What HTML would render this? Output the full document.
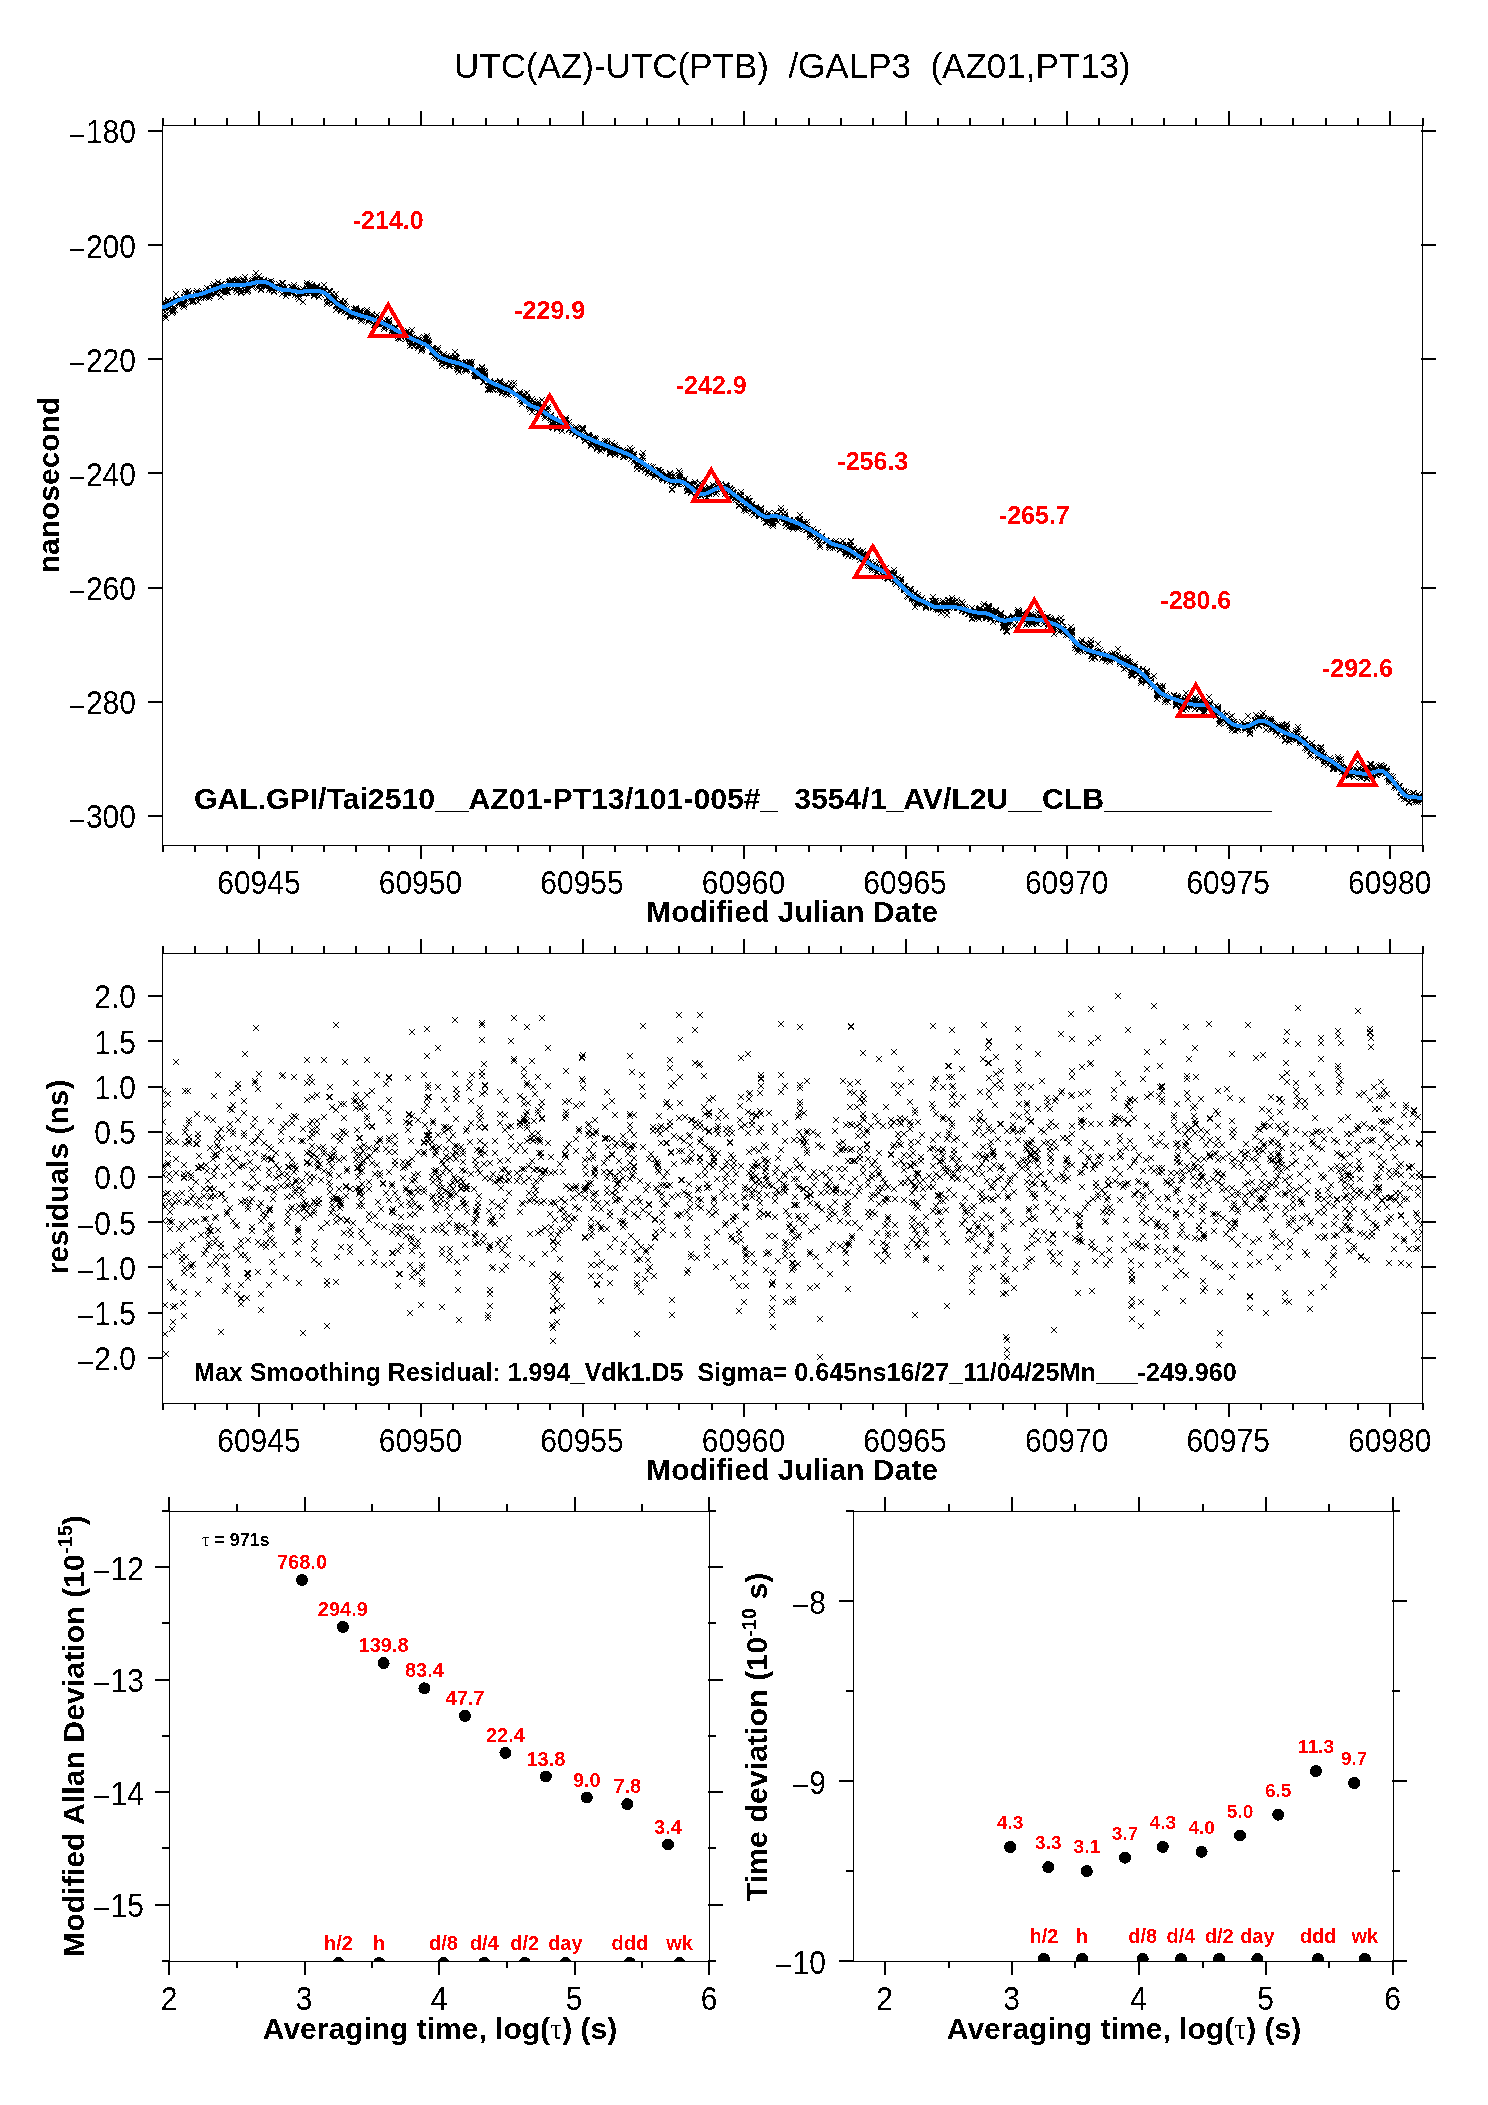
<!DOCTYPE html>
<html><head><meta charset="utf-8"><title>UTC(AZ)-UTC(PTB)</title>
<style>html,body{margin:0;padding:0;background:#fff;width:1488px;height:2105px;overflow:hidden}
svg{display:block;font-family:"Liberation Sans", sans-serif}</style></head>
<body><svg width="1488" height="2105" viewBox="0 0 1488 2105" shape-rendering="crispEdges">
<rect width="1488" height="2105" fill="#fff"/>
<defs>
<filter id="crisp" x="0" y="0" width="100%" height="100%" filterUnits="userSpaceOnUse"><feComponentTransfer><feFuncA type="discrete" tableValues="0 1"/></feComponentTransfer></filter>
<clipPath id="clipTop"><rect x="162" y="125" width="1261" height="720"/></clipPath>
<clipPath id="clipRes"><rect x="162" y="953" width="1261" height="450"/></clipPath>
<clipPath id="clipA"><rect x="169" y="1511" width="540" height="450"/></clipPath>
<clipPath id="clipB"><rect x="853" y="1511" width="540" height="450"/></clipPath>
</defs>
<g filter="url(#crisp)">
<rect x="162" y="125" width="1261" height="1" fill="#000"/>
<rect x="162" y="845" width="1261" height="1" fill="#000"/>
<rect x="162" y="125" width="1" height="721" fill="#000"/>
<rect x="1422" y="125" width="1" height="721" fill="#000"/>
<rect x="258" y="111" width="2" height="15" fill="#000"/>
<rect x="258" y="845" width="2" height="14" fill="#000"/>
<rect x="420" y="111" width="2" height="15" fill="#000"/>
<rect x="420" y="845" width="2" height="14" fill="#000"/>
<rect x="582" y="111" width="2" height="15" fill="#000"/>
<rect x="582" y="845" width="2" height="14" fill="#000"/>
<rect x="743" y="111" width="2" height="15" fill="#000"/>
<rect x="743" y="845" width="2" height="14" fill="#000"/>
<rect x="905" y="111" width="2" height="15" fill="#000"/>
<rect x="905" y="845" width="2" height="14" fill="#000"/>
<rect x="1066" y="111" width="2" height="15" fill="#000"/>
<rect x="1066" y="845" width="2" height="14" fill="#000"/>
<rect x="1228" y="111" width="2" height="15" fill="#000"/>
<rect x="1228" y="845" width="2" height="14" fill="#000"/>
<rect x="1389" y="111" width="2" height="15" fill="#000"/>
<rect x="1389" y="845" width="2" height="14" fill="#000"/>
<rect x="162" y="118" width="2" height="8" fill="#000"/>
<rect x="162" y="845" width="2" height="7" fill="#000"/>
<rect x="194" y="118" width="2" height="8" fill="#000"/>
<rect x="194" y="845" width="2" height="7" fill="#000"/>
<rect x="226" y="118" width="2" height="8" fill="#000"/>
<rect x="226" y="845" width="2" height="7" fill="#000"/>
<rect x="291" y="118" width="2" height="8" fill="#000"/>
<rect x="291" y="845" width="2" height="7" fill="#000"/>
<rect x="323" y="118" width="2" height="8" fill="#000"/>
<rect x="323" y="845" width="2" height="7" fill="#000"/>
<rect x="355" y="118" width="2" height="8" fill="#000"/>
<rect x="355" y="845" width="2" height="7" fill="#000"/>
<rect x="388" y="118" width="2" height="8" fill="#000"/>
<rect x="388" y="845" width="2" height="7" fill="#000"/>
<rect x="452" y="118" width="2" height="8" fill="#000"/>
<rect x="452" y="845" width="2" height="7" fill="#000"/>
<rect x="485" y="118" width="2" height="8" fill="#000"/>
<rect x="485" y="845" width="2" height="7" fill="#000"/>
<rect x="517" y="118" width="2" height="8" fill="#000"/>
<rect x="517" y="845" width="2" height="7" fill="#000"/>
<rect x="549" y="118" width="2" height="8" fill="#000"/>
<rect x="549" y="845" width="2" height="7" fill="#000"/>
<rect x="614" y="118" width="2" height="8" fill="#000"/>
<rect x="614" y="845" width="2" height="7" fill="#000"/>
<rect x="646" y="118" width="2" height="8" fill="#000"/>
<rect x="646" y="845" width="2" height="7" fill="#000"/>
<rect x="678" y="118" width="2" height="8" fill="#000"/>
<rect x="678" y="845" width="2" height="7" fill="#000"/>
<rect x="711" y="118" width="2" height="8" fill="#000"/>
<rect x="711" y="845" width="2" height="7" fill="#000"/>
<rect x="775" y="118" width="2" height="8" fill="#000"/>
<rect x="775" y="845" width="2" height="7" fill="#000"/>
<rect x="808" y="118" width="2" height="8" fill="#000"/>
<rect x="808" y="845" width="2" height="7" fill="#000"/>
<rect x="840" y="118" width="2" height="8" fill="#000"/>
<rect x="840" y="845" width="2" height="7" fill="#000"/>
<rect x="872" y="118" width="2" height="8" fill="#000"/>
<rect x="872" y="845" width="2" height="7" fill="#000"/>
<rect x="937" y="118" width="2" height="8" fill="#000"/>
<rect x="937" y="845" width="2" height="7" fill="#000"/>
<rect x="969" y="118" width="2" height="8" fill="#000"/>
<rect x="969" y="845" width="2" height="7" fill="#000"/>
<rect x="1002" y="118" width="2" height="8" fill="#000"/>
<rect x="1002" y="845" width="2" height="7" fill="#000"/>
<rect x="1034" y="118" width="2" height="8" fill="#000"/>
<rect x="1034" y="845" width="2" height="7" fill="#000"/>
<rect x="1098" y="118" width="2" height="8" fill="#000"/>
<rect x="1098" y="845" width="2" height="7" fill="#000"/>
<rect x="1131" y="118" width="2" height="8" fill="#000"/>
<rect x="1131" y="845" width="2" height="7" fill="#000"/>
<rect x="1163" y="118" width="2" height="8" fill="#000"/>
<rect x="1163" y="845" width="2" height="7" fill="#000"/>
<rect x="1195" y="118" width="2" height="8" fill="#000"/>
<rect x="1195" y="845" width="2" height="7" fill="#000"/>
<rect x="1260" y="118" width="2" height="8" fill="#000"/>
<rect x="1260" y="845" width="2" height="7" fill="#000"/>
<rect x="1292" y="118" width="2" height="8" fill="#000"/>
<rect x="1292" y="845" width="2" height="7" fill="#000"/>
<rect x="1325" y="118" width="2" height="8" fill="#000"/>
<rect x="1325" y="845" width="2" height="7" fill="#000"/>
<rect x="1357" y="118" width="2" height="8" fill="#000"/>
<rect x="1357" y="845" width="2" height="7" fill="#000"/>
<rect x="1422" y="118" width="2" height="8" fill="#000"/>
<rect x="1422" y="845" width="2" height="7" fill="#000"/>
<rect x="148" y="130" width="15" height="2" fill="#000"/>
<rect x="1421" y="130" width="15" height="2" fill="#000"/>
<rect x="148" y="244" width="15" height="2" fill="#000"/>
<rect x="1421" y="244" width="15" height="2" fill="#000"/>
<rect x="148" y="358" width="15" height="2" fill="#000"/>
<rect x="1421" y="358" width="15" height="2" fill="#000"/>
<rect x="148" y="472" width="15" height="2" fill="#000"/>
<rect x="1421" y="472" width="15" height="2" fill="#000"/>
<rect x="148" y="587" width="15" height="2" fill="#000"/>
<rect x="1421" y="587" width="15" height="2" fill="#000"/>
<rect x="148" y="701" width="15" height="2" fill="#000"/>
<rect x="1421" y="701" width="15" height="2" fill="#000"/>
<rect x="148" y="815" width="15" height="2" fill="#000"/>
<rect x="1421" y="815" width="15" height="2" fill="#000"/>
<text x="136" y="143.5" font-size="30" text-anchor="end" fill="#000" transform="matrix(1 0 0 1.08 0 -11.48)"><tspan dy="3">−</tspan><tspan dy="-3">180</tspan></text>
<text x="136" y="257.66666666666663" font-size="30" text-anchor="end" fill="#000" transform="matrix(1 0 0 1.08 0 -20.61)"><tspan dy="3">−</tspan><tspan dy="-3">200</tspan></text>
<text x="136" y="371.8333333333333" font-size="30" text-anchor="end" fill="#000" transform="matrix(1 0 0 1.08 0 -29.75)"><tspan dy="3">−</tspan><tspan dy="-3">220</tspan></text>
<text x="136" y="486.0" font-size="30" text-anchor="end" fill="#000" transform="matrix(1 0 0 1.08 0 -38.88)"><tspan dy="3">−</tspan><tspan dy="-3">240</tspan></text>
<text x="136" y="600.1666666666666" font-size="30" text-anchor="end" fill="#000" transform="matrix(1 0 0 1.08 0 -48.01)"><tspan dy="3">−</tspan><tspan dy="-3">260</tspan></text>
<text x="136" y="714.3333333333333" font-size="30" text-anchor="end" fill="#000" transform="matrix(1 0 0 1.08 0 -57.15)"><tspan dy="3">−</tspan><tspan dy="-3">280</tspan></text>
<text x="136" y="828.5" font-size="30" text-anchor="end" fill="#000" transform="matrix(1 0 0 1.08 0 -66.28)"><tspan dy="3">−</tspan><tspan dy="-3">300</tspan></text>
<text x="258.9230769230769" y="894" font-size="30" text-anchor="middle" fill="#000" transform="matrix(1 0 0 1.08 0 -71.52)">60945</text>
<text x="420.46153846153845" y="894" font-size="30" text-anchor="middle" fill="#000" transform="matrix(1 0 0 1.08 0 -71.52)">60950</text>
<text x="582.0" y="894" font-size="30" text-anchor="middle" fill="#000" transform="matrix(1 0 0 1.08 0 -71.52)">60955</text>
<text x="743.5384615384615" y="894" font-size="30" text-anchor="middle" fill="#000" transform="matrix(1 0 0 1.08 0 -71.52)">60960</text>
<text x="905.0769230769231" y="894" font-size="30" text-anchor="middle" fill="#000" transform="matrix(1 0 0 1.08 0 -71.52)">60965</text>
<text x="1066.6153846153845" y="894" font-size="30" text-anchor="middle" fill="#000" transform="matrix(1 0 0 1.08 0 -71.52)">60970</text>
<text x="1228.1538461538462" y="894" font-size="30" text-anchor="middle" fill="#000" transform="matrix(1 0 0 1.08 0 -71.52)">60975</text>
<text x="1389.6923076923076" y="894" font-size="30" text-anchor="middle" fill="#000" transform="matrix(1 0 0 1.08 0 -71.52)">60980</text>
<text x="792.0" y="922" font-size="30" font-weight="bold" text-anchor="middle" fill="#000">Modified Julian Date</text>
<text x="59" y="485.0" font-size="30" font-weight="bold" text-anchor="middle" fill="#000" transform="rotate(-90 59 485.0)">nanosecond</text>
<text x="454" y="77.5" font-size="35" text-anchor="start" fill="#000" xml:space="preserve">UTC(AZ)-UTC(PTB)&#160;&#160;/GALP3&#160;&#160;(AZ01,PT13)</text>
<g clip-path="url(#clipTop)"><path d="M159 300l6 6m0-6l-6 6M160 304l6 6m0-6l-6 6M160 307l6 6m0-6l-6 6M159 306l6 6m0-6l-6 6M160 306l6 6m0-6l-6 6M160 304l6 6m0-6l-6 6M159 304l6 6m0-6l-6 6M160 299l6 6m0-6l-6 6M160 301l6 6m0-6l-6 6M160 304l6 6m0-6l-6 6M163 304l6 6m0-6l-6 6M163 315l6 6m0-6l-6 6M162 314l6 6m0-6l-6 6M162 309l6 6m0-6l-6 6M162 312l6 6m0-6l-6 6M162 305l6 6m0-6l-6 6M165 301l6 6m0-6l-6 6M165 297l6 6m0-6l-6 6M165 302l6 6m0-6l-6 6M165 298l6 6m0-6l-6 6M165 303l6 6m0-6l-6 6M165 300l6 6m0-6l-6 6M166 305l6 6m0-6l-6 6M165 303l6 6m0-6l-6 6M165 301l6 6m0-6l-6 6M167 305l6 6m0-6l-6 6M167 304l6 6m0-6l-6 6M167 308l6 6m0-6l-6 6M167 299l6 6m0-6l-6 6M166 299l6 6m0-6l-6 6M167 301l6 6m0-6l-6 6M167 304l6 6m0-6l-6 6M166 303l6 6m0-6l-6 6M166 301l6 6m0-6l-6 6M170 305l6 6m0-6l-6 6M169 310l6 6m0-6l-6 6M169 303l6 6m0-6l-6 6M170 309l6 6m0-6l-6 6M170 307l6 6m0-6l-6 6M169 302l6 6m0-6l-6 6M170 308l6 6m0-6l-6 6M172 307l6 6m0-6l-6 6M172 300l6 6m0-6l-6 6M171 306l6 6m0-6l-6 6M173 297l6 6m0-6l-6 6M173 291l6 6m0-6l-6 6M173 299l6 6m0-6l-6 6M173 296l6 6m0-6l-6 6M173 298l6 6m0-6l-6 6M176 301l6 6m0-6l-6 6M176 300l6 6m0-6l-6 6M176 299l6 6m0-6l-6 6M179 301l6 6m0-6l-6 6M179 301l6 6m0-6l-6 6M179 298l6 6m0-6l-6 6M179 300l6 6m0-6l-6 6M180 303l6 6m0-6l-6 6M179 297l6 6m0-6l-6 6M181 301l6 6m0-6l-6 6M181 295l6 6m0-6l-6 6M181 295l6 6m0-6l-6 6M181 295l6 6m0-6l-6 6M181 304l6 6m0-6l-6 6M181 294l6 6m0-6l-6 6M181 302l6 6m0-6l-6 6M183 299l6 6m0-6l-6 6M183 296l6 6m0-6l-6 6M182 292l6 6m0-6l-6 6M183 291l6 6m0-6l-6 6M182 300l6 6m0-6l-6 6M182 292l6 6m0-6l-6 6M182 298l6 6m0-6l-6 6M182 289l6 6m0-6l-6 6M185 291l6 6m0-6l-6 6M186 290l6 6m0-6l-6 6M186 291l6 6m0-6l-6 6M186 291l6 6m0-6l-6 6M186 290l6 6m0-6l-6 6M185 288l6 6m0-6l-6 6M185 295l6 6m0-6l-6 6M185 293l6 6m0-6l-6 6M186 291l6 6m0-6l-6 6M188 294l6 6m0-6l-6 6M188 293l6 6m0-6l-6 6M188 294l6 6m0-6l-6 6M188 299l6 6m0-6l-6 6M188 293l6 6m0-6l-6 6M188 299l6 6m0-6l-6 6M188 296l6 6m0-6l-6 6M190 294l6 6m0-6l-6 6M190 298l6 6m0-6l-6 6M190 297l6 6m0-6l-6 6M190 299l6 6m0-6l-6 6M193 294l6 6m0-6l-6 6M194 290l6 6m0-6l-6 6M193 290l6 6m0-6l-6 6M194 288l6 6m0-6l-6 6M193 292l6 6m0-6l-6 6M193 295l6 6m0-6l-6 6M195 289l6 6m0-6l-6 6M196 293l6 6m0-6l-6 6M196 291l6 6m0-6l-6 6M196 290l6 6m0-6l-6 6M195 299l6 6m0-6l-6 6M195 289l6 6m0-6l-6 6M195 291l6 6m0-6l-6 6M198 293l6 6m0-6l-6 6M198 290l6 6m0-6l-6 6M198 295l6 6m0-6l-6 6M198 290l6 6m0-6l-6 6M201 293l6 6m0-6l-6 6M201 291l6 6m0-6l-6 6M201 291l6 6m0-6l-6 6M201 295l6 6m0-6l-6 6M204 285l6 6m0-6l-6 6M203 288l6 6m0-6l-6 6M203 292l6 6m0-6l-6 6M203 294l6 6m0-6l-6 6M204 289l6 6m0-6l-6 6M205 289l6 6m0-6l-6 6M206 290l6 6m0-6l-6 6M206 293l6 6m0-6l-6 6M205 292l6 6m0-6l-6 6M206 295l6 6m0-6l-6 6M205 292l6 6m0-6l-6 6M206 292l6 6m0-6l-6 6M207 289l6 6m0-6l-6 6M207 289l6 6m0-6l-6 6M208 291l6 6m0-6l-6 6M207 293l6 6m0-6l-6 6M207 291l6 6m0-6l-6 6M208 289l6 6m0-6l-6 6M207 286l6 6m0-6l-6 6M207 291l6 6m0-6l-6 6M207 288l6 6m0-6l-6 6M210 283l6 6m0-6l-6 6M211 281l6 6m0-6l-6 6M210 285l6 6m0-6l-6 6M211 286l6 6m0-6l-6 6M211 286l6 6m0-6l-6 6M211 287l6 6m0-6l-6 6M211 285l6 6m0-6l-6 6M213 291l6 6m0-6l-6 6M213 291l6 6m0-6l-6 6M213 290l6 6m0-6l-6 6M213 288l6 6m0-6l-6 6M212 290l6 6m0-6l-6 6M213 284l6 6m0-6l-6 6M212 287l6 6m0-6l-6 6M212 289l6 6m0-6l-6 6M215 282l6 6m0-6l-6 6M215 279l6 6m0-6l-6 6M215 283l6 6m0-6l-6 6M214 285l6 6m0-6l-6 6M214 283l6 6m0-6l-6 6M214 284l6 6m0-6l-6 6M215 288l6 6m0-6l-6 6M214 283l6 6m0-6l-6 6M218 282l6 6m0-6l-6 6M218 285l6 6m0-6l-6 6M218 288l6 6m0-6l-6 6M219 285l6 6m0-6l-6 6M218 285l6 6m0-6l-6 6M218 294l6 6m0-6l-6 6M218 281l6 6m0-6l-6 6M219 281l6 6m0-6l-6 6M218 288l6 6m0-6l-6 6M219 289l6 6m0-6l-6 6M222 290l6 6m0-6l-6 6M221 283l6 6m0-6l-6 6M222 284l6 6m0-6l-6 6M222 288l6 6m0-6l-6 6M224 288l6 6m0-6l-6 6M224 289l6 6m0-6l-6 6M225 289l6 6m0-6l-6 6M225 282l6 6m0-6l-6 6M224 287l6 6m0-6l-6 6M224 285l6 6m0-6l-6 6M224 285l6 6m0-6l-6 6M227 279l6 6m0-6l-6 6M226 279l6 6m0-6l-6 6M227 278l6 6m0-6l-6 6M227 281l6 6m0-6l-6 6M227 284l6 6m0-6l-6 6M226 281l6 6m0-6l-6 6M230 285l6 6m0-6l-6 6M230 279l6 6m0-6l-6 6M230 278l6 6m0-6l-6 6M229 277l6 6m0-6l-6 6M230 279l6 6m0-6l-6 6M230 282l6 6m0-6l-6 6M229 283l6 6m0-6l-6 6M229 278l6 6m0-6l-6 6M230 281l6 6m0-6l-6 6M234 285l6 6m0-6l-6 6M233 285l6 6m0-6l-6 6M233 281l6 6m0-6l-6 6M234 289l6 6m0-6l-6 6M233 287l6 6m0-6l-6 6M235 280l6 6m0-6l-6 6M235 276l6 6m0-6l-6 6M235 276l6 6m0-6l-6 6M236 281l6 6m0-6l-6 6M235 278l6 6m0-6l-6 6M238 289l6 6m0-6l-6 6M239 281l6 6m0-6l-6 6M238 289l6 6m0-6l-6 6M238 286l6 6m0-6l-6 6M238 287l6 6m0-6l-6 6M238 283l6 6m0-6l-6 6M238 290l6 6m0-6l-6 6M238 286l6 6m0-6l-6 6M238 289l6 6m0-6l-6 6M242 282l6 6m0-6l-6 6M241 278l6 6m0-6l-6 6M241 277l6 6m0-6l-6 6M242 287l6 6m0-6l-6 6M242 283l6 6m0-6l-6 6M241 279l6 6m0-6l-6 6M242 283l6 6m0-6l-6 6M242 274l6 6m0-6l-6 6M241 281l6 6m0-6l-6 6M241 279l6 6m0-6l-6 6M244 280l6 6m0-6l-6 6M245 287l6 6m0-6l-6 6M244 289l6 6m0-6l-6 6M245 288l6 6m0-6l-6 6M245 287l6 6m0-6l-6 6M244 287l6 6m0-6l-6 6M245 283l6 6m0-6l-6 6M245 287l6 6m0-6l-6 6M245 285l6 6m0-6l-6 6M245 283l6 6m0-6l-6 6M247 282l6 6m0-6l-6 6M248 281l6 6m0-6l-6 6M247 280l6 6m0-6l-6 6M249 284l6 6m0-6l-6 6M250 277l6 6m0-6l-6 6M249 284l6 6m0-6l-6 6M249 282l6 6m0-6l-6 6M249 278l6 6m0-6l-6 6M249 280l6 6m0-6l-6 6M249 281l6 6m0-6l-6 6M250 280l6 6m0-6l-6 6M252 278l6 6m0-6l-6 6M252 274l6 6m0-6l-6 6M252 274l6 6m0-6l-6 6M253 270l6 6m0-6l-6 6M252 276l6 6m0-6l-6 6M252 278l6 6m0-6l-6 6M255 285l6 6m0-6l-6 6M256 273l6 6m0-6l-6 6M255 278l6 6m0-6l-6 6M255 283l6 6m0-6l-6 6M256 281l6 6m0-6l-6 6M255 277l6 6m0-6l-6 6M255 280l6 6m0-6l-6 6M255 274l6 6m0-6l-6 6M258 287l6 6m0-6l-6 6M258 283l6 6m0-6l-6 6M258 282l6 6m0-6l-6 6M258 286l6 6m0-6l-6 6M258 281l6 6m0-6l-6 6M258 276l6 6m0-6l-6 6M261 282l6 6m0-6l-6 6M261 278l6 6m0-6l-6 6M261 277l6 6m0-6l-6 6M261 278l6 6m0-6l-6 6M261 282l6 6m0-6l-6 6M260 281l6 6m0-6l-6 6M263 284l6 6m0-6l-6 6M263 280l6 6m0-6l-6 6M263 284l6 6m0-6l-6 6M263 280l6 6m0-6l-6 6M263 283l6 6m0-6l-6 6M263 282l6 6m0-6l-6 6M266 279l6 6m0-6l-6 6M266 287l6 6m0-6l-6 6M266 280l6 6m0-6l-6 6M266 283l6 6m0-6l-6 6M266 281l6 6m0-6l-6 6M265 279l6 6m0-6l-6 6M266 280l6 6m0-6l-6 6M268 285l6 6m0-6l-6 6M267 283l6 6m0-6l-6 6M267 283l6 6m0-6l-6 6M267 285l6 6m0-6l-6 6M268 278l6 6m0-6l-6 6M268 280l6 6m0-6l-6 6M268 280l6 6m0-6l-6 6M268 280l6 6m0-6l-6 6M269 286l6 6m0-6l-6 6M270 284l6 6m0-6l-6 6M269 281l6 6m0-6l-6 6M269 285l6 6m0-6l-6 6M268 285l6 6m0-6l-6 6M269 287l6 6m0-6l-6 6M271 284l6 6m0-6l-6 6M271 288l6 6m0-6l-6 6M271 289l6 6m0-6l-6 6M273 285l6 6m0-6l-6 6M272 285l6 6m0-6l-6 6M273 283l6 6m0-6l-6 6M273 284l6 6m0-6l-6 6M276 285l6 6m0-6l-6 6M276 286l6 6m0-6l-6 6M276 281l6 6m0-6l-6 6M278 284l6 6m0-6l-6 6M278 284l6 6m0-6l-6 6M278 287l6 6m0-6l-6 6M279 286l6 6m0-6l-6 6M279 291l6 6m0-6l-6 6M280 284l6 6m0-6l-6 6M279 280l6 6m0-6l-6 6M280 280l6 6m0-6l-6 6M284 290l6 6m0-6l-6 6M283 293l6 6m0-6l-6 6M284 287l6 6m0-6l-6 6M283 284l6 6m0-6l-6 6M284 288l6 6m0-6l-6 6M284 288l6 6m0-6l-6 6M285 290l6 6m0-6l-6 6M285 286l6 6m0-6l-6 6M285 287l6 6m0-6l-6 6M285 288l6 6m0-6l-6 6M285 289l6 6m0-6l-6 6M286 287l6 6m0-6l-6 6M285 287l6 6m0-6l-6 6M289 287l6 6m0-6l-6 6M289 284l6 6m0-6l-6 6M289 290l6 6m0-6l-6 6M289 284l6 6m0-6l-6 6M288 290l6 6m0-6l-6 6M289 289l6 6m0-6l-6 6M289 285l6 6m0-6l-6 6M289 287l6 6m0-6l-6 6M289 288l6 6m0-6l-6 6M291 282l6 6m0-6l-6 6M291 284l6 6m0-6l-6 6M291 288l6 6m0-6l-6 6M292 292l6 6m0-6l-6 6M292 289l6 6m0-6l-6 6M292 288l6 6m0-6l-6 6M293 289l6 6m0-6l-6 6M293 288l6 6m0-6l-6 6M293 289l6 6m0-6l-6 6M292 289l6 6m0-6l-6 6M293 285l6 6m0-6l-6 6M295 292l6 6m0-6l-6 6M296 296l6 6m0-6l-6 6M295 292l6 6m0-6l-6 6M296 293l6 6m0-6l-6 6M295 294l6 6m0-6l-6 6M295 291l6 6m0-6l-6 6M296 290l6 6m0-6l-6 6M295 292l6 6m0-6l-6 6M296 291l6 6m0-6l-6 6M299 289l6 6m0-6l-6 6M298 290l6 6m0-6l-6 6M298 287l6 6m0-6l-6 6M301 291l6 6m0-6l-6 6M301 290l6 6m0-6l-6 6M301 290l6 6m0-6l-6 6M300 299l6 6m0-6l-6 6M300 290l6 6m0-6l-6 6M300 286l6 6m0-6l-6 6M301 291l6 6m0-6l-6 6M300 290l6 6m0-6l-6 6M300 286l6 6m0-6l-6 6M304 287l6 6m0-6l-6 6M304 283l6 6m0-6l-6 6M304 287l6 6m0-6l-6 6M303 290l6 6m0-6l-6 6M304 280l6 6m0-6l-6 6M304 286l6 6m0-6l-6 6M304 282l6 6m0-6l-6 6M304 290l6 6m0-6l-6 6M304 288l6 6m0-6l-6 6M307 286l6 6m0-6l-6 6M307 288l6 6m0-6l-6 6M307 290l6 6m0-6l-6 6M307 284l6 6m0-6l-6 6M307 281l6 6m0-6l-6 6M307 288l6 6m0-6l-6 6M307 289l6 6m0-6l-6 6M307 285l6 6m0-6l-6 6M307 287l6 6m0-6l-6 6M309 282l6 6m0-6l-6 6M309 285l6 6m0-6l-6 6M309 285l6 6m0-6l-6 6M309 286l6 6m0-6l-6 6M309 283l6 6m0-6l-6 6M310 286l6 6m0-6l-6 6M309 284l6 6m0-6l-6 6M309 286l6 6m0-6l-6 6M311 289l6 6m0-6l-6 6M311 292l6 6m0-6l-6 6M312 292l6 6m0-6l-6 6M312 289l6 6m0-6l-6 6M311 288l6 6m0-6l-6 6M311 293l6 6m0-6l-6 6M311 290l6 6m0-6l-6 6M311 290l6 6m0-6l-6 6M314 284l6 6m0-6l-6 6M314 283l6 6m0-6l-6 6M314 287l6 6m0-6l-6 6M315 287l6 6m0-6l-6 6M314 287l6 6m0-6l-6 6M314 290l6 6m0-6l-6 6M315 287l6 6m0-6l-6 6M314 285l6 6m0-6l-6 6M314 285l6 6m0-6l-6 6M315 287l6 6m0-6l-6 6M316 290l6 6m0-6l-6 6M316 286l6 6m0-6l-6 6M316 290l6 6m0-6l-6 6M316 294l6 6m0-6l-6 6M317 288l6 6m0-6l-6 6M318 292l6 6m0-6l-6 6M318 289l6 6m0-6l-6 6M320 288l6 6m0-6l-6 6M321 288l6 6m0-6l-6 6M321 282l6 6m0-6l-6 6M321 288l6 6m0-6l-6 6M321 289l6 6m0-6l-6 6M321 286l6 6m0-6l-6 6M324 299l6 6m0-6l-6 6M324 295l6 6m0-6l-6 6M324 299l6 6m0-6l-6 6M324 301l6 6m0-6l-6 6M327 295l6 6m0-6l-6 6M327 294l6 6m0-6l-6 6M327 293l6 6m0-6l-6 6M326 288l6 6m0-6l-6 6M326 293l6 6m0-6l-6 6M327 289l6 6m0-6l-6 6M326 294l6 6m0-6l-6 6M327 288l6 6m0-6l-6 6M326 293l6 6m0-6l-6 6M327 295l6 6m0-6l-6 6M329 291l6 6m0-6l-6 6M328 298l6 6m0-6l-6 6M329 295l6 6m0-6l-6 6M329 298l6 6m0-6l-6 6M328 294l6 6m0-6l-6 6M329 295l6 6m0-6l-6 6M329 295l6 6m0-6l-6 6M329 298l6 6m0-6l-6 6M331 300l6 6m0-6l-6 6M331 299l6 6m0-6l-6 6M330 300l6 6m0-6l-6 6M331 296l6 6m0-6l-6 6M331 297l6 6m0-6l-6 6M331 297l6 6m0-6l-6 6M331 295l6 6m0-6l-6 6M333 291l6 6m0-6l-6 6M334 302l6 6m0-6l-6 6M333 296l6 6m0-6l-6 6M334 306l6 6m0-6l-6 6M333 307l6 6m0-6l-6 6M333 303l6 6m0-6l-6 6M334 303l6 6m0-6l-6 6M334 302l6 6m0-6l-6 6M336 303l6 6m0-6l-6 6M337 304l6 6m0-6l-6 6M336 302l6 6m0-6l-6 6M336 304l6 6m0-6l-6 6M336 301l6 6m0-6l-6 6M337 304l6 6m0-6l-6 6M337 304l6 6m0-6l-6 6M338 305l6 6m0-6l-6 6M338 308l6 6m0-6l-6 6M338 305l6 6m0-6l-6 6M338 305l6 6m0-6l-6 6M338 298l6 6m0-6l-6 6M337 300l6 6m0-6l-6 6M337 301l6 6m0-6l-6 6M339 301l6 6m0-6l-6 6M338 306l6 6m0-6l-6 6M342 298l6 6m0-6l-6 6M341 302l6 6m0-6l-6 6M341 304l6 6m0-6l-6 6M341 301l6 6m0-6l-6 6M341 309l6 6m0-6l-6 6M341 304l6 6m0-6l-6 6M341 302l6 6m0-6l-6 6M344 306l6 6m0-6l-6 6M344 306l6 6m0-6l-6 6M344 310l6 6m0-6l-6 6M344 310l6 6m0-6l-6 6M343 304l6 6m0-6l-6 6M343 307l6 6m0-6l-6 6M343 307l6 6m0-6l-6 6M343 308l6 6m0-6l-6 6M347 309l6 6m0-6l-6 6M347 314l6 6m0-6l-6 6M347 313l6 6m0-6l-6 6M348 313l6 6m0-6l-6 6M347 312l6 6m0-6l-6 6M350 313l6 6m0-6l-6 6M351 309l6 6m0-6l-6 6M351 306l6 6m0-6l-6 6M353 307l6 6m0-6l-6 6M353 306l6 6m0-6l-6 6M353 306l6 6m0-6l-6 6M353 312l6 6m0-6l-6 6M353 310l6 6m0-6l-6 6M354 310l6 6m0-6l-6 6M354 308l6 6m0-6l-6 6M353 305l6 6m0-6l-6 6M354 311l6 6m0-6l-6 6M353 310l6 6m0-6l-6 6M356 313l6 6m0-6l-6 6M356 314l6 6m0-6l-6 6M355 311l6 6m0-6l-6 6M356 313l6 6m0-6l-6 6M356 310l6 6m0-6l-6 6M355 312l6 6m0-6l-6 6M356 311l6 6m0-6l-6 6M357 313l6 6m0-6l-6 6M358 308l6 6m0-6l-6 6M357 312l6 6m0-6l-6 6M357 313l6 6m0-6l-6 6M357 308l6 6m0-6l-6 6M357 311l6 6m0-6l-6 6M357 311l6 6m0-6l-6 6M357 310l6 6m0-6l-6 6M357 308l6 6m0-6l-6 6M358 314l6 6m0-6l-6 6M359 314l6 6m0-6l-6 6M359 313l6 6m0-6l-6 6M359 315l6 6m0-6l-6 6M358 318l6 6m0-6l-6 6M359 317l6 6m0-6l-6 6M359 313l6 6m0-6l-6 6M358 316l6 6m0-6l-6 6M359 312l6 6m0-6l-6 6M359 314l6 6m0-6l-6 6M359 312l6 6m0-6l-6 6M360 312l6 6m0-6l-6 6M362 309l6 6m0-6l-6 6M361 313l6 6m0-6l-6 6M361 312l6 6m0-6l-6 6M364 307l6 6m0-6l-6 6M364 309l6 6m0-6l-6 6M364 311l6 6m0-6l-6 6M364 311l6 6m0-6l-6 6M364 311l6 6m0-6l-6 6M364 313l6 6m0-6l-6 6M366 313l6 6m0-6l-6 6M366 317l6 6m0-6l-6 6M365 319l6 6m0-6l-6 6M366 315l6 6m0-6l-6 6M366 316l6 6m0-6l-6 6M367 314l6 6m0-6l-6 6M366 318l6 6m0-6l-6 6M369 313l6 6m0-6l-6 6M369 313l6 6m0-6l-6 6M369 311l6 6m0-6l-6 6M369 315l6 6m0-6l-6 6M372 322l6 6m0-6l-6 6M372 315l6 6m0-6l-6 6M372 320l6 6m0-6l-6 6M372 317l6 6m0-6l-6 6M371 322l6 6m0-6l-6 6M374 321l6 6m0-6l-6 6M374 316l6 6m0-6l-6 6M374 316l6 6m0-6l-6 6M374 312l6 6m0-6l-6 6M374 317l6 6m0-6l-6 6M375 320l6 6m0-6l-6 6M377 319l6 6m0-6l-6 6M378 321l6 6m0-6l-6 6M377 317l6 6m0-6l-6 6M377 319l6 6m0-6l-6 6M377 317l6 6m0-6l-6 6M378 315l6 6m0-6l-6 6M380 321l6 6m0-6l-6 6M380 321l6 6m0-6l-6 6M381 326l6 6m0-6l-6 6M381 324l6 6m0-6l-6 6M383 323l6 6m0-6l-6 6M383 316l6 6m0-6l-6 6M383 320l6 6m0-6l-6 6M385 319l6 6m0-6l-6 6M386 317l6 6m0-6l-6 6M386 322l6 6m0-6l-6 6M386 325l6 6m0-6l-6 6M386 323l6 6m0-6l-6 6M386 318l6 6m0-6l-6 6M386 320l6 6m0-6l-6 6M386 321l6 6m0-6l-6 6M386 317l6 6m0-6l-6 6M386 321l6 6m0-6l-6 6M389 330l6 6m0-6l-6 6M389 325l6 6m0-6l-6 6M389 327l6 6m0-6l-6 6M389 330l6 6m0-6l-6 6M390 330l6 6m0-6l-6 6M389 325l6 6m0-6l-6 6M389 327l6 6m0-6l-6 6M389 328l6 6m0-6l-6 6M390 327l6 6m0-6l-6 6M392 330l6 6m0-6l-6 6M391 329l6 6m0-6l-6 6M392 326l6 6m0-6l-6 6M392 324l6 6m0-6l-6 6M392 325l6 6m0-6l-6 6M392 326l6 6m0-6l-6 6M392 325l6 6m0-6l-6 6M392 328l6 6m0-6l-6 6M395 333l6 6m0-6l-6 6M395 332l6 6m0-6l-6 6M395 330l6 6m0-6l-6 6M395 335l6 6m0-6l-6 6M396 335l6 6m0-6l-6 6M397 332l6 6m0-6l-6 6M398 334l6 6m0-6l-6 6M398 332l6 6m0-6l-6 6M398 332l6 6m0-6l-6 6M397 333l6 6m0-6l-6 6M397 336l6 6m0-6l-6 6M400 330l6 6m0-6l-6 6M400 331l6 6m0-6l-6 6M400 331l6 6m0-6l-6 6M403 333l6 6m0-6l-6 6M402 332l6 6m0-6l-6 6M403 336l6 6m0-6l-6 6M403 329l6 6m0-6l-6 6M403 333l6 6m0-6l-6 6M403 336l6 6m0-6l-6 6M406 336l6 6m0-6l-6 6M405 333l6 6m0-6l-6 6M405 331l6 6m0-6l-6 6M406 330l6 6m0-6l-6 6M406 330l6 6m0-6l-6 6M406 333l6 6m0-6l-6 6M405 328l6 6m0-6l-6 6M406 335l6 6m0-6l-6 6M407 331l6 6m0-6l-6 6M406 331l6 6m0-6l-6 6M407 336l6 6m0-6l-6 6M407 343l6 6m0-6l-6 6M407 337l6 6m0-6l-6 6M407 340l6 6m0-6l-6 6M408 339l6 6m0-6l-6 6M408 339l6 6m0-6l-6 6M408 338l6 6m0-6l-6 6M407 337l6 6m0-6l-6 6M409 340l6 6m0-6l-6 6M409 327l6 6m0-6l-6 6M409 339l6 6m0-6l-6 6M409 336l6 6m0-6l-6 6M409 335l6 6m0-6l-6 6M409 337l6 6m0-6l-6 6M409 337l6 6m0-6l-6 6M409 342l6 6m0-6l-6 6M408 333l6 6m0-6l-6 6M409 332l6 6m0-6l-6 6M412 342l6 6m0-6l-6 6M412 337l6 6m0-6l-6 6M411 337l6 6m0-6l-6 6M412 340l6 6m0-6l-6 6M411 343l6 6m0-6l-6 6M412 339l6 6m0-6l-6 6M415 339l6 6m0-6l-6 6M415 343l6 6m0-6l-6 6M415 340l6 6m0-6l-6 6M415 337l6 6m0-6l-6 6M415 338l6 6m0-6l-6 6M415 342l6 6m0-6l-6 6M415 345l6 6m0-6l-6 6M415 335l6 6m0-6l-6 6M415 337l6 6m0-6l-6 6M415 339l6 6m0-6l-6 6M419 346l6 6m0-6l-6 6M419 347l6 6m0-6l-6 6M419 345l6 6m0-6l-6 6M419 346l6 6m0-6l-6 6M418 348l6 6m0-6l-6 6M418 342l6 6m0-6l-6 6M419 347l6 6m0-6l-6 6M421 342l6 6m0-6l-6 6M422 338l6 6m0-6l-6 6M421 339l6 6m0-6l-6 6M420 344l6 6m0-6l-6 6M421 337l6 6m0-6l-6 6M421 340l6 6m0-6l-6 6M421 339l6 6m0-6l-6 6M421 334l6 6m0-6l-6 6M421 342l6 6m0-6l-6 6M421 339l6 6m0-6l-6 6M424 338l6 6m0-6l-6 6M425 337l6 6m0-6l-6 6M425 337l6 6m0-6l-6 6M424 340l6 6m0-6l-6 6M424 338l6 6m0-6l-6 6M424 340l6 6m0-6l-6 6M424 333l6 6m0-6l-6 6M424 335l6 6m0-6l-6 6M425 338l6 6m0-6l-6 6M425 338l6 6m0-6l-6 6M426 342l6 6m0-6l-6 6M426 342l6 6m0-6l-6 6M426 339l6 6m0-6l-6 6M426 341l6 6m0-6l-6 6M425 341l6 6m0-6l-6 6M430 349l6 6m0-6l-6 6M429 345l6 6m0-6l-6 6M430 345l6 6m0-6l-6 6M430 345l6 6m0-6l-6 6M429 348l6 6m0-6l-6 6M430 346l6 6m0-6l-6 6M429 349l6 6m0-6l-6 6M429 345l6 6m0-6l-6 6M430 348l6 6m0-6l-6 6M431 349l6 6m0-6l-6 6M431 353l6 6m0-6l-6 6M432 352l6 6m0-6l-6 6M433 353l6 6m0-6l-6 6M433 351l6 6m0-6l-6 6M432 350l6 6m0-6l-6 6M433 355l6 6m0-6l-6 6M433 353l6 6m0-6l-6 6M433 351l6 6m0-6l-6 6M433 349l6 6m0-6l-6 6M433 350l6 6m0-6l-6 6M435 351l6 6m0-6l-6 6M435 345l6 6m0-6l-6 6M435 347l6 6m0-6l-6 6M435 353l6 6m0-6l-6 6M436 352l6 6m0-6l-6 6M437 354l6 6m0-6l-6 6M437 356l6 6m0-6l-6 6M436 355l6 6m0-6l-6 6M436 354l6 6m0-6l-6 6M436 354l6 6m0-6l-6 6M439 363l6 6m0-6l-6 6M439 354l6 6m0-6l-6 6M439 360l6 6m0-6l-6 6M438 356l6 6m0-6l-6 6M439 359l6 6m0-6l-6 6M439 360l6 6m0-6l-6 6M438 356l6 6m0-6l-6 6M439 358l6 6m0-6l-6 6M439 356l6 6m0-6l-6 6M441 353l6 6m0-6l-6 6M441 351l6 6m0-6l-6 6M441 353l6 6m0-6l-6 6M440 355l6 6m0-6l-6 6M440 355l6 6m0-6l-6 6M443 354l6 6m0-6l-6 6M443 360l6 6m0-6l-6 6M443 355l6 6m0-6l-6 6M444 356l6 6m0-6l-6 6M443 358l6 6m0-6l-6 6M443 356l6 6m0-6l-6 6M444 353l6 6m0-6l-6 6M443 355l6 6m0-6l-6 6M444 359l6 6m0-6l-6 6M444 359l6 6m0-6l-6 6M446 359l6 6m0-6l-6 6M445 355l6 6m0-6l-6 6M446 361l6 6m0-6l-6 6M445 359l6 6m0-6l-6 6M446 363l6 6m0-6l-6 6M446 355l6 6m0-6l-6 6M447 359l6 6m0-6l-6 6M447 363l6 6m0-6l-6 6M447 357l6 6m0-6l-6 6M447 355l6 6m0-6l-6 6M447 359l6 6m0-6l-6 6M447 359l6 6m0-6l-6 6M447 358l6 6m0-6l-6 6M447 361l6 6m0-6l-6 6M447 363l6 6m0-6l-6 6M451 359l6 6m0-6l-6 6M450 359l6 6m0-6l-6 6M450 356l6 6m0-6l-6 6M449 360l6 6m0-6l-6 6M450 358l6 6m0-6l-6 6M450 360l6 6m0-6l-6 6M453 354l6 6m0-6l-6 6M452 358l6 6m0-6l-6 6M452 349l6 6m0-6l-6 6M452 353l6 6m0-6l-6 6M452 357l6 6m0-6l-6 6M453 361l6 6m0-6l-6 6M452 359l6 6m0-6l-6 6M453 356l6 6m0-6l-6 6M453 355l6 6m0-6l-6 6M454 360l6 6m0-6l-6 6M454 363l6 6m0-6l-6 6M454 363l6 6m0-6l-6 6M454 355l6 6m0-6l-6 6M454 362l6 6m0-6l-6 6M454 358l6 6m0-6l-6 6M454 358l6 6m0-6l-6 6M453 359l6 6m0-6l-6 6M454 365l6 6m0-6l-6 6M455 364l6 6m0-6l-6 6M455 366l6 6m0-6l-6 6M456 369l6 6m0-6l-6 6M455 367l6 6m0-6l-6 6M455 363l6 6m0-6l-6 6M458 359l6 6m0-6l-6 6M458 362l6 6m0-6l-6 6M458 361l6 6m0-6l-6 6M458 362l6 6m0-6l-6 6M458 362l6 6m0-6l-6 6M460 363l6 6m0-6l-6 6M459 365l6 6m0-6l-6 6M460 361l6 6m0-6l-6 6M460 361l6 6m0-6l-6 6M460 363l6 6m0-6l-6 6M459 361l6 6m0-6l-6 6M460 360l6 6m0-6l-6 6M460 362l6 6m0-6l-6 6M462 362l6 6m0-6l-6 6M462 366l6 6m0-6l-6 6M461 364l6 6m0-6l-6 6M462 363l6 6m0-6l-6 6M462 367l6 6m0-6l-6 6M464 366l6 6m0-6l-6 6M463 364l6 6m0-6l-6 6M464 364l6 6m0-6l-6 6M463 364l6 6m0-6l-6 6M463 360l6 6m0-6l-6 6M463 368l6 6m0-6l-6 6M464 360l6 6m0-6l-6 6M463 365l6 6m0-6l-6 6M464 364l6 6m0-6l-6 6M464 367l6 6m0-6l-6 6M467 359l6 6m0-6l-6 6M466 359l6 6m0-6l-6 6M467 363l6 6m0-6l-6 6M468 365l6 6m0-6l-6 6M468 362l6 6m0-6l-6 6M468 361l6 6m0-6l-6 6M469 359l6 6m0-6l-6 6M472 367l6 6m0-6l-6 6M471 370l6 6m0-6l-6 6M472 372l6 6m0-6l-6 6M471 368l6 6m0-6l-6 6M473 368l6 6m0-6l-6 6M473 372l6 6m0-6l-6 6M472 371l6 6m0-6l-6 6M473 371l6 6m0-6l-6 6M473 371l6 6m0-6l-6 6M472 372l6 6m0-6l-6 6M472 373l6 6m0-6l-6 6M473 371l6 6m0-6l-6 6M473 373l6 6m0-6l-6 6M475 373l6 6m0-6l-6 6M475 370l6 6m0-6l-6 6M476 372l6 6m0-6l-6 6M474 368l6 6m0-6l-6 6M475 374l6 6m0-6l-6 6M474 373l6 6m0-6l-6 6M475 373l6 6m0-6l-6 6M478 369l6 6m0-6l-6 6M477 370l6 6m0-6l-6 6M476 368l6 6m0-6l-6 6M477 369l6 6m0-6l-6 6M477 372l6 6m0-6l-6 6M478 371l6 6m0-6l-6 6M477 368l6 6m0-6l-6 6M476 369l6 6m0-6l-6 6M477 370l6 6m0-6l-6 6M479 364l6 6m0-6l-6 6M479 365l6 6m0-6l-6 6M479 367l6 6m0-6l-6 6M479 368l6 6m0-6l-6 6M478 372l6 6m0-6l-6 6M478 371l6 6m0-6l-6 6M479 364l6 6m0-6l-6 6M479 367l6 6m0-6l-6 6M481 379l6 6m0-6l-6 6M481 374l6 6m0-6l-6 6M480 379l6 6m0-6l-6 6M482 376l6 6m0-6l-6 6M482 374l6 6m0-6l-6 6M482 370l6 6m0-6l-6 6M482 369l6 6m0-6l-6 6M482 372l6 6m0-6l-6 6M482 373l6 6m0-6l-6 6M482 370l6 6m0-6l-6 6M482 373l6 6m0-6l-6 6M481 368l6 6m0-6l-6 6M485 387l6 6m0-6l-6 6M486 383l6 6m0-6l-6 6M485 386l6 6m0-6l-6 6M486 380l6 6m0-6l-6 6M487 382l6 6m0-6l-6 6M487 386l6 6m0-6l-6 6M487 379l6 6m0-6l-6 6M487 383l6 6m0-6l-6 6M487 378l6 6m0-6l-6 6M487 383l6 6m0-6l-6 6M487 386l6 6m0-6l-6 6M487 387l6 6m0-6l-6 6M488 382l6 6m0-6l-6 6M490 380l6 6m0-6l-6 6M490 386l6 6m0-6l-6 6M489 386l6 6m0-6l-6 6M489 383l6 6m0-6l-6 6M489 381l6 6m0-6l-6 6M490 383l6 6m0-6l-6 6M492 384l6 6m0-6l-6 6M492 382l6 6m0-6l-6 6M492 380l6 6m0-6l-6 6M492 379l6 6m0-6l-6 6M495 383l6 6m0-6l-6 6M495 387l6 6m0-6l-6 6M495 384l6 6m0-6l-6 6M497 382l6 6m0-6l-6 6M497 379l6 6m0-6l-6 6M497 387l6 6m0-6l-6 6M497 383l6 6m0-6l-6 6M497 378l6 6m0-6l-6 6M497 383l6 6m0-6l-6 6M497 380l6 6m0-6l-6 6M499 386l6 6m0-6l-6 6M498 384l6 6m0-6l-6 6M499 387l6 6m0-6l-6 6M499 389l6 6m0-6l-6 6M498 385l6 6m0-6l-6 6M499 384l6 6m0-6l-6 6M499 390l6 6m0-6l-6 6M502 390l6 6m0-6l-6 6M503 391l6 6m0-6l-6 6M502 385l6 6m0-6l-6 6M502 382l6 6m0-6l-6 6M502 387l6 6m0-6l-6 6M503 386l6 6m0-6l-6 6M502 383l6 6m0-6l-6 6M503 381l6 6m0-6l-6 6M502 387l6 6m0-6l-6 6M506 388l6 6m0-6l-6 6M505 392l6 6m0-6l-6 6M506 388l6 6m0-6l-6 6M506 391l6 6m0-6l-6 6M505 387l6 6m0-6l-6 6M505 384l6 6m0-6l-6 6M505 386l6 6m0-6l-6 6M506 387l6 6m0-6l-6 6M508 380l6 6m0-6l-6 6M508 386l6 6m0-6l-6 6M508 387l6 6m0-6l-6 6M508 385l6 6m0-6l-6 6M511 383l6 6m0-6l-6 6M511 380l6 6m0-6l-6 6M511 383l6 6m0-6l-6 6M514 392l6 6m0-6l-6 6M514 392l6 6m0-6l-6 6M513 390l6 6m0-6l-6 6M517 391l6 6m0-6l-6 6M517 391l6 6m0-6l-6 6M517 392l6 6m0-6l-6 6M517 391l6 6m0-6l-6 6M517 389l6 6m0-6l-6 6M517 397l6 6m0-6l-6 6M517 394l6 6m0-6l-6 6M519 401l6 6m0-6l-6 6M519 398l6 6m0-6l-6 6M519 396l6 6m0-6l-6 6M520 398l6 6m0-6l-6 6M521 394l6 6m0-6l-6 6M521 393l6 6m0-6l-6 6M522 397l6 6m0-6l-6 6M521 394l6 6m0-6l-6 6M521 391l6 6m0-6l-6 6M521 393l6 6m0-6l-6 6M521 398l6 6m0-6l-6 6M521 397l6 6m0-6l-6 6M521 391l6 6m0-6l-6 6M521 394l6 6m0-6l-6 6M524 397l6 6m0-6l-6 6M524 396l6 6m0-6l-6 6M524 396l6 6m0-6l-6 6M523 396l6 6m0-6l-6 6M525 396l6 6m0-6l-6 6M524 390l6 6m0-6l-6 6M524 396l6 6m0-6l-6 6M524 395l6 6m0-6l-6 6M524 394l6 6m0-6l-6 6M524 398l6 6m0-6l-6 6M527 406l6 6m0-6l-6 6M527 400l6 6m0-6l-6 6M526 401l6 6m0-6l-6 6M526 403l6 6m0-6l-6 6M526 402l6 6m0-6l-6 6M527 404l6 6m0-6l-6 6M526 403l6 6m0-6l-6 6M529 396l6 6m0-6l-6 6M530 401l6 6m0-6l-6 6M529 402l6 6m0-6l-6 6M529 409l6 6m0-6l-6 6M529 401l6 6m0-6l-6 6M529 401l6 6m0-6l-6 6M530 398l6 6m0-6l-6 6M531 404l6 6m0-6l-6 6M531 405l6 6m0-6l-6 6M531 404l6 6m0-6l-6 6M532 405l6 6m0-6l-6 6M531 400l6 6m0-6l-6 6M532 399l6 6m0-6l-6 6M534 404l6 6m0-6l-6 6M534 406l6 6m0-6l-6 6M533 405l6 6m0-6l-6 6M533 405l6 6m0-6l-6 6M536 404l6 6m0-6l-6 6M535 403l6 6m0-6l-6 6M535 409l6 6m0-6l-6 6M535 402l6 6m0-6l-6 6M535 403l6 6m0-6l-6 6M535 403l6 6m0-6l-6 6M535 401l6 6m0-6l-6 6M535 399l6 6m0-6l-6 6M537 406l6 6m0-6l-6 6M538 407l6 6m0-6l-6 6M537 404l6 6m0-6l-6 6M538 410l6 6m0-6l-6 6M537 404l6 6m0-6l-6 6M539 404l6 6m0-6l-6 6M538 406l6 6m0-6l-6 6M538 403l6 6m0-6l-6 6M539 407l6 6m0-6l-6 6M538 409l6 6m0-6l-6 6M539 403l6 6m0-6l-6 6M539 397l6 6m0-6l-6 6M538 406l6 6m0-6l-6 6M539 404l6 6m0-6l-6 6M542 413l6 6m0-6l-6 6M542 415l6 6m0-6l-6 6M541 409l6 6m0-6l-6 6M542 409l6 6m0-6l-6 6M542 409l6 6m0-6l-6 6M541 411l6 6m0-6l-6 6M545 406l6 6m0-6l-6 6M545 409l6 6m0-6l-6 6M545 404l6 6m0-6l-6 6M548 417l6 6m0-6l-6 6M548 417l6 6m0-6l-6 6M548 415l6 6m0-6l-6 6M548 415l6 6m0-6l-6 6M547 415l6 6m0-6l-6 6M548 413l6 6m0-6l-6 6M548 412l6 6m0-6l-6 6M549 424l6 6m0-6l-6 6M550 421l6 6m0-6l-6 6M550 422l6 6m0-6l-6 6M550 424l6 6m0-6l-6 6M549 421l6 6m0-6l-6 6M550 419l6 6m0-6l-6 6M550 423l6 6m0-6l-6 6M550 423l6 6m0-6l-6 6M550 425l6 6m0-6l-6 6M550 419l6 6m0-6l-6 6M552 417l6 6m0-6l-6 6M552 418l6 6m0-6l-6 6M551 417l6 6m0-6l-6 6M551 420l6 6m0-6l-6 6M552 423l6 6m0-6l-6 6M552 416l6 6m0-6l-6 6M555 421l6 6m0-6l-6 6M554 425l6 6m0-6l-6 6M555 421l6 6m0-6l-6 6M554 424l6 6m0-6l-6 6M554 426l6 6m0-6l-6 6M555 423l6 6m0-6l-6 6M554 423l6 6m0-6l-6 6M554 425l6 6m0-6l-6 6M558 425l6 6m0-6l-6 6M557 420l6 6m0-6l-6 6M558 420l6 6m0-6l-6 6M557 417l6 6m0-6l-6 6M557 423l6 6m0-6l-6 6M557 422l6 6m0-6l-6 6M559 428l6 6m0-6l-6 6M560 422l6 6m0-6l-6 6M559 423l6 6m0-6l-6 6M560 419l6 6m0-6l-6 6M561 423l6 6m0-6l-6 6M562 422l6 6m0-6l-6 6M562 419l6 6m0-6l-6 6M561 423l6 6m0-6l-6 6M563 418l6 6m0-6l-6 6M563 420l6 6m0-6l-6 6M563 422l6 6m0-6l-6 6M563 415l6 6m0-6l-6 6M562 417l6 6m0-6l-6 6M562 417l6 6m0-6l-6 6M562 416l6 6m0-6l-6 6M563 420l6 6m0-6l-6 6M563 417l6 6m0-6l-6 6M562 420l6 6m0-6l-6 6M566 419l6 6m0-6l-6 6M566 422l6 6m0-6l-6 6M566 427l6 6m0-6l-6 6M566 427l6 6m0-6l-6 6M567 425l6 6m0-6l-6 6M566 426l6 6m0-6l-6 6M569 429l6 6m0-6l-6 6M570 427l6 6m0-6l-6 6M570 428l6 6m0-6l-6 6M569 427l6 6m0-6l-6 6M573 427l6 6m0-6l-6 6M573 430l6 6m0-6l-6 6M572 431l6 6m0-6l-6 6M572 430l6 6m0-6l-6 6M573 429l6 6m0-6l-6 6M573 426l6 6m0-6l-6 6M573 424l6 6m0-6l-6 6M576 433l6 6m0-6l-6 6M576 428l6 6m0-6l-6 6M576 432l6 6m0-6l-6 6M576 428l6 6m0-6l-6 6M580 426l6 6m0-6l-6 6M579 425l6 6m0-6l-6 6M579 425l6 6m0-6l-6 6M580 425l6 6m0-6l-6 6M580 427l6 6m0-6l-6 6M579 428l6 6m0-6l-6 6M579 426l6 6m0-6l-6 6M582 435l6 6m0-6l-6 6M582 434l6 6m0-6l-6 6M582 433l6 6m0-6l-6 6M582 433l6 6m0-6l-6 6M583 434l6 6m0-6l-6 6M582 438l6 6m0-6l-6 6M582 435l6 6m0-6l-6 6M582 437l6 6m0-6l-6 6M582 434l6 6m0-6l-6 6M581 434l6 6m0-6l-6 6M586 432l6 6m0-6l-6 6M585 432l6 6m0-6l-6 6M586 434l6 6m0-6l-6 6M586 433l6 6m0-6l-6 6M585 436l6 6m0-6l-6 6M586 434l6 6m0-6l-6 6M585 436l6 6m0-6l-6 6M585 433l6 6m0-6l-6 6M586 436l6 6m0-6l-6 6M588 443l6 6m0-6l-6 6M588 437l6 6m0-6l-6 6M588 439l6 6m0-6l-6 6M588 439l6 6m0-6l-6 6M587 434l6 6m0-6l-6 6M589 440l6 6m0-6l-6 6M588 440l6 6m0-6l-6 6M588 440l6 6m0-6l-6 6M588 442l6 6m0-6l-6 6M591 437l6 6m0-6l-6 6M590 436l6 6m0-6l-6 6M590 439l6 6m0-6l-6 6M591 436l6 6m0-6l-6 6M591 440l6 6m0-6l-6 6M591 439l6 6m0-6l-6 6M590 436l6 6m0-6l-6 6M590 435l6 6m0-6l-6 6M590 439l6 6m0-6l-6 6M593 439l6 6m0-6l-6 6M592 438l6 6m0-6l-6 6M592 438l6 6m0-6l-6 6M592 438l6 6m0-6l-6 6M593 436l6 6m0-6l-6 6M593 436l6 6m0-6l-6 6M592 435l6 6m0-6l-6 6M594 445l6 6m0-6l-6 6M594 444l6 6m0-6l-6 6M594 446l6 6m0-6l-6 6M595 442l6 6m0-6l-6 6M595 441l6 6m0-6l-6 6M594 446l6 6m0-6l-6 6M598 448l6 6m0-6l-6 6M598 444l6 6m0-6l-6 6M599 446l6 6m0-6l-6 6M598 444l6 6m0-6l-6 6M597 447l6 6m0-6l-6 6M598 443l6 6m0-6l-6 6M602 440l6 6m0-6l-6 6M602 438l6 6m0-6l-6 6M601 442l6 6m0-6l-6 6M602 440l6 6m0-6l-6 6M601 441l6 6m0-6l-6 6M604 443l6 6m0-6l-6 6M604 438l6 6m0-6l-6 6M604 441l6 6m0-6l-6 6M605 441l6 6m0-6l-6 6M604 446l6 6m0-6l-6 6M604 442l6 6m0-6l-6 6M604 444l6 6m0-6l-6 6M604 445l6 6m0-6l-6 6M604 444l6 6m0-6l-6 6M607 447l6 6m0-6l-6 6M607 451l6 6m0-6l-6 6M607 450l6 6m0-6l-6 6M607 447l6 6m0-6l-6 6M607 444l6 6m0-6l-6 6M607 444l6 6m0-6l-6 6M607 449l6 6m0-6l-6 6M609 444l6 6m0-6l-6 6M609 443l6 6m0-6l-6 6M609 440l6 6m0-6l-6 6M609 443l6 6m0-6l-6 6M609 446l6 6m0-6l-6 6M613 447l6 6m0-6l-6 6M612 444l6 6m0-6l-6 6M612 446l6 6m0-6l-6 6M612 450l6 6m0-6l-6 6M612 442l6 6m0-6l-6 6M612 446l6 6m0-6l-6 6M612 447l6 6m0-6l-6 6M612 448l6 6m0-6l-6 6M612 452l6 6m0-6l-6 6M614 448l6 6m0-6l-6 6M615 448l6 6m0-6l-6 6M614 445l6 6m0-6l-6 6M614 447l6 6m0-6l-6 6M616 447l6 6m0-6l-6 6M617 448l6 6m0-6l-6 6M617 449l6 6m0-6l-6 6M616 448l6 6m0-6l-6 6M617 451l6 6m0-6l-6 6M620 454l6 6m0-6l-6 6M621 454l6 6m0-6l-6 6M620 449l6 6m0-6l-6 6M620 449l6 6m0-6l-6 6M620 447l6 6m0-6l-6 6M620 452l6 6m0-6l-6 6M620 452l6 6m0-6l-6 6M620 452l6 6m0-6l-6 6M620 447l6 6m0-6l-6 6M622 448l6 6m0-6l-6 6M622 452l6 6m0-6l-6 6M622 451l6 6m0-6l-6 6M622 448l6 6m0-6l-6 6M622 453l6 6m0-6l-6 6M623 452l6 6m0-6l-6 6M625 449l6 6m0-6l-6 6M625 451l6 6m0-6l-6 6M625 450l6 6m0-6l-6 6M627 451l6 6m0-6l-6 6M627 453l6 6m0-6l-6 6M627 445l6 6m0-6l-6 6M627 449l6 6m0-6l-6 6M627 448l6 6m0-6l-6 6M628 456l6 6m0-6l-6 6M627 449l6 6m0-6l-6 6M627 448l6 6m0-6l-6 6M628 451l6 6m0-6l-6 6M629 453l6 6m0-6l-6 6M629 447l6 6m0-6l-6 6M629 452l6 6m0-6l-6 6M629 455l6 6m0-6l-6 6M631 457l6 6m0-6l-6 6M631 452l6 6m0-6l-6 6M631 454l6 6m0-6l-6 6M631 452l6 6m0-6l-6 6M631 451l6 6m0-6l-6 6M631 459l6 6m0-6l-6 6M630 454l6 6m0-6l-6 6M631 454l6 6m0-6l-6 6M631 454l6 6m0-6l-6 6M631 454l6 6m0-6l-6 6M634 463l6 6m0-6l-6 6M634 462l6 6m0-6l-6 6M634 466l6 6m0-6l-6 6M634 461l6 6m0-6l-6 6M635 459l6 6m0-6l-6 6M634 463l6 6m0-6l-6 6M635 458l6 6m0-6l-6 6M634 462l6 6m0-6l-6 6M637 460l6 6m0-6l-6 6M638 463l6 6m0-6l-6 6M637 464l6 6m0-6l-6 6M638 466l6 6m0-6l-6 6M637 459l6 6m0-6l-6 6M640 450l6 6m0-6l-6 6M640 462l6 6m0-6l-6 6M639 453l6 6m0-6l-6 6M640 455l6 6m0-6l-6 6M640 458l6 6m0-6l-6 6M639 454l6 6m0-6l-6 6M643 467l6 6m0-6l-6 6M643 467l6 6m0-6l-6 6M642 468l6 6m0-6l-6 6M643 463l6 6m0-6l-6 6M646 466l6 6m0-6l-6 6M645 470l6 6m0-6l-6 6M646 466l6 6m0-6l-6 6M645 469l6 6m0-6l-6 6M645 464l6 6m0-6l-6 6M646 463l6 6m0-6l-6 6M646 466l6 6m0-6l-6 6M648 464l6 6m0-6l-6 6M648 470l6 6m0-6l-6 6M647 471l6 6m0-6l-6 6M651 474l6 6m0-6l-6 6M650 464l6 6m0-6l-6 6M650 464l6 6m0-6l-6 6M653 469l6 6m0-6l-6 6M652 467l6 6m0-6l-6 6M653 472l6 6m0-6l-6 6M652 471l6 6m0-6l-6 6M653 468l6 6m0-6l-6 6M652 472l6 6m0-6l-6 6M652 471l6 6m0-6l-6 6M652 472l6 6m0-6l-6 6M655 470l6 6m0-6l-6 6M655 471l6 6m0-6l-6 6M655 469l6 6m0-6l-6 6M655 470l6 6m0-6l-6 6M655 467l6 6m0-6l-6 6M654 469l6 6m0-6l-6 6M657 469l6 6m0-6l-6 6M656 471l6 6m0-6l-6 6M657 469l6 6m0-6l-6 6M656 467l6 6m0-6l-6 6M658 473l6 6m0-6l-6 6M658 471l6 6m0-6l-6 6M659 475l6 6m0-6l-6 6M659 476l6 6m0-6l-6 6M659 474l6 6m0-6l-6 6M659 476l6 6m0-6l-6 6M658 469l6 6m0-6l-6 6M661 476l6 6m0-6l-6 6M660 477l6 6m0-6l-6 6M661 475l6 6m0-6l-6 6M661 475l6 6m0-6l-6 6M664 478l6 6m0-6l-6 6M664 475l6 6m0-6l-6 6M663 474l6 6m0-6l-6 6M663 473l6 6m0-6l-6 6M664 472l6 6m0-6l-6 6M664 476l6 6m0-6l-6 6M663 472l6 6m0-6l-6 6M664 477l6 6m0-6l-6 6M667 474l6 6m0-6l-6 6M667 473l6 6m0-6l-6 6M667 470l6 6m0-6l-6 6M667 474l6 6m0-6l-6 6M668 476l6 6m0-6l-6 6M667 478l6 6m0-6l-6 6M667 471l6 6m0-6l-6 6M668 476l6 6m0-6l-6 6M668 472l6 6m0-6l-6 6M670 482l6 6m0-6l-6 6M669 487l6 6m0-6l-6 6M669 486l6 6m0-6l-6 6M669 479l6 6m0-6l-6 6M671 477l6 6m0-6l-6 6M671 475l6 6m0-6l-6 6M671 472l6 6m0-6l-6 6M675 479l6 6m0-6l-6 6M675 481l6 6m0-6l-6 6M674 481l6 6m0-6l-6 6M677 472l6 6m0-6l-6 6M676 477l6 6m0-6l-6 6M676 468l6 6m0-6l-6 6M677 476l6 6m0-6l-6 6M676 475l6 6m0-6l-6 6M677 470l6 6m0-6l-6 6M677 474l6 6m0-6l-6 6M678 481l6 6m0-6l-6 6M679 477l6 6m0-6l-6 6M678 479l6 6m0-6l-6 6M679 479l6 6m0-6l-6 6M681 478l6 6m0-6l-6 6M682 476l6 6m0-6l-6 6M681 481l6 6m0-6l-6 6M681 479l6 6m0-6l-6 6M684 483l6 6m0-6l-6 6M685 488l6 6m0-6l-6 6M684 484l6 6m0-6l-6 6M684 488l6 6m0-6l-6 6M684 485l6 6m0-6l-6 6M685 486l6 6m0-6l-6 6M686 484l6 6m0-6l-6 6M686 481l6 6m0-6l-6 6M686 485l6 6m0-6l-6 6M685 482l6 6m0-6l-6 6M687 487l6 6m0-6l-6 6M688 490l6 6m0-6l-6 6M688 483l6 6m0-6l-6 6M687 482l6 6m0-6l-6 6M687 486l6 6m0-6l-6 6M687 483l6 6m0-6l-6 6M688 489l6 6m0-6l-6 6M687 481l6 6m0-6l-6 6M687 486l6 6m0-6l-6 6M689 484l6 6m0-6l-6 6M689 482l6 6m0-6l-6 6M688 481l6 6m0-6l-6 6M693 485l6 6m0-6l-6 6M692 485l6 6m0-6l-6 6M692 479l6 6m0-6l-6 6M692 481l6 6m0-6l-6 6M694 494l6 6m0-6l-6 6M695 491l6 6m0-6l-6 6M695 491l6 6m0-6l-6 6M695 492l6 6m0-6l-6 6M695 490l6 6m0-6l-6 6M697 489l6 6m0-6l-6 6M697 487l6 6m0-6l-6 6M697 484l6 6m0-6l-6 6M696 483l6 6m0-6l-6 6M697 489l6 6m0-6l-6 6M697 490l6 6m0-6l-6 6M696 491l6 6m0-6l-6 6M697 480l6 6m0-6l-6 6M697 488l6 6m0-6l-6 6M697 489l6 6m0-6l-6 6M698 493l6 6m0-6l-6 6M698 489l6 6m0-6l-6 6M698 492l6 6m0-6l-6 6M702 491l6 6m0-6l-6 6M702 488l6 6m0-6l-6 6M701 487l6 6m0-6l-6 6M702 487l6 6m0-6l-6 6M701 485l6 6m0-6l-6 6M702 490l6 6m0-6l-6 6M702 489l6 6m0-6l-6 6M704 491l6 6m0-6l-6 6M704 491l6 6m0-6l-6 6M704 494l6 6m0-6l-6 6M704 494l6 6m0-6l-6 6M704 495l6 6m0-6l-6 6M704 495l6 6m0-6l-6 6M706 488l6 6m0-6l-6 6M706 488l6 6m0-6l-6 6M706 487l6 6m0-6l-6 6M706 490l6 6m0-6l-6 6M706 485l6 6m0-6l-6 6M706 485l6 6m0-6l-6 6M706 491l6 6m0-6l-6 6M706 485l6 6m0-6l-6 6M706 484l6 6m0-6l-6 6M706 487l6 6m0-6l-6 6M709 486l6 6m0-6l-6 6M709 486l6 6m0-6l-6 6M709 490l6 6m0-6l-6 6M711 488l6 6m0-6l-6 6M711 489l6 6m0-6l-6 6M710 482l6 6m0-6l-6 6M710 486l6 6m0-6l-6 6M711 488l6 6m0-6l-6 6M711 485l6 6m0-6l-6 6M711 486l6 6m0-6l-6 6M711 486l6 6m0-6l-6 6M711 486l6 6m0-6l-6 6M714 486l6 6m0-6l-6 6M713 491l6 6m0-6l-6 6M713 483l6 6m0-6l-6 6M713 488l6 6m0-6l-6 6M714 489l6 6m0-6l-6 6M715 481l6 6m0-6l-6 6M715 482l6 6m0-6l-6 6M715 482l6 6m0-6l-6 6M715 482l6 6m0-6l-6 6M715 484l6 6m0-6l-6 6M715 482l6 6m0-6l-6 6M718 481l6 6m0-6l-6 6M719 486l6 6m0-6l-6 6M719 484l6 6m0-6l-6 6M722 486l6 6m0-6l-6 6M722 487l6 6m0-6l-6 6M722 488l6 6m0-6l-6 6M722 491l6 6m0-6l-6 6M724 483l6 6m0-6l-6 6M724 485l6 6m0-6l-6 6M723 487l6 6m0-6l-6 6M723 489l6 6m0-6l-6 6M724 486l6 6m0-6l-6 6M723 482l6 6m0-6l-6 6M723 483l6 6m0-6l-6 6M723 485l6 6m0-6l-6 6M728 487l6 6m0-6l-6 6M727 486l6 6m0-6l-6 6M727 486l6 6m0-6l-6 6M728 492l6 6m0-6l-6 6M727 485l6 6m0-6l-6 6M730 489l6 6m0-6l-6 6M730 492l6 6m0-6l-6 6M731 490l6 6m0-6l-6 6M730 493l6 6m0-6l-6 6M730 490l6 6m0-6l-6 6M730 497l6 6m0-6l-6 6M730 494l6 6m0-6l-6 6M729 494l6 6m0-6l-6 6M730 491l6 6m0-6l-6 6M729 487l6 6m0-6l-6 6M733 497l6 6m0-6l-6 6M733 495l6 6m0-6l-6 6M733 493l6 6m0-6l-6 6M733 495l6 6m0-6l-6 6M736 499l6 6m0-6l-6 6M736 502l6 6m0-6l-6 6M736 499l6 6m0-6l-6 6M736 503l6 6m0-6l-6 6M738 496l6 6m0-6l-6 6M738 492l6 6m0-6l-6 6M738 501l6 6m0-6l-6 6M738 489l6 6m0-6l-6 6M737 492l6 6m0-6l-6 6M738 493l6 6m0-6l-6 6M737 493l6 6m0-6l-6 6M741 507l6 6m0-6l-6 6M742 501l6 6m0-6l-6 6M742 505l6 6m0-6l-6 6M742 496l6 6m0-6l-6 6M742 504l6 6m0-6l-6 6M742 500l6 6m0-6l-6 6M742 501l6 6m0-6l-6 6M742 504l6 6m0-6l-6 6M741 500l6 6m0-6l-6 6M742 501l6 6m0-6l-6 6M743 506l6 6m0-6l-6 6M743 505l6 6m0-6l-6 6M743 508l6 6m0-6l-6 6M743 505l6 6m0-6l-6 6M743 502l6 6m0-6l-6 6M743 502l6 6m0-6l-6 6M743 503l6 6m0-6l-6 6M746 498l6 6m0-6l-6 6M745 500l6 6m0-6l-6 6M747 498l6 6m0-6l-6 6M746 498l6 6m0-6l-6 6M745 498l6 6m0-6l-6 6M746 501l6 6m0-6l-6 6M746 503l6 6m0-6l-6 6M745 495l6 6m0-6l-6 6M746 502l6 6m0-6l-6 6M749 501l6 6m0-6l-6 6M749 510l6 6m0-6l-6 6M749 504l6 6m0-6l-6 6M749 502l6 6m0-6l-6 6M749 505l6 6m0-6l-6 6M749 506l6 6m0-6l-6 6M749 501l6 6m0-6l-6 6M749 505l6 6m0-6l-6 6M750 505l6 6m0-6l-6 6M749 506l6 6m0-6l-6 6M752 507l6 6m0-6l-6 6M752 506l6 6m0-6l-6 6M751 505l6 6m0-6l-6 6M751 507l6 6m0-6l-6 6M751 512l6 6m0-6l-6 6M753 504l6 6m0-6l-6 6M753 507l6 6m0-6l-6 6M753 508l6 6m0-6l-6 6M753 504l6 6m0-6l-6 6M754 508l6 6m0-6l-6 6M756 510l6 6m0-6l-6 6M756 510l6 6m0-6l-6 6M757 513l6 6m0-6l-6 6M756 511l6 6m0-6l-6 6M756 507l6 6m0-6l-6 6M756 513l6 6m0-6l-6 6M757 513l6 6m0-6l-6 6M756 509l6 6m0-6l-6 6M756 512l6 6m0-6l-6 6M756 511l6 6m0-6l-6 6M758 506l6 6m0-6l-6 6M758 506l6 6m0-6l-6 6M757 507l6 6m0-6l-6 6M758 505l6 6m0-6l-6 6M758 509l6 6m0-6l-6 6M758 508l6 6m0-6l-6 6M758 506l6 6m0-6l-6 6M757 506l6 6m0-6l-6 6M761 516l6 6m0-6l-6 6M761 514l6 6m0-6l-6 6M761 512l6 6m0-6l-6 6M761 511l6 6m0-6l-6 6M763 520l6 6m0-6l-6 6M763 519l6 6m0-6l-6 6M762 513l6 6m0-6l-6 6M763 512l6 6m0-6l-6 6M763 514l6 6m0-6l-6 6M763 514l6 6m0-6l-6 6M763 513l6 6m0-6l-6 6M763 513l6 6m0-6l-6 6M762 513l6 6m0-6l-6 6M763 514l6 6m0-6l-6 6M764 514l6 6m0-6l-6 6M764 515l6 6m0-6l-6 6M765 519l6 6m0-6l-6 6M765 516l6 6m0-6l-6 6M765 516l6 6m0-6l-6 6M765 513l6 6m0-6l-6 6M766 510l6 6m0-6l-6 6M766 518l6 6m0-6l-6 6M766 517l6 6m0-6l-6 6M766 514l6 6m0-6l-6 6M770 520l6 6m0-6l-6 6M769 520l6 6m0-6l-6 6M770 523l6 6m0-6l-6 6M769 522l6 6m0-6l-6 6M770 519l6 6m0-6l-6 6M769 520l6 6m0-6l-6 6M770 521l6 6m0-6l-6 6M770 519l6 6m0-6l-6 6M769 514l6 6m0-6l-6 6M769 522l6 6m0-6l-6 6M772 515l6 6m0-6l-6 6M772 516l6 6m0-6l-6 6M772 514l6 6m0-6l-6 6M772 513l6 6m0-6l-6 6M772 510l6 6m0-6l-6 6M772 510l6 6m0-6l-6 6M772 517l6 6m0-6l-6 6M774 513l6 6m0-6l-6 6M774 514l6 6m0-6l-6 6M775 512l6 6m0-6l-6 6M776 515l6 6m0-6l-6 6M775 519l6 6m0-6l-6 6M776 514l6 6m0-6l-6 6M778 508l6 6m0-6l-6 6M778 505l6 6m0-6l-6 6M778 508l6 6m0-6l-6 6M778 513l6 6m0-6l-6 6M778 509l6 6m0-6l-6 6M782 515l6 6m0-6l-6 6M781 516l6 6m0-6l-6 6M782 512l6 6m0-6l-6 6M781 515l6 6m0-6l-6 6M781 516l6 6m0-6l-6 6M782 513l6 6m0-6l-6 6M782 509l6 6m0-6l-6 6M781 515l6 6m0-6l-6 6M783 516l6 6m0-6l-6 6M783 520l6 6m0-6l-6 6M783 523l6 6m0-6l-6 6M783 518l6 6m0-6l-6 6M782 520l6 6m0-6l-6 6M782 520l6 6m0-6l-6 6M782 520l6 6m0-6l-6 6M782 516l6 6m0-6l-6 6M783 520l6 6m0-6l-6 6M787 517l6 6m0-6l-6 6M786 524l6 6m0-6l-6 6M786 520l6 6m0-6l-6 6M786 519l6 6m0-6l-6 6M787 520l6 6m0-6l-6 6M789 521l6 6m0-6l-6 6M790 526l6 6m0-6l-6 6M789 524l6 6m0-6l-6 6M789 521l6 6m0-6l-6 6M790 524l6 6m0-6l-6 6M789 523l6 6m0-6l-6 6M789 522l6 6m0-6l-6 6M790 526l6 6m0-6l-6 6M790 524l6 6m0-6l-6 6M789 523l6 6m0-6l-6 6M791 517l6 6m0-6l-6 6M792 520l6 6m0-6l-6 6M791 525l6 6m0-6l-6 6M791 521l6 6m0-6l-6 6M791 519l6 6m0-6l-6 6M791 523l6 6m0-6l-6 6M791 522l6 6m0-6l-6 6M792 521l6 6m0-6l-6 6M794 520l6 6m0-6l-6 6M794 519l6 6m0-6l-6 6M793 519l6 6m0-6l-6 6M794 522l6 6m0-6l-6 6M795 524l6 6m0-6l-6 6M796 521l6 6m0-6l-6 6M796 524l6 6m0-6l-6 6M796 523l6 6m0-6l-6 6M795 517l6 6m0-6l-6 6M795 526l6 6m0-6l-6 6M795 521l6 6m0-6l-6 6M795 523l6 6m0-6l-6 6M796 517l6 6m0-6l-6 6M797 517l6 6m0-6l-6 6M797 516l6 6m0-6l-6 6M797 512l6 6m0-6l-6 6M797 517l6 6m0-6l-6 6M797 516l6 6m0-6l-6 6M796 518l6 6m0-6l-6 6M797 516l6 6m0-6l-6 6M797 521l6 6m0-6l-6 6M797 519l6 6m0-6l-6 6M800 521l6 6m0-6l-6 6M800 522l6 6m0-6l-6 6M801 524l6 6m0-6l-6 6M801 519l6 6m0-6l-6 6M800 521l6 6m0-6l-6 6M801 521l6 6m0-6l-6 6M801 521l6 6m0-6l-6 6M801 526l6 6m0-6l-6 6M800 524l6 6m0-6l-6 6M801 521l6 6m0-6l-6 6M804 522l6 6m0-6l-6 6M804 527l6 6m0-6l-6 6M804 526l6 6m0-6l-6 6M803 523l6 6m0-6l-6 6M804 524l6 6m0-6l-6 6M803 527l6 6m0-6l-6 6M804 524l6 6m0-6l-6 6M804 522l6 6m0-6l-6 6M804 519l6 6m0-6l-6 6M808 531l6 6m0-6l-6 6M807 527l6 6m0-6l-6 6M807 528l6 6m0-6l-6 6M807 532l6 6m0-6l-6 6M807 531l6 6m0-6l-6 6M807 528l6 6m0-6l-6 6M807 528l6 6m0-6l-6 6M808 528l6 6m0-6l-6 6M807 534l6 6m0-6l-6 6M807 529l6 6m0-6l-6 6M810 526l6 6m0-6l-6 6M811 529l6 6m0-6l-6 6M811 529l6 6m0-6l-6 6M813 530l6 6m0-6l-6 6M814 538l6 6m0-6l-6 6M814 534l6 6m0-6l-6 6M813 535l6 6m0-6l-6 6M815 533l6 6m0-6l-6 6M814 533l6 6m0-6l-6 6M815 529l6 6m0-6l-6 6M815 529l6 6m0-6l-6 6M817 544l6 6m0-6l-6 6M817 539l6 6m0-6l-6 6M817 542l6 6m0-6l-6 6M818 534l6 6m0-6l-6 6M819 534l6 6m0-6l-6 6M819 536l6 6m0-6l-6 6M819 533l6 6m0-6l-6 6M824 538l6 6m0-6l-6 6M823 538l6 6m0-6l-6 6M823 537l6 6m0-6l-6 6M827 539l6 6m0-6l-6 6M827 541l6 6m0-6l-6 6M827 542l6 6m0-6l-6 6M827 545l6 6m0-6l-6 6M826 540l6 6m0-6l-6 6M826 542l6 6m0-6l-6 6M827 540l6 6m0-6l-6 6M826 544l6 6m0-6l-6 6M829 543l6 6m0-6l-6 6M830 545l6 6m0-6l-6 6M830 542l6 6m0-6l-6 6M833 543l6 6m0-6l-6 6M833 543l6 6m0-6l-6 6M832 539l6 6m0-6l-6 6M833 543l6 6m0-6l-6 6M833 543l6 6m0-6l-6 6M833 541l6 6m0-6l-6 6M832 544l6 6m0-6l-6 6M833 538l6 6m0-6l-6 6M832 543l6 6m0-6l-6 6M833 538l6 6m0-6l-6 6M836 541l6 6m0-6l-6 6M837 541l6 6m0-6l-6 6M836 542l6 6m0-6l-6 6M837 546l6 6m0-6l-6 6M837 547l6 6m0-6l-6 6M840 542l6 6m0-6l-6 6M840 542l6 6m0-6l-6 6M840 538l6 6m0-6l-6 6M839 542l6 6m0-6l-6 6M840 545l6 6m0-6l-6 6M839 544l6 6m0-6l-6 6M842 549l6 6m0-6l-6 6M842 544l6 6m0-6l-6 6M842 546l6 6m0-6l-6 6M843 549l6 6m0-6l-6 6M843 551l6 6m0-6l-6 6M843 550l6 6m0-6l-6 6M843 543l6 6m0-6l-6 6M843 542l6 6m0-6l-6 6M843 547l6 6m0-6l-6 6M845 548l6 6m0-6l-6 6M845 553l6 6m0-6l-6 6M845 547l6 6m0-6l-6 6M845 549l6 6m0-6l-6 6M845 545l6 6m0-6l-6 6M846 551l6 6m0-6l-6 6M845 548l6 6m0-6l-6 6M845 549l6 6m0-6l-6 6M846 551l6 6m0-6l-6 6M848 539l6 6m0-6l-6 6M847 542l6 6m0-6l-6 6M847 544l6 6m0-6l-6 6M847 546l6 6m0-6l-6 6M847 543l6 6m0-6l-6 6M848 538l6 6m0-6l-6 6M847 542l6 6m0-6l-6 6M848 549l6 6m0-6l-6 6M849 553l6 6m0-6l-6 6M849 547l6 6m0-6l-6 6M849 546l6 6m0-6l-6 6M849 548l6 6m0-6l-6 6M849 552l6 6m0-6l-6 6M851 545l6 6m0-6l-6 6M851 549l6 6m0-6l-6 6M852 554l6 6m0-6l-6 6M852 551l6 6m0-6l-6 6M852 550l6 6m0-6l-6 6M852 552l6 6m0-6l-6 6M855 550l6 6m0-6l-6 6M855 547l6 6m0-6l-6 6M854 549l6 6m0-6l-6 6M854 548l6 6m0-6l-6 6M857 550l6 6m0-6l-6 6M857 549l6 6m0-6l-6 6M857 553l6 6m0-6l-6 6M857 554l6 6m0-6l-6 6M857 552l6 6m0-6l-6 6M856 554l6 6m0-6l-6 6M857 557l6 6m0-6l-6 6M857 551l6 6m0-6l-6 6M857 552l6 6m0-6l-6 6M860 552l6 6m0-6l-6 6M861 554l6 6m0-6l-6 6M860 548l6 6m0-6l-6 6M860 553l6 6m0-6l-6 6M860 556l6 6m0-6l-6 6M860 551l6 6m0-6l-6 6M861 552l6 6m0-6l-6 6M860 552l6 6m0-6l-6 6M860 556l6 6m0-6l-6 6M861 553l6 6m0-6l-6 6M864 556l6 6m0-6l-6 6M864 557l6 6m0-6l-6 6M864 556l6 6m0-6l-6 6M864 557l6 6m0-6l-6 6M864 557l6 6m0-6l-6 6M865 560l6 6m0-6l-6 6M865 559l6 6m0-6l-6 6M866 563l6 6m0-6l-6 6M865 562l6 6m0-6l-6 6M865 560l6 6m0-6l-6 6M869 562l6 6m0-6l-6 6M869 563l6 6m0-6l-6 6M869 562l6 6m0-6l-6 6M868 563l6 6m0-6l-6 6M869 567l6 6m0-6l-6 6M868 559l6 6m0-6l-6 6M869 564l6 6m0-6l-6 6M869 565l6 6m0-6l-6 6M872 567l6 6m0-6l-6 6M872 565l6 6m0-6l-6 6M872 564l6 6m0-6l-6 6M872 560l6 6m0-6l-6 6M875 567l6 6m0-6l-6 6M874 569l6 6m0-6l-6 6M874 570l6 6m0-6l-6 6M876 565l6 6m0-6l-6 6M876 567l6 6m0-6l-6 6M876 568l6 6m0-6l-6 6M876 567l6 6m0-6l-6 6M875 566l6 6m0-6l-6 6M875 563l6 6m0-6l-6 6M876 559l6 6m0-6l-6 6M876 566l6 6m0-6l-6 6M880 568l6 6m0-6l-6 6M880 573l6 6m0-6l-6 6M880 573l6 6m0-6l-6 6M879 569l6 6m0-6l-6 6M880 565l6 6m0-6l-6 6M882 571l6 6m0-6l-6 6M883 565l6 6m0-6l-6 6M882 574l6 6m0-6l-6 6M882 574l6 6m0-6l-6 6M882 571l6 6m0-6l-6 6M883 571l6 6m0-6l-6 6M882 570l6 6m0-6l-6 6M882 572l6 6m0-6l-6 6M885 575l6 6m0-6l-6 6M885 572l6 6m0-6l-6 6M885 576l6 6m0-6l-6 6M885 573l6 6m0-6l-6 6M885 574l6 6m0-6l-6 6M885 571l6 6m0-6l-6 6M885 573l6 6m0-6l-6 6M884 575l6 6m0-6l-6 6M884 573l6 6m0-6l-6 6M888 571l6 6m0-6l-6 6M888 571l6 6m0-6l-6 6M888 569l6 6m0-6l-6 6M888 569l6 6m0-6l-6 6M891 567l6 6m0-6l-6 6M891 576l6 6m0-6l-6 6M890 573l6 6m0-6l-6 6M891 573l6 6m0-6l-6 6M891 571l6 6m0-6l-6 6M891 570l6 6m0-6l-6 6M893 581l6 6m0-6l-6 6M892 578l6 6m0-6l-6 6M892 576l6 6m0-6l-6 6M892 579l6 6m0-6l-6 6M896 578l6 6m0-6l-6 6M896 578l6 6m0-6l-6 6M895 577l6 6m0-6l-6 6M895 574l6 6m0-6l-6 6M898 576l6 6m0-6l-6 6M898 582l6 6m0-6l-6 6M898 580l6 6m0-6l-6 6M898 577l6 6m0-6l-6 6M897 579l6 6m0-6l-6 6M897 578l6 6m0-6l-6 6M898 584l6 6m0-6l-6 6M898 579l6 6m0-6l-6 6M902 583l6 6m0-6l-6 6M902 587l6 6m0-6l-6 6M901 583l6 6m0-6l-6 6M901 586l6 6m0-6l-6 6M901 587l6 6m0-6l-6 6M901 585l6 6m0-6l-6 6M901 585l6 6m0-6l-6 6M901 584l6 6m0-6l-6 6M905 594l6 6m0-6l-6 6M904 593l6 6m0-6l-6 6M905 589l6 6m0-6l-6 6M907 588l6 6m0-6l-6 6M907 586l6 6m0-6l-6 6M907 588l6 6m0-6l-6 6M907 590l6 6m0-6l-6 6M908 586l6 6m0-6l-6 6M907 591l6 6m0-6l-6 6M908 592l6 6m0-6l-6 6M909 595l6 6m0-6l-6 6M909 594l6 6m0-6l-6 6M909 593l6 6m0-6l-6 6M909 596l6 6m0-6l-6 6M908 590l6 6m0-6l-6 6M909 596l6 6m0-6l-6 6M908 592l6 6m0-6l-6 6M908 590l6 6m0-6l-6 6M908 589l6 6m0-6l-6 6M910 592l6 6m0-6l-6 6M911 596l6 6m0-6l-6 6M910 593l6 6m0-6l-6 6M910 593l6 6m0-6l-6 6M911 595l6 6m0-6l-6 6M911 597l6 6m0-6l-6 6M912 591l6 6m0-6l-6 6M913 597l6 6m0-6l-6 6M912 590l6 6m0-6l-6 6M912 594l6 6m0-6l-6 6M912 596l6 6m0-6l-6 6M913 595l6 6m0-6l-6 6M912 604l6 6m0-6l-6 6M913 595l6 6m0-6l-6 6M912 595l6 6m0-6l-6 6M912 598l6 6m0-6l-6 6M915 594l6 6m0-6l-6 6M915 599l6 6m0-6l-6 6M915 600l6 6m0-6l-6 6M915 592l6 6m0-6l-6 6M915 596l6 6m0-6l-6 6M914 600l6 6m0-6l-6 6M915 598l6 6m0-6l-6 6M914 599l6 6m0-6l-6 6M914 598l6 6m0-6l-6 6M915 596l6 6m0-6l-6 6M918 596l6 6m0-6l-6 6M917 601l6 6m0-6l-6 6M917 598l6 6m0-6l-6 6M918 597l6 6m0-6l-6 6M919 595l6 6m0-6l-6 6M919 601l6 6m0-6l-6 6M920 598l6 6m0-6l-6 6M920 599l6 6m0-6l-6 6M920 600l6 6m0-6l-6 6M923 604l6 6m0-6l-6 6M923 602l6 6m0-6l-6 6M923 603l6 6m0-6l-6 6M923 603l6 6m0-6l-6 6M923 605l6 6m0-6l-6 6M923 605l6 6m0-6l-6 6M926 601l6 6m0-6l-6 6M926 602l6 6m0-6l-6 6M927 600l6 6m0-6l-6 6M930 601l6 6m0-6l-6 6M930 604l6 6m0-6l-6 6M930 601l6 6m0-6l-6 6M930 605l6 6m0-6l-6 6M929 598l6 6m0-6l-6 6M930 603l6 6m0-6l-6 6M930 594l6 6m0-6l-6 6M930 598l6 6m0-6l-6 6M930 602l6 6m0-6l-6 6M930 599l6 6m0-6l-6 6M932 598l6 6m0-6l-6 6M933 600l6 6m0-6l-6 6M933 606l6 6m0-6l-6 6M933 604l6 6m0-6l-6 6M933 604l6 6m0-6l-6 6M932 603l6 6m0-6l-6 6M933 598l6 6m0-6l-6 6M935 605l6 6m0-6l-6 6M935 606l6 6m0-6l-6 6M935 607l6 6m0-6l-6 6M935 602l6 6m0-6l-6 6M935 605l6 6m0-6l-6 6M935 603l6 6m0-6l-6 6M938 610l6 6m0-6l-6 6M937 603l6 6m0-6l-6 6M937 606l6 6m0-6l-6 6M937 605l6 6m0-6l-6 6M938 605l6 6m0-6l-6 6M937 606l6 6m0-6l-6 6M937 604l6 6m0-6l-6 6M937 603l6 6m0-6l-6 6M938 607l6 6m0-6l-6 6M940 600l6 6m0-6l-6 6M940 608l6 6m0-6l-6 6M939 602l6 6m0-6l-6 6M940 600l6 6m0-6l-6 6M940 602l6 6m0-6l-6 6M940 603l6 6m0-6l-6 6M940 603l6 6m0-6l-6 6M940 603l6 6m0-6l-6 6M940 598l6 6m0-6l-6 6M940 605l6 6m0-6l-6 6M943 603l6 6m0-6l-6 6M944 612l6 6m0-6l-6 6M944 601l6 6m0-6l-6 6M943 605l6 6m0-6l-6 6M943 606l6 6m0-6l-6 6M944 608l6 6m0-6l-6 6M943 603l6 6m0-6l-6 6M944 603l6 6m0-6l-6 6M945 597l6 6m0-6l-6 6M946 605l6 6m0-6l-6 6M946 597l6 6m0-6l-6 6M945 603l6 6m0-6l-6 6M946 597l6 6m0-6l-6 6M946 601l6 6m0-6l-6 6M946 601l6 6m0-6l-6 6M946 600l6 6m0-6l-6 6M946 601l6 6m0-6l-6 6M949 601l6 6m0-6l-6 6M949 599l6 6m0-6l-6 6M949 598l6 6m0-6l-6 6M950 598l6 6m0-6l-6 6M949 601l6 6m0-6l-6 6M949 595l6 6m0-6l-6 6M949 604l6 6m0-6l-6 6M949 598l6 6m0-6l-6 6M949 603l6 6m0-6l-6 6M949 599l6 6m0-6l-6 6M950 603l6 6m0-6l-6 6M951 602l6 6m0-6l-6 6M950 604l6 6m0-6l-6 6M951 602l6 6m0-6l-6 6M950 604l6 6m0-6l-6 6M951 603l6 6m0-6l-6 6M951 605l6 6m0-6l-6 6M951 599l6 6m0-6l-6 6M954 602l6 6m0-6l-6 6M954 600l6 6m0-6l-6 6M954 604l6 6m0-6l-6 6M954 605l6 6m0-6l-6 6M954 597l6 6m0-6l-6 6M955 605l6 6m0-6l-6 6M955 604l6 6m0-6l-6 6M956 604l6 6m0-6l-6 6M956 604l6 6m0-6l-6 6M959 599l6 6m0-6l-6 6M960 607l6 6m0-6l-6 6M959 607l6 6m0-6l-6 6M959 608l6 6m0-6l-6 6M960 601l6 6m0-6l-6 6M962 608l6 6m0-6l-6 6M962 608l6 6m0-6l-6 6M962 604l6 6m0-6l-6 6M963 609l6 6m0-6l-6 6M963 607l6 6m0-6l-6 6M962 606l6 6m0-6l-6 6M963 609l6 6m0-6l-6 6M962 609l6 6m0-6l-6 6M965 611l6 6m0-6l-6 6M966 611l6 6m0-6l-6 6M966 611l6 6m0-6l-6 6M969 615l6 6m0-6l-6 6M969 612l6 6m0-6l-6 6M969 609l6 6m0-6l-6 6M968 608l6 6m0-6l-6 6M969 605l6 6m0-6l-6 6M969 611l6 6m0-6l-6 6M969 615l6 6m0-6l-6 6M969 610l6 6m0-6l-6 6M969 616l6 6m0-6l-6 6M972 613l6 6m0-6l-6 6M972 609l6 6m0-6l-6 6M971 614l6 6m0-6l-6 6M972 615l6 6m0-6l-6 6M971 614l6 6m0-6l-6 6M972 608l6 6m0-6l-6 6M972 612l6 6m0-6l-6 6M972 607l6 6m0-6l-6 6M971 611l6 6m0-6l-6 6M976 607l6 6m0-6l-6 6M975 614l6 6m0-6l-6 6M975 613l6 6m0-6l-6 6M976 616l6 6m0-6l-6 6M976 606l6 6m0-6l-6 6M976 609l6 6m0-6l-6 6M975 613l6 6m0-6l-6 6M977 608l6 6m0-6l-6 6M977 606l6 6m0-6l-6 6M977 605l6 6m0-6l-6 6M977 611l6 6m0-6l-6 6M977 606l6 6m0-6l-6 6M980 607l6 6m0-6l-6 6M979 609l6 6m0-6l-6 6M979 611l6 6m0-6l-6 6M979 610l6 6m0-6l-6 6M979 613l6 6m0-6l-6 6M979 609l6 6m0-6l-6 6M980 608l6 6m0-6l-6 6M979 614l6 6m0-6l-6 6M979 612l6 6m0-6l-6 6M979 611l6 6m0-6l-6 6M980 603l6 6m0-6l-6 6M981 607l6 6m0-6l-6 6M981 601l6 6m0-6l-6 6M983 614l6 6m0-6l-6 6M984 615l6 6m0-6l-6 6M984 609l6 6m0-6l-6 6M984 611l6 6m0-6l-6 6M983 609l6 6m0-6l-6 6M983 609l6 6m0-6l-6 6M983 612l6 6m0-6l-6 6M983 615l6 6m0-6l-6 6M983 613l6 6m0-6l-6 6M986 603l6 6m0-6l-6 6M986 606l6 6m0-6l-6 6M985 603l6 6m0-6l-6 6M986 603l6 6m0-6l-6 6M986 606l6 6m0-6l-6 6M986 608l6 6m0-6l-6 6M986 604l6 6m0-6l-6 6M985 604l6 6m0-6l-6 6M986 605l6 6m0-6l-6 6M986 608l6 6m0-6l-6 6M988 610l6 6m0-6l-6 6M987 611l6 6m0-6l-6 6M988 616l6 6m0-6l-6 6M987 610l6 6m0-6l-6 6M988 613l6 6m0-6l-6 6M987 616l6 6m0-6l-6 6M988 616l6 6m0-6l-6 6M988 615l6 6m0-6l-6 6M988 613l6 6m0-6l-6 6M988 616l6 6m0-6l-6 6M990 614l6 6m0-6l-6 6M990 612l6 6m0-6l-6 6M990 611l6 6m0-6l-6 6M990 612l6 6m0-6l-6 6M991 614l6 6m0-6l-6 6M990 619l6 6m0-6l-6 6M990 614l6 6m0-6l-6 6M991 613l6 6m0-6l-6 6M991 612l6 6m0-6l-6 6M990 610l6 6m0-6l-6 6M993 607l6 6m0-6l-6 6M993 608l6 6m0-6l-6 6M992 608l6 6m0-6l-6 6M992 610l6 6m0-6l-6 6M995 616l6 6m0-6l-6 6M995 617l6 6m0-6l-6 6M995 613l6 6m0-6l-6 6M998 617l6 6m0-6l-6 6M997 611l6 6m0-6l-6 6M997 616l6 6m0-6l-6 6M998 610l6 6m0-6l-6 6M998 616l6 6m0-6l-6 6M998 611l6 6m0-6l-6 6M998 614l6 6m0-6l-6 6M997 613l6 6m0-6l-6 6M1000 617l6 6m0-6l-6 6M1000 624l6 6m0-6l-6 6M1000 625l6 6m0-6l-6 6M1001 620l6 6m0-6l-6 6M1001 618l6 6m0-6l-6 6M1001 622l6 6m0-6l-6 6M1000 620l6 6m0-6l-6 6M1001 624l6 6m0-6l-6 6M1001 621l6 6m0-6l-6 6M1001 621l6 6m0-6l-6 6M1001 623l6 6m0-6l-6 6M1003 624l6 6m0-6l-6 6M1004 628l6 6m0-6l-6 6M1004 624l6 6m0-6l-6 6M1004 629l6 6m0-6l-6 6M1003 628l6 6m0-6l-6 6M1003 625l6 6m0-6l-6 6M1004 628l6 6m0-6l-6 6M1004 628l6 6m0-6l-6 6M1003 623l6 6m0-6l-6 6M1005 620l6 6m0-6l-6 6M1005 615l6 6m0-6l-6 6M1005 622l6 6m0-6l-6 6M1005 616l6 6m0-6l-6 6M1005 618l6 6m0-6l-6 6M1005 619l6 6m0-6l-6 6M1004 615l6 6m0-6l-6 6M1005 619l6 6m0-6l-6 6M1008 620l6 6m0-6l-6 6M1007 617l6 6m0-6l-6 6M1007 617l6 6m0-6l-6 6M1010 614l6 6m0-6l-6 6M1010 615l6 6m0-6l-6 6M1010 613l6 6m0-6l-6 6M1011 617l6 6m0-6l-6 6M1010 614l6 6m0-6l-6 6M1010 613l6 6m0-6l-6 6M1011 623l6 6m0-6l-6 6M1012 622l6 6m0-6l-6 6M1012 616l6 6m0-6l-6 6M1012 622l6 6m0-6l-6 6M1015 609l6 6m0-6l-6 6M1014 610l6 6m0-6l-6 6M1015 613l6 6m0-6l-6 6M1015 607l6 6m0-6l-6 6M1015 613l6 6m0-6l-6 6M1016 608l6 6m0-6l-6 6M1017 615l6 6m0-6l-6 6M1016 611l6 6m0-6l-6 6M1015 615l6 6m0-6l-6 6M1016 609l6 6m0-6l-6 6M1016 612l6 6m0-6l-6 6M1016 610l6 6m0-6l-6 6M1020 615l6 6m0-6l-6 6M1020 610l6 6m0-6l-6 6M1020 619l6 6m0-6l-6 6M1019 615l6 6m0-6l-6 6M1019 613l6 6m0-6l-6 6M1020 613l6 6m0-6l-6 6M1023 615l6 6m0-6l-6 6M1023 614l6 6m0-6l-6 6M1023 614l6 6m0-6l-6 6M1023 622l6 6m0-6l-6 6M1025 612l6 6m0-6l-6 6M1024 620l6 6m0-6l-6 6M1024 611l6 6m0-6l-6 6M1024 611l6 6m0-6l-6 6M1024 614l6 6m0-6l-6 6M1025 614l6 6m0-6l-6 6M1024 615l6 6m0-6l-6 6M1024 612l6 6m0-6l-6 6M1025 615l6 6m0-6l-6 6M1024 616l6 6m0-6l-6 6M1026 619l6 6m0-6l-6 6M1026 618l6 6m0-6l-6 6M1026 617l6 6m0-6l-6 6M1027 615l6 6m0-6l-6 6M1026 618l6 6m0-6l-6 6M1026 614l6 6m0-6l-6 6M1027 615l6 6m0-6l-6 6M1026 621l6 6m0-6l-6 6M1028 613l6 6m0-6l-6 6M1028 615l6 6m0-6l-6 6M1028 615l6 6m0-6l-6 6M1028 611l6 6m0-6l-6 6M1028 613l6 6m0-6l-6 6M1028 614l6 6m0-6l-6 6M1027 616l6 6m0-6l-6 6M1029 615l6 6m0-6l-6 6M1029 614l6 6m0-6l-6 6M1029 621l6 6m0-6l-6 6M1030 619l6 6m0-6l-6 6M1029 617l6 6m0-6l-6 6M1029 621l6 6m0-6l-6 6M1029 617l6 6m0-6l-6 6M1029 620l6 6m0-6l-6 6M1029 621l6 6m0-6l-6 6M1032 615l6 6m0-6l-6 6M1032 617l6 6m0-6l-6 6M1033 618l6 6m0-6l-6 6M1032 618l6 6m0-6l-6 6M1032 615l6 6m0-6l-6 6M1033 620l6 6m0-6l-6 6M1032 619l6 6m0-6l-6 6M1032 618l6 6m0-6l-6 6M1035 621l6 6m0-6l-6 6M1035 609l6 6m0-6l-6 6M1034 615l6 6m0-6l-6 6M1035 616l6 6m0-6l-6 6M1035 612l6 6m0-6l-6 6M1035 616l6 6m0-6l-6 6M1035 616l6 6m0-6l-6 6M1035 615l6 6m0-6l-6 6M1034 616l6 6m0-6l-6 6M1034 617l6 6m0-6l-6 6M1038 617l6 6m0-6l-6 6M1038 614l6 6m0-6l-6 6M1039 611l6 6m0-6l-6 6M1041 621l6 6m0-6l-6 6M1041 615l6 6m0-6l-6 6M1041 616l6 6m0-6l-6 6M1041 618l6 6m0-6l-6 6M1041 618l6 6m0-6l-6 6M1044 614l6 6m0-6l-6 6M1044 614l6 6m0-6l-6 6M1045 621l6 6m0-6l-6 6M1045 614l6 6m0-6l-6 6M1044 619l6 6m0-6l-6 6M1045 623l6 6m0-6l-6 6M1045 617l6 6m0-6l-6 6M1047 618l6 6m0-6l-6 6M1047 615l6 6m0-6l-6 6M1048 619l6 6m0-6l-6 6M1048 619l6 6m0-6l-6 6M1048 616l6 6m0-6l-6 6M1046 616l6 6m0-6l-6 6M1047 624l6 6m0-6l-6 6M1047 618l6 6m0-6l-6 6M1047 619l6 6m0-6l-6 6M1047 619l6 6m0-6l-6 6M1050 626l6 6m0-6l-6 6M1051 619l6 6m0-6l-6 6M1050 623l6 6m0-6l-6 6M1050 622l6 6m0-6l-6 6M1050 624l6 6m0-6l-6 6M1050 625l6 6m0-6l-6 6M1050 626l6 6m0-6l-6 6M1051 631l6 6m0-6l-6 6M1050 624l6 6m0-6l-6 6M1052 617l6 6m0-6l-6 6M1053 620l6 6m0-6l-6 6M1053 624l6 6m0-6l-6 6M1053 618l6 6m0-6l-6 6M1053 617l6 6m0-6l-6 6M1053 617l6 6m0-6l-6 6M1053 622l6 6m0-6l-6 6M1056 626l6 6m0-6l-6 6M1057 628l6 6m0-6l-6 6M1056 629l6 6m0-6l-6 6M1059 619l6 6m0-6l-6 6M1058 619l6 6m0-6l-6 6M1059 625l6 6m0-6l-6 6M1058 615l6 6m0-6l-6 6M1060 627l6 6m0-6l-6 6M1061 627l6 6m0-6l-6 6M1060 626l6 6m0-6l-6 6M1060 624l6 6m0-6l-6 6M1063 628l6 6m0-6l-6 6M1064 631l6 6m0-6l-6 6M1063 628l6 6m0-6l-6 6M1064 628l6 6m0-6l-6 6M1063 632l6 6m0-6l-6 6M1064 627l6 6m0-6l-6 6M1064 629l6 6m0-6l-6 6M1065 630l6 6m0-6l-6 6M1066 630l6 6m0-6l-6 6M1065 632l6 6m0-6l-6 6M1069 630l6 6m0-6l-6 6M1069 629l6 6m0-6l-6 6M1069 635l6 6m0-6l-6 6M1069 632l6 6m0-6l-6 6M1069 628l6 6m0-6l-6 6M1069 627l6 6m0-6l-6 6M1068 629l6 6m0-6l-6 6M1069 632l6 6m0-6l-6 6M1068 624l6 6m0-6l-6 6M1072 645l6 6m0-6l-6 6M1072 642l6 6m0-6l-6 6M1073 642l6 6m0-6l-6 6M1074 646l6 6m0-6l-6 6M1075 645l6 6m0-6l-6 6M1075 649l6 6m0-6l-6 6M1077 647l6 6m0-6l-6 6M1077 643l6 6m0-6l-6 6M1076 646l6 6m0-6l-6 6M1077 647l6 6m0-6l-6 6M1077 645l6 6m0-6l-6 6M1077 647l6 6m0-6l-6 6M1077 646l6 6m0-6l-6 6M1076 646l6 6m0-6l-6 6M1077 646l6 6m0-6l-6 6M1078 639l6 6m0-6l-6 6M1078 642l6 6m0-6l-6 6M1079 644l6 6m0-6l-6 6M1078 640l6 6m0-6l-6 6M1079 637l6 6m0-6l-6 6M1078 640l6 6m0-6l-6 6M1079 645l6 6m0-6l-6 6M1078 639l6 6m0-6l-6 6M1079 641l6 6m0-6l-6 6M1079 648l6 6m0-6l-6 6M1082 645l6 6m0-6l-6 6M1082 648l6 6m0-6l-6 6M1081 642l6 6m0-6l-6 6M1082 645l6 6m0-6l-6 6M1082 643l6 6m0-6l-6 6M1085 649l6 6m0-6l-6 6M1085 642l6 6m0-6l-6 6M1085 646l6 6m0-6l-6 6M1086 646l6 6m0-6l-6 6M1086 643l6 6m0-6l-6 6M1088 640l6 6m0-6l-6 6M1088 641l6 6m0-6l-6 6M1088 646l6 6m0-6l-6 6M1087 641l6 6m0-6l-6 6M1088 645l6 6m0-6l-6 6M1088 637l6 6m0-6l-6 6M1089 656l6 6m0-6l-6 6M1090 648l6 6m0-6l-6 6M1090 650l6 6m0-6l-6 6M1088 653l6 6m0-6l-6 6M1089 656l6 6m0-6l-6 6M1089 653l6 6m0-6l-6 6M1091 648l6 6m0-6l-6 6M1092 654l6 6m0-6l-6 6M1092 655l6 6m0-6l-6 6M1093 650l6 6m0-6l-6 6M1093 650l6 6m0-6l-6 6M1092 649l6 6m0-6l-6 6M1095 649l6 6m0-6l-6 6M1095 651l6 6m0-6l-6 6M1095 641l6 6m0-6l-6 6M1095 651l6 6m0-6l-6 6M1097 650l6 6m0-6l-6 6M1098 649l6 6m0-6l-6 6M1097 647l6 6m0-6l-6 6M1099 652l6 6m0-6l-6 6M1100 654l6 6m0-6l-6 6M1099 656l6 6m0-6l-6 6M1103 658l6 6m0-6l-6 6M1103 654l6 6m0-6l-6 6M1102 653l6 6m0-6l-6 6M1103 655l6 6m0-6l-6 6M1102 655l6 6m0-6l-6 6M1104 651l6 6m0-6l-6 6M1104 655l6 6m0-6l-6 6M1105 653l6 6m0-6l-6 6M1104 654l6 6m0-6l-6 6M1105 654l6 6m0-6l-6 6M1105 653l6 6m0-6l-6 6M1107 659l6 6m0-6l-6 6M1107 655l6 6m0-6l-6 6M1106 658l6 6m0-6l-6 6M1107 657l6 6m0-6l-6 6M1106 654l6 6m0-6l-6 6M1109 656l6 6m0-6l-6 6M1109 651l6 6m0-6l-6 6M1109 653l6 6m0-6l-6 6M1111 650l6 6m0-6l-6 6M1112 652l6 6m0-6l-6 6M1112 656l6 6m0-6l-6 6M1112 652l6 6m0-6l-6 6M1111 650l6 6m0-6l-6 6M1112 652l6 6m0-6l-6 6M1112 655l6 6m0-6l-6 6M1115 646l6 6m0-6l-6 6M1115 651l6 6m0-6l-6 6M1115 654l6 6m0-6l-6 6M1117 655l6 6m0-6l-6 6M1117 661l6 6m0-6l-6 6M1117 659l6 6m0-6l-6 6M1117 658l6 6m0-6l-6 6M1117 656l6 6m0-6l-6 6M1117 659l6 6m0-6l-6 6M1117 657l6 6m0-6l-6 6M1117 657l6 6m0-6l-6 6M1118 658l6 6m0-6l-6 6M1121 657l6 6m0-6l-6 6M1121 666l6 6m0-6l-6 6M1120 655l6 6m0-6l-6 6M1121 662l6 6m0-6l-6 6M1120 661l6 6m0-6l-6 6M1123 665l6 6m0-6l-6 6M1123 665l6 6m0-6l-6 6M1123 660l6 6m0-6l-6 6M1123 662l6 6m0-6l-6 6M1125 660l6 6m0-6l-6 6M1124 658l6 6m0-6l-6 6M1125 658l6 6m0-6l-6 6M1125 654l6 6m0-6l-6 6M1125 663l6 6m0-6l-6 6M1125 659l6 6m0-6l-6 6M1127 659l6 6m0-6l-6 6M1127 663l6 6m0-6l-6 6M1127 659l6 6m0-6l-6 6M1127 659l6 6m0-6l-6 6M1127 661l6 6m0-6l-6 6M1129 671l6 6m0-6l-6 6M1128 672l6 6m0-6l-6 6M1129 669l6 6m0-6l-6 6M1129 673l6 6m0-6l-6 6M1128 670l6 6m0-6l-6 6M1129 672l6 6m0-6l-6 6M1129 671l6 6m0-6l-6 6M1128 669l6 6m0-6l-6 6M1129 672l6 6m0-6l-6 6M1129 671l6 6m0-6l-6 6M1131 662l6 6m0-6l-6 6M1132 667l6 6m0-6l-6 6M1131 667l6 6m0-6l-6 6M1132 661l6 6m0-6l-6 6M1131 665l6 6m0-6l-6 6M1132 664l6 6m0-6l-6 6M1131 664l6 6m0-6l-6 6M1135 671l6 6m0-6l-6 6M1135 668l6 6m0-6l-6 6M1136 668l6 6m0-6l-6 6M1136 670l6 6m0-6l-6 6M1135 672l6 6m0-6l-6 6M1135 668l6 6m0-6l-6 6M1136 666l6 6m0-6l-6 6M1139 673l6 6m0-6l-6 6M1139 673l6 6m0-6l-6 6M1138 675l6 6m0-6l-6 6M1138 678l6 6m0-6l-6 6M1138 680l6 6m0-6l-6 6M1139 675l6 6m0-6l-6 6M1140 676l6 6m0-6l-6 6M1140 671l6 6m0-6l-6 6M1140 674l6 6m0-6l-6 6M1140 666l6 6m0-6l-6 6M1140 673l6 6m0-6l-6 6M1143 674l6 6m0-6l-6 6M1143 677l6 6m0-6l-6 6M1143 679l6 6m0-6l-6 6M1143 675l6 6m0-6l-6 6M1143 676l6 6m0-6l-6 6M1143 678l6 6m0-6l-6 6M1144 668l6 6m0-6l-6 6M1144 671l6 6m0-6l-6 6M1144 673l6 6m0-6l-6 6M1144 669l6 6m0-6l-6 6M1148 678l6 6m0-6l-6 6M1148 675l6 6m0-6l-6 6M1148 679l6 6m0-6l-6 6M1148 683l6 6m0-6l-6 6M1148 679l6 6m0-6l-6 6M1148 681l6 6m0-6l-6 6M1151 673l6 6m0-6l-6 6M1151 684l6 6m0-6l-6 6M1152 682l6 6m0-6l-6 6M1154 692l6 6m0-6l-6 6M1154 690l6 6m0-6l-6 6M1155 689l6 6m0-6l-6 6M1154 690l6 6m0-6l-6 6M1154 691l6 6m0-6l-6 6M1155 692l6 6m0-6l-6 6M1155 693l6 6m0-6l-6 6M1154 696l6 6m0-6l-6 6M1155 690l6 6m0-6l-6 6M1156 689l6 6m0-6l-6 6M1156 688l6 6m0-6l-6 6M1157 692l6 6m0-6l-6 6M1157 687l6 6m0-6l-6 6M1156 684l6 6m0-6l-6 6M1157 684l6 6m0-6l-6 6M1157 691l6 6m0-6l-6 6M1157 683l6 6m0-6l-6 6M1159 690l6 6m0-6l-6 6M1160 683l6 6m0-6l-6 6M1159 690l6 6m0-6l-6 6M1159 686l6 6m0-6l-6 6M1159 685l6 6m0-6l-6 6M1159 688l6 6m0-6l-6 6M1159 686l6 6m0-6l-6 6M1159 686l6 6m0-6l-6 6M1159 686l6 6m0-6l-6 6M1162 697l6 6m0-6l-6 6M1163 696l6 6m0-6l-6 6M1163 691l6 6m0-6l-6 6M1162 699l6 6m0-6l-6 6M1163 693l6 6m0-6l-6 6M1163 696l6 6m0-6l-6 6M1163 696l6 6m0-6l-6 6M1165 695l6 6m0-6l-6 6M1165 699l6 6m0-6l-6 6M1164 695l6 6m0-6l-6 6M1165 695l6 6m0-6l-6 6M1164 694l6 6m0-6l-6 6M1168 695l6 6m0-6l-6 6M1168 695l6 6m0-6l-6 6M1169 695l6 6m0-6l-6 6M1171 693l6 6m0-6l-6 6M1171 692l6 6m0-6l-6 6M1171 692l6 6m0-6l-6 6M1173 699l6 6m0-6l-6 6M1173 699l6 6m0-6l-6 6M1173 703l6 6m0-6l-6 6M1173 699l6 6m0-6l-6 6M1173 695l6 6m0-6l-6 6M1173 701l6 6m0-6l-6 6M1173 701l6 6m0-6l-6 6M1173 697l6 6m0-6l-6 6M1173 698l6 6m0-6l-6 6M1173 702l6 6m0-6l-6 6M1175 694l6 6m0-6l-6 6M1175 695l6 6m0-6l-6 6M1175 696l6 6m0-6l-6 6M1174 696l6 6m0-6l-6 6M1174 697l6 6m0-6l-6 6M1175 698l6 6m0-6l-6 6M1174 696l6 6m0-6l-6 6M1175 696l6 6m0-6l-6 6M1174 693l6 6m0-6l-6 6M1177 702l6 6m0-6l-6 6M1177 700l6 6m0-6l-6 6M1178 704l6 6m0-6l-6 6M1177 697l6 6m0-6l-6 6M1178 698l6 6m0-6l-6 6M1179 699l6 6m0-6l-6 6M1180 699l6 6m0-6l-6 6M1179 704l6 6m0-6l-6 6M1179 702l6 6m0-6l-6 6M1179 702l6 6m0-6l-6 6M1180 707l6 6m0-6l-6 6M1179 698l6 6m0-6l-6 6M1179 702l6 6m0-6l-6 6M1183 706l6 6m0-6l-6 6M1182 697l6 6m0-6l-6 6M1183 702l6 6m0-6l-6 6M1182 696l6 6m0-6l-6 6M1182 698l6 6m0-6l-6 6M1183 698l6 6m0-6l-6 6M1183 698l6 6m0-6l-6 6M1183 690l6 6m0-6l-6 6M1184 695l6 6m0-6l-6 6M1184 694l6 6m0-6l-6 6M1185 695l6 6m0-6l-6 6M1184 704l6 6m0-6l-6 6M1185 699l6 6m0-6l-6 6M1184 694l6 6m0-6l-6 6M1184 699l6 6m0-6l-6 6M1186 698l6 6m0-6l-6 6M1186 700l6 6m0-6l-6 6M1186 693l6 6m0-6l-6 6M1185 697l6 6m0-6l-6 6M1189 703l6 6m0-6l-6 6M1188 698l6 6m0-6l-6 6M1188 703l6 6m0-6l-6 6M1188 702l6 6m0-6l-6 6M1191 703l6 6m0-6l-6 6M1191 702l6 6m0-6l-6 6M1190 701l6 6m0-6l-6 6M1190 697l6 6m0-6l-6 6M1190 700l6 6m0-6l-6 6M1191 701l6 6m0-6l-6 6M1191 701l6 6m0-6l-6 6M1191 698l6 6m0-6l-6 6M1192 699l6 6m0-6l-6 6M1192 706l6 6m0-6l-6 6M1193 699l6 6m0-6l-6 6M1192 694l6 6m0-6l-6 6M1192 699l6 6m0-6l-6 6M1192 698l6 6m0-6l-6 6M1193 696l6 6m0-6l-6 6M1192 701l6 6m0-6l-6 6M1192 697l6 6m0-6l-6 6M1196 706l6 6m0-6l-6 6M1195 701l6 6m0-6l-6 6M1196 705l6 6m0-6l-6 6M1196 702l6 6m0-6l-6 6M1196 706l6 6m0-6l-6 6M1196 703l6 6m0-6l-6 6M1199 700l6 6m0-6l-6 6M1198 702l6 6m0-6l-6 6M1198 699l6 6m0-6l-6 6M1198 697l6 6m0-6l-6 6M1198 702l6 6m0-6l-6 6M1199 704l6 6m0-6l-6 6M1198 702l6 6m0-6l-6 6M1199 702l6 6m0-6l-6 6M1200 705l6 6m0-6l-6 6M1200 709l6 6m0-6l-6 6M1199 704l6 6m0-6l-6 6M1200 702l6 6m0-6l-6 6M1200 704l6 6m0-6l-6 6M1200 710l6 6m0-6l-6 6M1201 706l6 6m0-6l-6 6M1201 701l6 6m0-6l-6 6M1201 706l6 6m0-6l-6 6M1202 709l6 6m0-6l-6 6M1201 704l6 6m0-6l-6 6M1201 708l6 6m0-6l-6 6M1201 706l6 6m0-6l-6 6M1204 700l6 6m0-6l-6 6M1203 701l6 6m0-6l-6 6M1204 703l6 6m0-6l-6 6M1207 700l6 6m0-6l-6 6M1206 704l6 6m0-6l-6 6M1207 700l6 6m0-6l-6 6M1206 702l6 6m0-6l-6 6M1207 701l6 6m0-6l-6 6M1206 694l6 6m0-6l-6 6M1207 702l6 6m0-6l-6 6M1207 702l6 6m0-6l-6 6M1211 709l6 6m0-6l-6 6M1210 706l6 6m0-6l-6 6M1210 707l6 6m0-6l-6 6M1210 711l6 6m0-6l-6 6M1212 706l6 6m0-6l-6 6M1213 706l6 6m0-6l-6 6M1213 706l6 6m0-6l-6 6M1213 710l6 6m0-6l-6 6M1213 707l6 6m0-6l-6 6M1213 703l6 6m0-6l-6 6M1213 706l6 6m0-6l-6 6M1212 709l6 6m0-6l-6 6M1213 713l6 6m0-6l-6 6M1215 708l6 6m0-6l-6 6M1215 709l6 6m0-6l-6 6M1215 709l6 6m0-6l-6 6M1215 705l6 6m0-6l-6 6M1215 709l6 6m0-6l-6 6M1215 711l6 6m0-6l-6 6M1215 704l6 6m0-6l-6 6M1215 707l6 6m0-6l-6 6M1215 706l6 6m0-6l-6 6M1216 721l6 6m0-6l-6 6M1217 718l6 6m0-6l-6 6M1217 720l6 6m0-6l-6 6M1217 716l6 6m0-6l-6 6M1220 713l6 6m0-6l-6 6M1219 710l6 6m0-6l-6 6M1220 716l6 6m0-6l-6 6M1219 713l6 6m0-6l-6 6M1220 712l6 6m0-6l-6 6M1219 713l6 6m0-6l-6 6M1219 714l6 6m0-6l-6 6M1224 711l6 6m0-6l-6 6M1223 717l6 6m0-6l-6 6M1223 717l6 6m0-6l-6 6M1223 720l6 6m0-6l-6 6M1227 714l6 6m0-6l-6 6M1226 721l6 6m0-6l-6 6M1226 718l6 6m0-6l-6 6M1227 723l6 6m0-6l-6 6M1229 718l6 6m0-6l-6 6M1229 720l6 6m0-6l-6 6M1229 722l6 6m0-6l-6 6M1229 727l6 6m0-6l-6 6M1229 722l6 6m0-6l-6 6M1229 713l6 6m0-6l-6 6M1229 725l6 6m0-6l-6 6M1229 718l6 6m0-6l-6 6M1229 723l6 6m0-6l-6 6M1230 719l6 6m0-6l-6 6M1232 721l6 6m0-6l-6 6M1232 725l6 6m0-6l-6 6M1232 725l6 6m0-6l-6 6M1232 728l6 6m0-6l-6 6M1231 719l6 6m0-6l-6 6M1231 724l6 6m0-6l-6 6M1231 723l6 6m0-6l-6 6M1232 725l6 6m0-6l-6 6M1231 725l6 6m0-6l-6 6M1231 721l6 6m0-6l-6 6M1235 727l6 6m0-6l-6 6M1235 725l6 6m0-6l-6 6M1235 724l6 6m0-6l-6 6M1235 725l6 6m0-6l-6 6M1235 724l6 6m0-6l-6 6M1239 719l6 6m0-6l-6 6M1238 722l6 6m0-6l-6 6M1238 722l6 6m0-6l-6 6M1239 723l6 6m0-6l-6 6M1242 727l6 6m0-6l-6 6M1242 722l6 6m0-6l-6 6M1242 725l6 6m0-6l-6 6M1242 722l6 6m0-6l-6 6M1243 722l6 6m0-6l-6 6M1243 725l6 6m0-6l-6 6M1242 724l6 6m0-6l-6 6M1242 725l6 6m0-6l-6 6M1245 713l6 6m0-6l-6 6M1245 721l6 6m0-6l-6 6M1245 724l6 6m0-6l-6 6M1245 723l6 6m0-6l-6 6M1247 730l6 6m0-6l-6 6M1247 728l6 6m0-6l-6 6M1247 730l6 6m0-6l-6 6M1247 730l6 6m0-6l-6 6M1247 731l6 6m0-6l-6 6M1247 723l6 6m0-6l-6 6M1247 727l6 6m0-6l-6 6M1250 725l6 6m0-6l-6 6M1249 722l6 6m0-6l-6 6M1249 722l6 6m0-6l-6 6M1249 720l6 6m0-6l-6 6M1249 723l6 6m0-6l-6 6M1253 720l6 6m0-6l-6 6M1252 717l6 6m0-6l-6 6M1253 721l6 6m0-6l-6 6M1253 712l6 6m0-6l-6 6M1252 721l6 6m0-6l-6 6M1253 719l6 6m0-6l-6 6M1252 718l6 6m0-6l-6 6M1256 722l6 6m0-6l-6 6M1256 719l6 6m0-6l-6 6M1255 717l6 6m0-6l-6 6M1256 716l6 6m0-6l-6 6M1256 723l6 6m0-6l-6 6M1255 718l6 6m0-6l-6 6M1255 715l6 6m0-6l-6 6M1257 719l6 6m0-6l-6 6M1258 715l6 6m0-6l-6 6M1257 719l6 6m0-6l-6 6M1257 715l6 6m0-6l-6 6M1258 718l6 6m0-6l-6 6M1259 718l6 6m0-6l-6 6M1259 713l6 6m0-6l-6 6M1259 720l6 6m0-6l-6 6M1260 719l6 6m0-6l-6 6M1261 715l6 6m0-6l-6 6M1261 716l6 6m0-6l-6 6M1260 710l6 6m0-6l-6 6M1261 715l6 6m0-6l-6 6M1261 718l6 6m0-6l-6 6M1261 716l6 6m0-6l-6 6M1261 719l6 6m0-6l-6 6M1260 716l6 6m0-6l-6 6M1261 715l6 6m0-6l-6 6M1263 720l6 6m0-6l-6 6M1263 722l6 6m0-6l-6 6M1263 727l6 6m0-6l-6 6M1263 719l6 6m0-6l-6 6M1266 721l6 6m0-6l-6 6M1266 716l6 6m0-6l-6 6M1265 720l6 6m0-6l-6 6M1268 721l6 6m0-6l-6 6M1267 718l6 6m0-6l-6 6M1268 719l6 6m0-6l-6 6M1268 716l6 6m0-6l-6 6M1267 720l6 6m0-6l-6 6M1267 723l6 6m0-6l-6 6M1267 726l6 6m0-6l-6 6M1268 720l6 6m0-6l-6 6M1268 718l6 6m0-6l-6 6M1270 721l6 6m0-6l-6 6M1270 726l6 6m0-6l-6 6M1269 723l6 6m0-6l-6 6M1269 726l6 6m0-6l-6 6M1269 720l6 6m0-6l-6 6M1273 724l6 6m0-6l-6 6M1273 725l6 6m0-6l-6 6M1273 728l6 6m0-6l-6 6M1273 725l6 6m0-6l-6 6M1273 724l6 6m0-6l-6 6M1273 729l6 6m0-6l-6 6M1273 726l6 6m0-6l-6 6M1275 725l6 6m0-6l-6 6M1275 725l6 6m0-6l-6 6M1275 725l6 6m0-6l-6 6M1275 726l6 6m0-6l-6 6M1275 725l6 6m0-6l-6 6M1275 732l6 6m0-6l-6 6M1275 724l6 6m0-6l-6 6M1275 727l6 6m0-6l-6 6M1275 723l6 6m0-6l-6 6M1275 724l6 6m0-6l-6 6M1277 723l6 6m0-6l-6 6M1276 722l6 6m0-6l-6 6M1276 725l6 6m0-6l-6 6M1276 726l6 6m0-6l-6 6M1277 723l6 6m0-6l-6 6M1277 724l6 6m0-6l-6 6M1279 724l6 6m0-6l-6 6M1279 733l6 6m0-6l-6 6M1279 728l6 6m0-6l-6 6M1279 722l6 6m0-6l-6 6M1279 726l6 6m0-6l-6 6M1278 728l6 6m0-6l-6 6M1278 727l6 6m0-6l-6 6M1282 731l6 6m0-6l-6 6M1282 727l6 6m0-6l-6 6M1282 730l6 6m0-6l-6 6M1282 731l6 6m0-6l-6 6M1283 732l6 6m0-6l-6 6M1282 732l6 6m0-6l-6 6M1282 738l6 6m0-6l-6 6M1282 737l6 6m0-6l-6 6M1284 725l6 6m0-6l-6 6M1283 727l6 6m0-6l-6 6M1284 724l6 6m0-6l-6 6M1283 727l6 6m0-6l-6 6M1284 721l6 6m0-6l-6 6M1284 730l6 6m0-6l-6 6M1283 722l6 6m0-6l-6 6M1283 723l6 6m0-6l-6 6M1287 736l6 6m0-6l-6 6M1286 736l6 6m0-6l-6 6M1286 734l6 6m0-6l-6 6M1286 734l6 6m0-6l-6 6M1286 732l6 6m0-6l-6 6M1287 732l6 6m0-6l-6 6M1287 732l6 6m0-6l-6 6M1286 739l6 6m0-6l-6 6M1287 736l6 6m0-6l-6 6M1290 735l6 6m0-6l-6 6M1290 734l6 6m0-6l-6 6M1289 732l6 6m0-6l-6 6M1290 731l6 6m0-6l-6 6M1290 735l6 6m0-6l-6 6M1290 731l6 6m0-6l-6 6M1290 734l6 6m0-6l-6 6M1290 735l6 6m0-6l-6 6M1290 736l6 6m0-6l-6 6M1293 728l6 6m0-6l-6 6M1293 730l6 6m0-6l-6 6M1293 737l6 6m0-6l-6 6M1293 728l6 6m0-6l-6 6M1294 729l6 6m0-6l-6 6M1293 735l6 6m0-6l-6 6M1293 731l6 6m0-6l-6 6M1293 733l6 6m0-6l-6 6M1296 731l6 6m0-6l-6 6M1295 724l6 6m0-6l-6 6M1295 727l6 6m0-6l-6 6M1298 735l6 6m0-6l-6 6M1297 740l6 6m0-6l-6 6M1297 738l6 6m0-6l-6 6M1297 737l6 6m0-6l-6 6M1299 740l6 6m0-6l-6 6M1298 738l6 6m0-6l-6 6M1299 740l6 6m0-6l-6 6M1298 739l6 6m0-6l-6 6M1302 745l6 6m0-6l-6 6M1302 736l6 6m0-6l-6 6M1302 736l6 6m0-6l-6 6M1302 737l6 6m0-6l-6 6M1304 743l6 6m0-6l-6 6M1305 743l6 6m0-6l-6 6M1304 741l6 6m0-6l-6 6M1304 747l6 6m0-6l-6 6M1304 745l6 6m0-6l-6 6M1307 748l6 6m0-6l-6 6M1307 744l6 6m0-6l-6 6M1307 753l6 6m0-6l-6 6M1308 748l6 6m0-6l-6 6M1308 752l6 6m0-6l-6 6M1309 744l6 6m0-6l-6 6M1309 740l6 6m0-6l-6 6M1310 745l6 6m0-6l-6 6M1309 744l6 6m0-6l-6 6M1312 748l6 6m0-6l-6 6M1312 745l6 6m0-6l-6 6M1313 747l6 6m0-6l-6 6M1315 745l6 6m0-6l-6 6M1315 749l6 6m0-6l-6 6M1315 752l6 6m0-6l-6 6M1315 748l6 6m0-6l-6 6M1315 752l6 6m0-6l-6 6M1315 753l6 6m0-6l-6 6M1315 755l6 6m0-6l-6 6M1315 752l6 6m0-6l-6 6M1318 744l6 6m0-6l-6 6M1319 750l6 6m0-6l-6 6M1319 751l6 6m0-6l-6 6M1318 744l6 6m0-6l-6 6M1318 745l6 6m0-6l-6 6M1318 747l6 6m0-6l-6 6M1318 753l6 6m0-6l-6 6M1321 758l6 6m0-6l-6 6M1321 757l6 6m0-6l-6 6M1322 758l6 6m0-6l-6 6M1321 754l6 6m0-6l-6 6M1321 757l6 6m0-6l-6 6M1321 761l6 6m0-6l-6 6M1321 756l6 6m0-6l-6 6M1320 754l6 6m0-6l-6 6M1321 752l6 6m0-6l-6 6M1321 756l6 6m0-6l-6 6M1325 757l6 6m0-6l-6 6M1325 758l6 6m0-6l-6 6M1325 762l6 6m0-6l-6 6M1328 758l6 6m0-6l-6 6M1327 755l6 6m0-6l-6 6M1328 758l6 6m0-6l-6 6M1328 757l6 6m0-6l-6 6M1327 759l6 6m0-6l-6 6M1331 758l6 6m0-6l-6 6M1331 765l6 6m0-6l-6 6M1330 766l6 6m0-6l-6 6M1331 764l6 6m0-6l-6 6M1331 762l6 6m0-6l-6 6M1331 766l6 6m0-6l-6 6M1331 763l6 6m0-6l-6 6M1331 763l6 6m0-6l-6 6M1330 765l6 6m0-6l-6 6M1334 760l6 6m0-6l-6 6M1334 760l6 6m0-6l-6 6M1334 764l6 6m0-6l-6 6M1333 764l6 6m0-6l-6 6M1334 764l6 6m0-6l-6 6M1334 766l6 6m0-6l-6 6M1334 761l6 6m0-6l-6 6M1336 758l6 6m0-6l-6 6M1336 763l6 6m0-6l-6 6M1335 756l6 6m0-6l-6 6M1335 754l6 6m0-6l-6 6M1336 758l6 6m0-6l-6 6M1335 756l6 6m0-6l-6 6M1336 757l6 6m0-6l-6 6M1335 754l6 6m0-6l-6 6M1339 764l6 6m0-6l-6 6M1339 769l6 6m0-6l-6 6M1338 762l6 6m0-6l-6 6M1338 764l6 6m0-6l-6 6M1338 765l6 6m0-6l-6 6M1339 765l6 6m0-6l-6 6M1338 756l6 6m0-6l-6 6M1338 759l6 6m0-6l-6 6M1341 768l6 6m0-6l-6 6M1341 766l6 6m0-6l-6 6M1340 766l6 6m0-6l-6 6M1341 766l6 6m0-6l-6 6M1342 768l6 6m0-6l-6 6M1342 769l6 6m0-6l-6 6M1343 769l6 6m0-6l-6 6M1342 771l6 6m0-6l-6 6M1342 768l6 6m0-6l-6 6M1343 770l6 6m0-6l-6 6M1344 765l6 6m0-6l-6 6M1344 769l6 6m0-6l-6 6M1346 772l6 6m0-6l-6 6M1345 768l6 6m0-6l-6 6M1345 768l6 6m0-6l-6 6M1345 771l6 6m0-6l-6 6M1346 766l6 6m0-6l-6 6M1345 772l6 6m0-6l-6 6M1345 765l6 6m0-6l-6 6M1346 773l6 6m0-6l-6 6M1346 771l6 6m0-6l-6 6M1345 768l6 6m0-6l-6 6M1347 768l6 6m0-6l-6 6M1348 769l6 6m0-6l-6 6M1348 772l6 6m0-6l-6 6M1348 769l6 6m0-6l-6 6M1348 769l6 6m0-6l-6 6M1347 767l6 6m0-6l-6 6M1347 771l6 6m0-6l-6 6M1347 770l6 6m0-6l-6 6M1348 766l6 6m0-6l-6 6M1347 771l6 6m0-6l-6 6M1351 774l6 6m0-6l-6 6M1351 771l6 6m0-6l-6 6M1351 774l6 6m0-6l-6 6M1351 770l6 6m0-6l-6 6M1350 770l6 6m0-6l-6 6M1355 767l6 6m0-6l-6 6M1354 767l6 6m0-6l-6 6M1355 759l6 6m0-6l-6 6M1354 769l6 6m0-6l-6 6M1355 768l6 6m0-6l-6 6M1354 768l6 6m0-6l-6 6M1355 767l6 6m0-6l-6 6M1356 771l6 6m0-6l-6 6M1357 770l6 6m0-6l-6 6M1356 769l6 6m0-6l-6 6M1357 774l6 6m0-6l-6 6M1356 769l6 6m0-6l-6 6M1356 765l6 6m0-6l-6 6M1358 771l6 6m0-6l-6 6M1358 775l6 6m0-6l-6 6M1358 775l6 6m0-6l-6 6M1358 770l6 6m0-6l-6 6M1357 771l6 6m0-6l-6 6M1361 767l6 6m0-6l-6 6M1361 769l6 6m0-6l-6 6M1361 765l6 6m0-6l-6 6M1361 773l6 6m0-6l-6 6M1361 774l6 6m0-6l-6 6M1364 772l6 6m0-6l-6 6M1364 773l6 6m0-6l-6 6M1365 772l6 6m0-6l-6 6M1364 776l6 6m0-6l-6 6M1364 775l6 6m0-6l-6 6M1367 765l6 6m0-6l-6 6M1367 768l6 6m0-6l-6 6M1368 768l6 6m0-6l-6 6M1368 761l6 6m0-6l-6 6M1368 762l6 6m0-6l-6 6M1367 767l6 6m0-6l-6 6M1367 761l6 6m0-6l-6 6M1367 761l6 6m0-6l-6 6M1367 761l6 6m0-6l-6 6M1369 773l6 6m0-6l-6 6M1370 767l6 6m0-6l-6 6M1369 771l6 6m0-6l-6 6M1369 773l6 6m0-6l-6 6M1370 772l6 6m0-6l-6 6M1369 768l6 6m0-6l-6 6M1372 765l6 6m0-6l-6 6M1371 763l6 6m0-6l-6 6M1371 766l6 6m0-6l-6 6M1374 772l6 6m0-6l-6 6M1374 770l6 6m0-6l-6 6M1373 769l6 6m0-6l-6 6M1373 772l6 6m0-6l-6 6M1373 769l6 6m0-6l-6 6M1373 771l6 6m0-6l-6 6M1374 768l6 6m0-6l-6 6M1376 763l6 6m0-6l-6 6M1376 763l6 6m0-6l-6 6M1376 767l6 6m0-6l-6 6M1375 770l6 6m0-6l-6 6M1376 768l6 6m0-6l-6 6M1376 768l6 6m0-6l-6 6M1376 769l6 6m0-6l-6 6M1376 768l6 6m0-6l-6 6M1378 764l6 6m0-6l-6 6M1378 762l6 6m0-6l-6 6M1378 767l6 6m0-6l-6 6M1379 763l6 6m0-6l-6 6M1378 767l6 6m0-6l-6 6M1379 770l6 6m0-6l-6 6M1378 766l6 6m0-6l-6 6M1379 765l6 6m0-6l-6 6M1379 770l6 6m0-6l-6 6M1378 766l6 6m0-6l-6 6M1381 768l6 6m0-6l-6 6M1381 765l6 6m0-6l-6 6M1381 764l6 6m0-6l-6 6M1382 771l6 6m0-6l-6 6M1384 774l6 6m0-6l-6 6M1384 766l6 6m0-6l-6 6M1384 768l6 6m0-6l-6 6M1384 769l6 6m0-6l-6 6M1384 774l6 6m0-6l-6 6M1383 768l6 6m0-6l-6 6M1386 779l6 6m0-6l-6 6M1387 774l6 6m0-6l-6 6M1386 777l6 6m0-6l-6 6M1386 775l6 6m0-6l-6 6M1386 776l6 6m0-6l-6 6M1386 773l6 6m0-6l-6 6M1386 779l6 6m0-6l-6 6M1388 779l6 6m0-6l-6 6M1388 777l6 6m0-6l-6 6M1388 777l6 6m0-6l-6 6M1388 773l6 6m0-6l-6 6M1388 773l6 6m0-6l-6 6M1391 784l6 6m0-6l-6 6M1390 777l6 6m0-6l-6 6M1390 774l6 6m0-6l-6 6M1393 781l6 6m0-6l-6 6M1393 781l6 6m0-6l-6 6M1393 783l6 6m0-6l-6 6M1392 782l6 6m0-6l-6 6M1393 785l6 6m0-6l-6 6M1392 780l6 6m0-6l-6 6M1393 783l6 6m0-6l-6 6M1396 785l6 6m0-6l-6 6M1396 783l6 6m0-6l-6 6M1397 783l6 6m0-6l-6 6M1398 794l6 6m0-6l-6 6M1398 790l6 6m0-6l-6 6M1397 789l6 6m0-6l-6 6M1398 787l6 6m0-6l-6 6M1398 790l6 6m0-6l-6 6M1397 789l6 6m0-6l-6 6M1398 788l6 6m0-6l-6 6M1401 796l6 6m0-6l-6 6M1401 789l6 6m0-6l-6 6M1401 793l6 6m0-6l-6 6M1401 792l6 6m0-6l-6 6M1401 796l6 6m0-6l-6 6M1401 788l6 6m0-6l-6 6M1403 796l6 6m0-6l-6 6M1403 789l6 6m0-6l-6 6M1404 791l6 6m0-6l-6 6M1403 789l6 6m0-6l-6 6M1404 795l6 6m0-6l-6 6M1406 793l6 6m0-6l-6 6M1406 793l6 6m0-6l-6 6M1407 795l6 6m0-6l-6 6M1406 800l6 6m0-6l-6 6M1406 799l6 6m0-6l-6 6M1409 791l6 6m0-6l-6 6M1410 790l6 6m0-6l-6 6M1409 794l6 6m0-6l-6 6M1409 794l6 6m0-6l-6 6M1411 790l6 6m0-6l-6 6M1411 790l6 6m0-6l-6 6M1411 798l6 6m0-6l-6 6M1414 797l6 6m0-6l-6 6M1413 799l6 6m0-6l-6 6M1413 797l6 6m0-6l-6 6M1415 799l6 6m0-6l-6 6M1416 793l6 6m0-6l-6 6M1415 796l6 6m0-6l-6 6M1415 795l6 6m0-6l-6 6M1416 794l6 6m0-6l-6 6M1416 793l6 6m0-6l-6 6M1416 795l6 6m0-6l-6 6M1415 797l6 6m0-6l-6 6M1415 799l6 6m0-6l-6 6M1415 791l6 6m0-6l-6 6M1419 798l6 6m0-6l-6 6M1419 798l6 6m0-6l-6 6" stroke="#000" stroke-width="1" fill="none" shape-rendering="crispEdges"/>
<polyline points="162.0,307.7 164.0,307.1 166.0,306.2 168.0,305.2 170.0,304.2 172.0,303.2 174.0,302.2 176.0,301.3 178.0,300.4 180.0,299.5 182.0,298.6 184.0,297.8 186.0,297.1 188.0,296.6 190.0,296.3 192.0,295.9 194.0,295.5 196.0,295.1 198.0,294.7 200.0,294.2 202.0,293.6 204.0,293.0 206.0,292.2 208.0,291.5 210.0,290.8 212.0,290.1 214.0,289.3 216.0,288.6 218.0,287.9 220.0,287.1 222.0,286.4 224.0,285.9 226.0,285.5 228.0,285.3 230.0,285.2 232.0,285.2 234.0,285.1 236.0,285.0 238.0,284.9 240.0,284.8 242.0,284.7 244.0,284.6 246.0,284.5 248.0,284.2 250.0,283.9 252.0,283.4 254.0,282.9 256.0,282.4 258.0,282.1 260.0,281.9 262.0,281.9 264.0,282.1 266.0,282.4 268.0,283.0 270.0,284.0 272.0,285.2 274.0,286.5 276.0,287.7 278.0,288.6 280.0,289.2 282.0,289.6 284.0,289.8 286.0,290.0 288.0,290.2 290.0,290.4 292.0,290.7 294.0,291.0 296.0,291.4 298.0,291.8 300.0,292.0 302.0,291.8 304.0,291.4 306.0,291.0 308.0,290.6 310.0,290.5 312.0,290.5 314.0,290.6 316.0,290.8 318.0,291.0 320.0,291.3 322.0,291.9 324.0,292.7 326.0,293.9 328.0,295.4 330.0,297.2 332.0,299.2 334.0,301.1 336.0,302.9 338.0,304.3 340.0,305.6 342.0,306.8 344.0,308.0 346.0,309.2 348.0,310.4 350.0,311.6 352.0,312.6 354.0,313.4 356.0,314.1 358.0,314.7 360.0,315.3 362.0,315.9 364.0,316.5 366.0,317.1 368.0,317.7 370.0,318.4 372.0,319.0 374.0,319.7 376.0,320.4 378.0,321.2 380.0,322.0 382.0,322.9 384.0,323.7 386.0,324.6 388.0,325.6 390.0,326.7 392.0,327.8 394.0,329.0 396.0,330.1 398.0,331.3 400.0,332.4 402.0,333.5 404.0,334.5 406.0,335.6 408.0,336.6 410.0,337.6 412.0,338.6 414.0,339.6 416.0,340.5 418.0,341.4 420.0,342.3 422.0,343.1 424.0,343.9 426.0,344.9 428.0,346.3 430.0,348.1 432.0,350.3 434.0,352.5 436.0,354.4 438.0,356.0 440.0,357.2 442.0,358.1 444.0,359.0 446.0,359.8 448.0,360.5 450.0,361.1 452.0,361.6 454.0,362.1 456.0,362.6 458.0,363.1 460.0,363.7 462.0,364.4 464.0,365.3 466.0,366.1 468.0,366.9 470.0,367.8 472.0,368.9 474.0,370.2 476.0,371.8 478.0,373.5 480.0,375.1 482.0,376.6 484.0,377.9 486.0,379.2 488.0,380.5 490.0,381.7 492.0,382.7 494.0,383.7 496.0,384.6 498.0,385.4 500.0,386.3 502.0,387.2 504.0,388.1 506.0,389.0 508.0,389.9 510.0,391.0 512.0,392.2 514.0,393.4 516.0,394.6 518.0,395.9 520.0,397.4 522.0,398.9 524.0,400.6 526.0,402.2 528.0,403.8 530.0,405.1 532.0,406.2 534.0,406.9 536.0,407.6 538.0,408.4 540.0,409.5 542.0,410.7 544.0,412.1 546.0,413.5 548.0,414.8 550.0,416.0 552.0,417.1 554.0,418.2 556.0,419.2 558.0,420.2 560.0,421.2 562.0,422.2 564.0,423.3 566.0,424.5 568.0,425.9 570.0,427.4 572.0,429.0 574.0,430.6 576.0,432.0 578.0,433.2 580.0,434.3 582.0,435.2 584.0,436.2 586.0,437.1 588.0,438.0 590.0,438.9 592.0,439.8 594.0,440.7 596.0,441.6 598.0,442.4 600.0,443.2 602.0,444.0 604.0,444.8 606.0,445.6 608.0,446.4 610.0,447.2 612.0,448.0 614.0,448.7 616.0,449.5 618.0,450.3 620.0,451.1 622.0,451.8 624.0,452.6 626.0,453.4 628.0,454.3 630.0,455.3 632.0,456.4 634.0,457.6 636.0,458.8 638.0,460.0 640.0,461.3 642.0,462.5 644.0,463.9 646.0,465.2 648.0,466.5 650.0,467.9 652.0,469.2 654.0,470.6 656.0,472.0 658.0,473.4 660.0,474.8 662.0,476.2 664.0,477.7 666.0,479.0 668.0,479.9 670.0,480.5 672.0,480.8 674.0,480.9 676.0,481.1 678.0,481.2 680.0,481.4 682.0,481.9 684.0,482.7 686.0,483.9 688.0,485.5 690.0,487.1 692.0,488.6 694.0,490.2 696.0,491.6 698.0,492.8 700.0,493.6 702.0,494.0 704.0,493.9 706.0,493.5 708.0,492.8 710.0,491.8 712.0,490.8 714.0,489.8 716.0,488.8 718.0,488.2 720.0,487.8 722.0,487.8 724.0,488.1 726.0,488.7 728.0,489.8 730.0,491.3 732.0,492.9 734.0,494.5 736.0,496.0 738.0,497.6 740.0,499.0 742.0,500.5 744.0,502.0 746.0,503.4 748.0,504.9 750.0,506.4 752.0,507.9 754.0,509.4 756.0,511.0 758.0,512.6 760.0,514.2 762.0,515.5 764.0,516.4 766.0,516.8 768.0,516.7 770.0,516.5 772.0,516.3 774.0,516.2 776.0,516.3 778.0,516.6 780.0,517.0 782.0,517.5 784.0,518.0 786.0,518.6 788.0,519.3 790.0,520.1 792.0,521.0 794.0,521.8 796.0,522.6 798.0,523.4 800.0,524.3 802.0,525.4 804.0,526.5 806.0,527.6 808.0,528.7 810.0,529.9 812.0,531.0 814.0,532.1 816.0,533.3 818.0,534.6 820.0,535.9 822.0,537.2 824.0,538.6 826.0,539.9 828.0,541.2 830.0,542.5 832.0,543.6 834.0,544.4 836.0,545.0 838.0,545.5 840.0,546.0 842.0,546.5 844.0,547.2 846.0,548.0 848.0,549.1 850.0,550.4 852.0,551.7 854.0,553.0 856.0,554.3 858.0,555.6 860.0,556.9 862.0,558.3 864.0,559.7 866.0,561.1 868.0,562.5 870.0,563.9 872.0,565.4 874.0,566.7 876.0,567.9 878.0,569.0 880.0,569.9 882.0,570.9 884.0,571.8 886.0,572.8 888.0,573.7 890.0,574.9 892.0,576.4 894.0,578.2 896.0,580.3 898.0,582.5 900.0,584.7 902.0,586.8 904.0,588.8 906.0,590.7 908.0,592.5 910.0,594.2 912.0,595.8 914.0,597.1 916.0,598.2 918.0,599.1 920.0,600.0 922.0,601.0 924.0,601.9 926.0,602.8 928.0,603.8 930.0,604.8 932.0,605.8 934.0,606.6 936.0,607.1 938.0,607.2 940.0,607.2 942.0,607.0 944.0,606.8 946.0,606.7 948.0,606.7 950.0,606.7 952.0,606.9 954.0,607.1 956.0,607.4 958.0,607.6 960.0,608.0 962.0,608.5 964.0,609.0 966.0,609.7 968.0,610.3 970.0,610.9 972.0,611.5 974.0,612.1 976.0,612.4 978.0,612.7 980.0,612.9 982.0,613.0 984.0,613.2 986.0,613.4 988.0,613.9 990.0,614.6 992.0,615.5 994.0,616.5 996.0,617.6 998.0,618.6 1000.0,619.6 1002.0,620.3 1004.0,620.6 1006.0,620.6 1008.0,620.3 1010.0,620.0 1012.0,619.7 1014.0,619.4 1016.0,619.1 1018.0,618.8 1020.0,618.6 1022.0,618.6 1024.0,618.7 1026.0,618.8 1028.0,619.0 1030.0,619.1 1032.0,619.3 1034.0,619.4 1036.0,619.6 1038.0,619.7 1040.0,619.9 1042.0,620.3 1044.0,620.8 1046.0,621.4 1048.0,622.0 1050.0,622.6 1052.0,623.3 1054.0,623.9 1056.0,624.7 1058.0,625.6 1060.0,626.7 1062.0,628.1 1064.0,629.8 1066.0,631.7 1068.0,633.9 1070.0,636.1 1072.0,638.3 1074.0,640.5 1076.0,642.7 1078.0,644.5 1080.0,646.0 1082.0,647.1 1084.0,648.1 1086.0,649.1 1088.0,650.0 1090.0,650.8 1092.0,651.4 1094.0,652.0 1096.0,652.5 1098.0,653.0 1100.0,653.6 1102.0,654.1 1104.0,654.7 1106.0,655.3 1108.0,655.9 1110.0,656.6 1112.0,657.3 1114.0,658.2 1116.0,659.3 1118.0,660.6 1120.0,661.9 1122.0,663.0 1124.0,663.9 1126.0,664.8 1128.0,665.7 1130.0,666.5 1132.0,667.4 1134.0,668.2 1136.0,669.2 1138.0,670.4 1140.0,671.9 1142.0,673.8 1144.0,675.8 1146.0,677.8 1148.0,679.9 1150.0,682.0 1152.0,684.2 1154.0,686.4 1156.0,688.5 1158.0,690.7 1160.0,692.5 1162.0,693.9 1164.0,695.0 1166.0,695.8 1168.0,696.6 1170.0,697.3 1172.0,698.1 1174.0,698.9 1176.0,699.7 1178.0,700.4 1180.0,701.1 1182.0,701.7 1184.0,702.3 1186.0,702.8 1188.0,703.3 1190.0,703.8 1192.0,704.3 1194.0,704.7 1196.0,705.0 1198.0,705.2 1200.0,705.3 1202.0,705.3 1204.0,705.4 1206.0,705.5 1208.0,705.8 1210.0,706.6 1212.0,707.6 1214.0,709.0 1216.0,710.5 1218.0,712.1 1220.0,713.8 1222.0,715.5 1224.0,717.2 1226.0,718.9 1228.0,720.7 1230.0,722.4 1232.0,723.7 1234.0,724.8 1236.0,725.4 1238.0,725.8 1240.0,726.1 1242.0,726.5 1244.0,726.6 1246.0,726.5 1248.0,726.0 1250.0,725.1 1252.0,724.2 1254.0,723.3 1256.0,722.3 1258.0,721.4 1260.0,720.7 1262.0,720.5 1264.0,720.8 1266.0,721.6 1268.0,722.6 1270.0,723.7 1272.0,724.9 1274.0,726.3 1276.0,727.8 1278.0,729.2 1280.0,730.4 1282.0,731.5 1284.0,732.4 1286.0,733.1 1288.0,733.9 1290.0,734.6 1292.0,735.4 1294.0,736.1 1296.0,736.9 1298.0,738.0 1300.0,739.4 1302.0,741.0 1304.0,742.6 1306.0,744.3 1308.0,746.0 1310.0,747.7 1312.0,749.4 1314.0,751.0 1316.0,752.6 1318.0,753.9 1320.0,755.1 1322.0,756.1 1324.0,757.1 1326.0,758.1 1328.0,759.1 1330.0,760.3 1332.0,761.5 1334.0,762.9 1336.0,764.3 1338.0,765.8 1340.0,767.2 1342.0,768.6 1344.0,769.9 1346.0,770.8 1348.0,771.4 1350.0,771.7 1352.0,772.0 1354.0,772.3 1356.0,772.6 1358.0,772.9 1360.0,773.2 1362.0,773.5 1364.0,773.8 1366.0,773.8 1368.0,773.7 1370.0,773.3 1372.0,772.7 1374.0,772.1 1376.0,771.6 1378.0,771.0 1380.0,770.7 1382.0,771.0 1384.0,771.9 1386.0,773.4 1388.0,775.4 1390.0,777.5 1392.0,779.9 1394.0,782.4 1396.0,784.9 1398.0,787.4 1400.0,789.9 1402.0,792.4 1404.0,794.6 1406.0,796.0 1408.0,796.8 1410.0,797.1 1412.0,797.2 1414.0,797.3 1416.0,797.4 1418.0,797.6 1420.0,797.7 1422.0,797.7" fill="none" stroke="#1E90FF" stroke-width="4" stroke-linejoin="round"/></g>
<path d="M388.2 304.8L406.2 336.0L370.2 336.0Z" fill="none" stroke="#F00" stroke-width="4" stroke-linejoin="miter"/>
<text x="388.2" y="228.6" font-size="25" font-weight="bold" text-anchor="middle" fill="#F00">-214.0</text>
<path d="M549.7 395.6L567.7 426.7L531.7 426.7Z" fill="none" stroke="#F00" stroke-width="4" stroke-linejoin="miter"/>
<text x="549.7" y="319.3" font-size="25" font-weight="bold" text-anchor="middle" fill="#F00">-229.9</text>
<path d="M711.2 469.8L729.2 500.9L693.2 500.9Z" fill="none" stroke="#F00" stroke-width="4" stroke-linejoin="miter"/>
<text x="711.2" y="393.6" font-size="25" font-weight="bold" text-anchor="middle" fill="#F00">-242.9</text>
<path d="M872.8 546.3L890.8 577.4L854.8 577.4Z" fill="none" stroke="#F00" stroke-width="4" stroke-linejoin="miter"/>
<text x="872.8" y="470.0" font-size="25" font-weight="bold" text-anchor="middle" fill="#F00">-256.3</text>
<path d="M1034.3 599.9L1052.3 631.1L1016.3 631.1Z" fill="none" stroke="#F00" stroke-width="4" stroke-linejoin="miter"/>
<text x="1034.3" y="523.7" font-size="25" font-weight="bold" text-anchor="middle" fill="#F00">-265.7</text>
<path d="M1195.8 685.0L1213.8 716.2L1177.8 716.2Z" fill="none" stroke="#F00" stroke-width="4" stroke-linejoin="miter"/>
<text x="1195.8" y="608.8" font-size="25" font-weight="bold" text-anchor="middle" fill="#F00">-280.6</text>
<path d="M1357.4 753.5L1375.4 784.7L1339.4 784.7Z" fill="none" stroke="#F00" stroke-width="4" stroke-linejoin="miter"/>
<text x="1357.4" y="677.3" font-size="25" font-weight="bold" text-anchor="middle" fill="#F00">-292.6</text>
<text x="194" y="809" font-size="30.2" font-weight="bold" text-anchor="start" fill="#000">GAL.GPI/Tai2510__AZ01-PT13/101-005#_&#160;&#160;3554/1_AV/L2U__CLB__________</text>
<rect x="162" y="953" width="1261" height="1" fill="#000"/>
<rect x="162" y="1403" width="1261" height="1" fill="#000"/>
<rect x="162" y="953" width="1" height="451" fill="#000"/>
<rect x="1422" y="953" width="1" height="451" fill="#000"/>
<rect x="258" y="939" width="2" height="15" fill="#000"/>
<rect x="258" y="1403" width="2" height="14" fill="#000"/>
<rect x="420" y="939" width="2" height="15" fill="#000"/>
<rect x="420" y="1403" width="2" height="14" fill="#000"/>
<rect x="582" y="939" width="2" height="15" fill="#000"/>
<rect x="582" y="1403" width="2" height="14" fill="#000"/>
<rect x="743" y="939" width="2" height="15" fill="#000"/>
<rect x="743" y="1403" width="2" height="14" fill="#000"/>
<rect x="905" y="939" width="2" height="15" fill="#000"/>
<rect x="905" y="1403" width="2" height="14" fill="#000"/>
<rect x="1066" y="939" width="2" height="15" fill="#000"/>
<rect x="1066" y="1403" width="2" height="14" fill="#000"/>
<rect x="1228" y="939" width="2" height="15" fill="#000"/>
<rect x="1228" y="1403" width="2" height="14" fill="#000"/>
<rect x="1389" y="939" width="2" height="15" fill="#000"/>
<rect x="1389" y="1403" width="2" height="14" fill="#000"/>
<rect x="162" y="946" width="2" height="8" fill="#000"/>
<rect x="162" y="1403" width="2" height="7" fill="#000"/>
<rect x="194" y="946" width="2" height="8" fill="#000"/>
<rect x="194" y="1403" width="2" height="7" fill="#000"/>
<rect x="226" y="946" width="2" height="8" fill="#000"/>
<rect x="226" y="1403" width="2" height="7" fill="#000"/>
<rect x="291" y="946" width="2" height="8" fill="#000"/>
<rect x="291" y="1403" width="2" height="7" fill="#000"/>
<rect x="323" y="946" width="2" height="8" fill="#000"/>
<rect x="323" y="1403" width="2" height="7" fill="#000"/>
<rect x="355" y="946" width="2" height="8" fill="#000"/>
<rect x="355" y="1403" width="2" height="7" fill="#000"/>
<rect x="388" y="946" width="2" height="8" fill="#000"/>
<rect x="388" y="1403" width="2" height="7" fill="#000"/>
<rect x="452" y="946" width="2" height="8" fill="#000"/>
<rect x="452" y="1403" width="2" height="7" fill="#000"/>
<rect x="485" y="946" width="2" height="8" fill="#000"/>
<rect x="485" y="1403" width="2" height="7" fill="#000"/>
<rect x="517" y="946" width="2" height="8" fill="#000"/>
<rect x="517" y="1403" width="2" height="7" fill="#000"/>
<rect x="549" y="946" width="2" height="8" fill="#000"/>
<rect x="549" y="1403" width="2" height="7" fill="#000"/>
<rect x="614" y="946" width="2" height="8" fill="#000"/>
<rect x="614" y="1403" width="2" height="7" fill="#000"/>
<rect x="646" y="946" width="2" height="8" fill="#000"/>
<rect x="646" y="1403" width="2" height="7" fill="#000"/>
<rect x="678" y="946" width="2" height="8" fill="#000"/>
<rect x="678" y="1403" width="2" height="7" fill="#000"/>
<rect x="711" y="946" width="2" height="8" fill="#000"/>
<rect x="711" y="1403" width="2" height="7" fill="#000"/>
<rect x="775" y="946" width="2" height="8" fill="#000"/>
<rect x="775" y="1403" width="2" height="7" fill="#000"/>
<rect x="808" y="946" width="2" height="8" fill="#000"/>
<rect x="808" y="1403" width="2" height="7" fill="#000"/>
<rect x="840" y="946" width="2" height="8" fill="#000"/>
<rect x="840" y="1403" width="2" height="7" fill="#000"/>
<rect x="872" y="946" width="2" height="8" fill="#000"/>
<rect x="872" y="1403" width="2" height="7" fill="#000"/>
<rect x="937" y="946" width="2" height="8" fill="#000"/>
<rect x="937" y="1403" width="2" height="7" fill="#000"/>
<rect x="969" y="946" width="2" height="8" fill="#000"/>
<rect x="969" y="1403" width="2" height="7" fill="#000"/>
<rect x="1002" y="946" width="2" height="8" fill="#000"/>
<rect x="1002" y="1403" width="2" height="7" fill="#000"/>
<rect x="1034" y="946" width="2" height="8" fill="#000"/>
<rect x="1034" y="1403" width="2" height="7" fill="#000"/>
<rect x="1098" y="946" width="2" height="8" fill="#000"/>
<rect x="1098" y="1403" width="2" height="7" fill="#000"/>
<rect x="1131" y="946" width="2" height="8" fill="#000"/>
<rect x="1131" y="1403" width="2" height="7" fill="#000"/>
<rect x="1163" y="946" width="2" height="8" fill="#000"/>
<rect x="1163" y="1403" width="2" height="7" fill="#000"/>
<rect x="1195" y="946" width="2" height="8" fill="#000"/>
<rect x="1195" y="1403" width="2" height="7" fill="#000"/>
<rect x="1260" y="946" width="2" height="8" fill="#000"/>
<rect x="1260" y="1403" width="2" height="7" fill="#000"/>
<rect x="1292" y="946" width="2" height="8" fill="#000"/>
<rect x="1292" y="1403" width="2" height="7" fill="#000"/>
<rect x="1325" y="946" width="2" height="8" fill="#000"/>
<rect x="1325" y="1403" width="2" height="7" fill="#000"/>
<rect x="1357" y="946" width="2" height="8" fill="#000"/>
<rect x="1357" y="1403" width="2" height="7" fill="#000"/>
<rect x="1422" y="946" width="2" height="8" fill="#000"/>
<rect x="1422" y="1403" width="2" height="7" fill="#000"/>
<rect x="148" y="1357" width="15" height="2" fill="#000"/>
<rect x="1421" y="1357" width="15" height="2" fill="#000"/>
<rect x="148" y="1312" width="15" height="2" fill="#000"/>
<rect x="1421" y="1312" width="15" height="2" fill="#000"/>
<rect x="148" y="1266" width="15" height="2" fill="#000"/>
<rect x="1421" y="1266" width="15" height="2" fill="#000"/>
<rect x="148" y="1221" width="15" height="2" fill="#000"/>
<rect x="1421" y="1221" width="15" height="2" fill="#000"/>
<rect x="148" y="1176" width="15" height="2" fill="#000"/>
<rect x="1421" y="1176" width="15" height="2" fill="#000"/>
<rect x="148" y="1131" width="15" height="2" fill="#000"/>
<rect x="1421" y="1131" width="15" height="2" fill="#000"/>
<rect x="148" y="1086" width="15" height="2" fill="#000"/>
<rect x="1421" y="1086" width="15" height="2" fill="#000"/>
<rect x="148" y="1040" width="15" height="2" fill="#000"/>
<rect x="1421" y="1040" width="15" height="2" fill="#000"/>
<rect x="148" y="995" width="15" height="2" fill="#000"/>
<rect x="1421" y="995" width="15" height="2" fill="#000"/>
<text x="136" y="1370.5" font-size="30" text-anchor="end" fill="#000" transform="matrix(1 0 0 1.08 0 -109.64)"><tspan dy="3">−</tspan><tspan dy="-3">2.0</tspan></text>
<text x="136" y="1325.25" font-size="30" text-anchor="end" fill="#000" transform="matrix(1 0 0 1.08 0 -106.02)"><tspan dy="3">−</tspan><tspan dy="-3">1.5</tspan></text>
<text x="136" y="1280.0" font-size="30" text-anchor="end" fill="#000" transform="matrix(1 0 0 1.08 0 -102.40)"><tspan dy="3">−</tspan><tspan dy="-3">1.0</tspan></text>
<text x="136" y="1234.75" font-size="30" text-anchor="end" fill="#000" transform="matrix(1 0 0 1.08 0 -98.78)"><tspan dy="3">−</tspan><tspan dy="-3">0.5</tspan></text>
<text x="136" y="1189.5" font-size="30" text-anchor="end" fill="#000" transform="matrix(1 0 0 1.08 0 -95.16)">0.0</text>
<text x="136" y="1144.25" font-size="30" text-anchor="end" fill="#000" transform="matrix(1 0 0 1.08 0 -91.54)">0.5</text>
<text x="136" y="1099.0" font-size="30" text-anchor="end" fill="#000" transform="matrix(1 0 0 1.08 0 -87.92)">1.0</text>
<text x="136" y="1053.75" font-size="30" text-anchor="end" fill="#000" transform="matrix(1 0 0 1.08 0 -84.30)">1.5</text>
<text x="136" y="1008.5" font-size="30" text-anchor="end" fill="#000" transform="matrix(1 0 0 1.08 0 -80.68)">2.0</text>
<text x="258.9230769230769" y="1452" font-size="30" text-anchor="middle" fill="#000" transform="matrix(1 0 0 1.08 0 -116.16)">60945</text>
<text x="420.46153846153845" y="1452" font-size="30" text-anchor="middle" fill="#000" transform="matrix(1 0 0 1.08 0 -116.16)">60950</text>
<text x="582.0" y="1452" font-size="30" text-anchor="middle" fill="#000" transform="matrix(1 0 0 1.08 0 -116.16)">60955</text>
<text x="743.5384615384615" y="1452" font-size="30" text-anchor="middle" fill="#000" transform="matrix(1 0 0 1.08 0 -116.16)">60960</text>
<text x="905.0769230769231" y="1452" font-size="30" text-anchor="middle" fill="#000" transform="matrix(1 0 0 1.08 0 -116.16)">60965</text>
<text x="1066.6153846153845" y="1452" font-size="30" text-anchor="middle" fill="#000" transform="matrix(1 0 0 1.08 0 -116.16)">60970</text>
<text x="1228.1538461538462" y="1452" font-size="30" text-anchor="middle" fill="#000" transform="matrix(1 0 0 1.08 0 -116.16)">60975</text>
<text x="1389.6923076923076" y="1452" font-size="30" text-anchor="middle" fill="#000" transform="matrix(1 0 0 1.08 0 -116.16)">60980</text>
<text x="792.0" y="1480" font-size="30" font-weight="bold" text-anchor="middle" fill="#000">Modified Julian Date</text>
<text x="68" y="1177" font-size="30" font-weight="bold" text-anchor="middle" fill="#000" transform="rotate(-90 68 1177)">residuals (ns)</text>
<path d="M159 1102l6 6m0-6l-6 6M160 1162l6 6m0-6l-6 6M160 1218l6 6m0-6l-6 6M159 1194l6 6m0-6l-6 6M160 1201l6 6m0-6l-6 6M160 1172l6 6m0-6l-6 6M159 1170l6 6m0-6l-6 6M160 1088l6 6m0-6l-6 6M160 1119l6 6m0-6l-6 6M160 1164l6 6m0-6l-6 6M163 1191l6 6m0-6l-6 6M163 1351l6 6m0-6l-6 6M162 1331l6 6m0-6l-6 6M162 1253l6 6m0-6l-6 6M162 1302l6 6m0-6l-6 6M162 1204l6 6m0-6l-6 6M165 1160l6 6m0-6l-6 6M165 1091l6 6m0-6l-6 6M165 1162l6 6m0-6l-6 6M165 1101l6 6m0-6l-6 6M165 1190l6 6m0-6l-6 6M165 1139l6 6m0-6l-6 6M166 1217l6 6m0-6l-6 6M165 1190l6 6m0-6l-6 6M165 1151l6 6m0-6l-6 6M167 1226l6 6m0-6l-6 6M167 1219l6 6m0-6l-6 6M167 1279l6 6m0-6l-6 6M167 1138l6 6m0-6l-6 6M166 1132l6 6m0-6l-6 6M167 1177l6 6m0-6l-6 6M167 1209l6 6m0-6l-6 6M166 1198l6 6m0-6l-6 6M166 1171l6 6m0-6l-6 6M170 1249l6 6m0-6l-6 6M169 1326l6 6m0-6l-6 6M169 1219l6 6m0-6l-6 6M170 1319l6 6m0-6l-6 6M170 1285l6 6m0-6l-6 6M169 1203l6 6m0-6l-6 6M170 1304l6 6m0-6l-6 6M172 1303l6 6m0-6l-6 6M172 1199l6 6m0-6l-6 6M171 1284l6 6m0-6l-6 6M173 1156l6 6m0-6l-6 6M173 1059l6 6m0-6l-6 6M173 1192l6 6m0-6l-6 6M173 1139l6 6m0-6l-6 6M173 1170l6 6m0-6l-6 6M176 1247l6 6m0-6l-6 6M176 1226l6 6m0-6l-6 6M176 1198l6 6m0-6l-6 6M179 1254l6 6m0-6l-6 6M179 1258l6 6m0-6l-6 6M179 1221l6 6m0-6l-6 6M179 1242l6 6m0-6l-6 6M180 1300l6 6m0-6l-6 6M179 1190l6 6m0-6l-6 6M181 1270l6 6m0-6l-6 6M181 1175l6 6m0-6l-6 6M181 1171l6 6m0-6l-6 6M181 1174l6 6m0-6l-6 6M181 1313l6 6m0-6l-6 6M181 1162l6 6m0-6l-6 6M181 1289l6 6m0-6l-6 6M183 1254l6 6m0-6l-6 6M183 1200l6 6m0-6l-6 6M182 1141l6 6m0-6l-6 6M183 1125l6 6m0-6l-6 6M182 1265l6 6m0-6l-6 6M182 1129l6 6m0-6l-6 6M182 1224l6 6m0-6l-6 6M182 1088l6 6m0-6l-6 6M185 1139l6 6m0-6l-6 6M186 1117l6 6m0-6l-6 6M186 1140l6 6m0-6l-6 6M186 1138l6 6m0-6l-6 6M186 1120l6 6m0-6l-6 6M185 1088l6 6m0-6l-6 6M185 1199l6 6m0-6l-6 6M185 1170l6 6m0-6l-6 6M186 1134l6 6m0-6l-6 6M188 1186l6 6m0-6l-6 6M188 1175l6 6m0-6l-6 6M188 1196l6 6m0-6l-6 6M188 1264l6 6m0-6l-6 6M188 1172l6 6m0-6l-6 6M188 1262l6 6m0-6l-6 6M188 1218l6 6m0-6l-6 6M190 1193l6 6m0-6l-6 6M190 1261l6 6m0-6l-6 6M190 1236l6 6m0-6l-6 6M190 1272l6 6m0-6l-6 6M193 1201l6 6m0-6l-6 6M194 1141l6 6m0-6l-6 6M193 1141l6 6m0-6l-6 6M194 1111l6 6m0-6l-6 6M193 1179l6 6m0-6l-6 6M193 1219l6 6m0-6l-6 6M195 1135l6 6m0-6l-6 6M196 1196l6 6m0-6l-6 6M196 1165l6 6m0-6l-6 6M196 1153l6 6m0-6l-6 6M195 1291l6 6m0-6l-6 6M195 1131l6 6m0-6l-6 6M195 1165l6 6m0-6l-6 6M198 1203l6 6m0-6l-6 6M198 1163l6 6m0-6l-6 6M198 1232l6 6m0-6l-6 6M198 1164l6 6m0-6l-6 6M201 1216l6 6m0-6l-6 6M201 1193l6 6m0-6l-6 6M201 1186l6 6m0-6l-6 6M201 1251l6 6m0-6l-6 6M204 1115l6 6m0-6l-6 6M203 1162l6 6m0-6l-6 6M203 1216l6 6m0-6l-6 6M203 1247l6 6m0-6l-6 6M204 1168l6 6m0-6l-6 6M205 1178l6 6m0-6l-6 6M206 1204l6 6m0-6l-6 6M206 1243l6 6m0-6l-6 6M205 1233l6 6m0-6l-6 6M206 1277l6 6m0-6l-6 6M205 1227l6 6m0-6l-6 6M206 1240l6 6m0-6l-6 6M207 1186l6 6m0-6l-6 6M207 1195l6 6m0-6l-6 6M208 1228l6 6m0-6l-6 6M207 1262l6 6m0-6l-6 6M207 1228l6 6m0-6l-6 6M208 1193l6 6m0-6l-6 6M207 1145l6 6m0-6l-6 6M207 1223l6 6m0-6l-6 6M207 1185l6 6m0-6l-6 6M210 1117l6 6m0-6l-6 6M211 1093l6 6m0-6l-6 6M210 1156l6 6m0-6l-6 6M211 1168l6 6m0-6l-6 6M211 1173l6 6m0-6l-6 6M211 1186l6 6m0-6l-6 6M211 1152l6 6m0-6l-6 6M213 1254l6 6m0-6l-6 6M213 1260l6 6m0-6l-6 6M213 1236l6 6m0-6l-6 6M213 1215l6 6m0-6l-6 6M212 1240l6 6m0-6l-6 6M213 1151l6 6m0-6l-6 6M212 1193l6 6m0-6l-6 6M212 1214l6 6m0-6l-6 6M215 1130l6 6m0-6l-6 6M215 1072l6 6m0-6l-6 6M215 1144l6 6m0-6l-6 6M214 1164l6 6m0-6l-6 6M214 1136l6 6m0-6l-6 6M214 1153l6 6m0-6l-6 6M215 1227l6 6m0-6l-6 6M214 1142l6 6m0-6l-6 6M218 1147l6 6m0-6l-6 6M218 1191l6 6m0-6l-6 6M218 1245l6 6m0-6l-6 6M219 1191l6 6m0-6l-6 6M218 1191l6 6m0-6l-6 6M218 1329l6 6m0-6l-6 6M218 1126l6 6m0-6l-6 6M219 1135l6 6m0-6l-6 6M218 1241l6 6m0-6l-6 6M219 1253l6 6m0-6l-6 6M222 1288l6 6m0-6l-6 6M221 1173l6 6m0-6l-6 6M222 1197l6 6m0-6l-6 6M222 1263l6 6m0-6l-6 6M224 1266l6 6m0-6l-6 6M224 1271l6 6m0-6l-6 6M225 1283l6 6m0-6l-6 6M225 1163l6 6m0-6l-6 6M224 1253l6 6m0-6l-6 6M224 1211l6 6m0-6l-6 6M224 1209l6 6m0-6l-6 6M227 1121l6 6m0-6l-6 6M226 1127l6 6m0-6l-6 6M227 1106l6 6m0-6l-6 6M227 1154l6 6m0-6l-6 6M227 1205l6 6m0-6l-6 6M226 1146l6 6m0-6l-6 6M230 1218l6 6m0-6l-6 6M230 1131l6 6m0-6l-6 6M230 1102l6 6m0-6l-6 6M229 1090l6 6m0-6l-6 6M230 1128l6 6m0-6l-6 6M230 1170l6 6m0-6l-6 6M229 1182l6 6m0-6l-6 6M229 1107l6 6m0-6l-6 6M230 1158l6 6m0-6l-6 6M234 1222l6 6m0-6l-6 6M233 1223l6 6m0-6l-6 6M233 1156l6 6m0-6l-6 6M234 1291l6 6m0-6l-6 6M233 1246l6 6m0-6l-6 6M235 1145l6 6m0-6l-6 6M235 1081l6 6m0-6l-6 6M235 1085l6 6m0-6l-6 6M236 1164l6 6m0-6l-6 6M235 1117l6 6m0-6l-6 6M238 1295l6 6m0-6l-6 6M239 1163l6 6m0-6l-6 6M238 1282l6 6m0-6l-6 6M238 1243l6 6m0-6l-6 6M238 1252l6 6m0-6l-6 6M238 1199l6 6m0-6l-6 6M238 1301l6 6m0-6l-6 6M238 1238l6 6m0-6l-6 6M238 1296l6 6m0-6l-6 6M242 1181l6 6m0-6l-6 6M241 1110l6 6m0-6l-6 6M241 1098l6 6m0-6l-6 6M242 1252l6 6m0-6l-6 6M242 1200l6 6m0-6l-6 6M241 1133l6 6m0-6l-6 6M242 1197l6 6m0-6l-6 6M242 1051l6 6m0-6l-6 6M241 1162l6 6m0-6l-6 6M241 1130l6 6m0-6l-6 6M244 1151l6 6m0-6l-6 6M245 1271l6 6m0-6l-6 6M244 1295l6 6m0-6l-6 6M245 1275l6 6m0-6l-6 6M245 1270l6 6m0-6l-6 6M244 1270l6 6m0-6l-6 6M245 1206l6 6m0-6l-6 6M245 1257l6 6m0-6l-6 6M245 1237l6 6m0-6l-6 6M245 1203l6 6m0-6l-6 6M247 1199l6 6m0-6l-6 6M248 1185l6 6m0-6l-6 6M247 1159l6 6m0-6l-6 6M249 1228l6 6m0-6l-6 6M250 1123l6 6m0-6l-6 6M249 1224l6 6m0-6l-6 6M249 1196l6 6m0-6l-6 6M249 1140l6 6m0-6l-6 6M249 1167l6 6m0-6l-6 6M249 1184l6 6m0-6l-6 6M250 1174l6 6m0-6l-6 6M252 1138l6 6m0-6l-6 6M252 1078l6 6m0-6l-6 6M252 1080l6 6m0-6l-6 6M253 1025l6 6m0-6l-6 6M252 1116l6 6m0-6l-6 6M252 1150l6 6m0-6l-6 6M255 1269l6 6m0-6l-6 6M256 1071l6 6m0-6l-6 6M255 1165l6 6m0-6l-6 6M255 1239l6 6m0-6l-6 6M256 1204l6 6m0-6l-6 6M255 1134l6 6m0-6l-6 6M255 1180l6 6m0-6l-6 6M255 1086l6 6m0-6l-6 6M258 1307l6 6m0-6l-6 6M258 1242l6 6m0-6l-6 6M258 1218l6 6m0-6l-6 6M258 1291l6 6m0-6l-6 6M258 1200l6 6m0-6l-6 6M258 1129l6 6m0-6l-6 6M261 1215l6 6m0-6l-6 6M261 1153l6 6m0-6l-6 6M261 1140l6 6m0-6l-6 6M261 1156l6 6m0-6l-6 6M261 1215l6 6m0-6l-6 6M260 1210l6 6m0-6l-6 6M263 1240l6 6m0-6l-6 6M263 1186l6 6m0-6l-6 6M263 1244l6 6m0-6l-6 6M263 1186l6 6m0-6l-6 6M263 1229l6 6m0-6l-6 6M263 1212l6 6m0-6l-6 6M266 1144l6 6m0-6l-6 6M266 1282l6 6m0-6l-6 6M266 1167l6 6m0-6l-6 6M266 1207l6 6m0-6l-6 6M266 1185l6 6m0-6l-6 6M265 1155l6 6m0-6l-6 6M266 1172l6 6m0-6l-6 6M268 1223l6 6m0-6l-6 6M267 1205l6 6m0-6l-6 6M267 1207l6 6m0-6l-6 6M267 1235l6 6m0-6l-6 6M268 1118l6 6m0-6l-6 6M268 1156l6 6m0-6l-6 6M268 1146l6 6m0-6l-6 6M268 1157l6 6m0-6l-6 6M269 1237l6 6m0-6l-6 6M270 1196l6 6m0-6l-6 6M269 1156l6 6m0-6l-6 6M269 1222l6 6m0-6l-6 6M268 1226l6 6m0-6l-6 6M269 1259l6 6m0-6l-6 6M271 1189l6 6m0-6l-6 6M271 1242l6 6m0-6l-6 6M271 1269l6 6m0-6l-6 6M273 1175l6 6m0-6l-6 6M272 1185l6 6m0-6l-6 6M273 1150l6 6m0-6l-6 6M273 1162l6 6m0-6l-6 6M276 1166l6 6m0-6l-6 6M276 1173l6 6m0-6l-6 6M276 1103l6 6m0-6l-6 6M278 1138l6 6m0-6l-6 6M278 1129l6 6m0-6l-6 6M278 1183l6 6m0-6l-6 6M279 1171l6 6m0-6l-6 6M279 1252l6 6m0-6l-6 6M280 1124l6 6m0-6l-6 6M279 1073l6 6m0-6l-6 6M280 1072l6 6m0-6l-6 6M284 1220l6 6m0-6l-6 6M283 1275l6 6m0-6l-6 6M284 1171l6 6m0-6l-6 6M283 1121l6 6m0-6l-6 6M284 1182l6 6m0-6l-6 6M284 1194l6 6m0-6l-6 6M285 1214l6 6m0-6l-6 6M285 1152l6 6m0-6l-6 6M285 1176l6 6m0-6l-6 6M285 1183l6 6m0-6l-6 6M285 1209l6 6m0-6l-6 6M286 1164l6 6m0-6l-6 6M285 1164l6 6m0-6l-6 6M289 1163l6 6m0-6l-6 6M289 1115l6 6m0-6l-6 6M289 1204l6 6m0-6l-6 6M289 1120l6 6m0-6l-6 6M288 1206l6 6m0-6l-6 6M289 1193l6 6m0-6l-6 6M289 1136l6 6m0-6l-6 6M289 1157l6 6m0-6l-6 6M289 1182l6 6m0-6l-6 6M291 1074l6 6m0-6l-6 6M291 1113l6 6m0-6l-6 6M291 1169l6 6m0-6l-6 6M292 1239l6 6m0-6l-6 6M292 1187l6 6m0-6l-6 6M292 1163l6 6m0-6l-6 6M293 1179l6 6m0-6l-6 6M293 1166l6 6m0-6l-6 6M293 1177l6 6m0-6l-6 6M292 1190l6 6m0-6l-6 6M293 1114l6 6m0-6l-6 6M295 1227l6 6m0-6l-6 6M296 1280l6 6m0-6l-6 6M295 1229l6 6m0-6l-6 6M296 1236l6 6m0-6l-6 6M295 1251l6 6m0-6l-6 6M295 1209l6 6m0-6l-6 6M296 1185l6 6m0-6l-6 6M295 1225l6 6m0-6l-6 6M296 1203l6 6m0-6l-6 6M299 1178l6 6m0-6l-6 6M298 1192l6 6m0-6l-6 6M298 1138l6 6m0-6l-6 6M301 1206l6 6m0-6l-6 6M301 1198l6 6m0-6l-6 6M301 1205l6 6m0-6l-6 6M300 1330l6 6m0-6l-6 6M300 1202l6 6m0-6l-6 6M300 1138l6 6m0-6l-6 6M301 1215l6 6m0-6l-6 6M300 1187l6 6m0-6l-6 6M300 1126l6 6m0-6l-6 6M304 1159l6 6m0-6l-6 6M304 1097l6 6m0-6l-6 6M304 1160l6 6m0-6l-6 6M303 1201l6 6m0-6l-6 6M304 1057l6 6m0-6l-6 6M304 1150l6 6m0-6l-6 6M304 1080l6 6m0-6l-6 6M304 1208l6 6m0-6l-6 6M304 1171l6 6m0-6l-6 6M307 1149l6 6m0-6l-6 6M307 1180l6 6m0-6l-6 6M307 1212l6 6m0-6l-6 6M307 1121l6 6m0-6l-6 6M307 1074l6 6m0-6l-6 6M307 1174l6 6m0-6l-6 6M307 1203l6 6m0-6l-6 6M307 1135l6 6m0-6l-6 6M307 1161l6 6m0-6l-6 6M309 1079l6 6m0-6l-6 6M309 1131l6 6m0-6l-6 6M309 1127l6 6m0-6l-6 6M309 1154l6 6m0-6l-6 6M309 1094l6 6m0-6l-6 6M310 1151l6 6m0-6l-6 6M309 1118l6 6m0-6l-6 6M309 1143l6 6m0-6l-6 6M311 1198l6 6m0-6l-6 6M311 1246l6 6m0-6l-6 6M312 1239l6 6m0-6l-6 6M312 1200l6 6m0-6l-6 6M311 1174l6 6m0-6l-6 6M311 1257l6 6m0-6l-6 6M311 1207l6 6m0-6l-6 6M311 1210l6 6m0-6l-6 6M314 1118l6 6m0-6l-6 6M314 1092l6 6m0-6l-6 6M314 1159l6 6m0-6l-6 6M315 1158l6 6m0-6l-6 6M314 1154l6 6m0-6l-6 6M314 1201l6 6m0-6l-6 6M315 1165l6 6m0-6l-6 6M314 1124l6 6m0-6l-6 6M314 1129l6 6m0-6l-6 6M315 1163l6 6m0-6l-6 6M316 1200l6 6m0-6l-6 6M316 1145l6 6m0-6l-6 6M316 1196l6 6m0-6l-6 6M316 1261l6 6m0-6l-6 6M317 1161l6 6m0-6l-6 6M318 1225l6 6m0-6l-6 6M318 1177l6 6m0-6l-6 6M320 1144l6 6m0-6l-6 6M321 1151l6 6m0-6l-6 6M321 1057l6 6m0-6l-6 6M321 1148l6 6m0-6l-6 6M321 1168l6 6m0-6l-6 6M321 1114l6 6m0-6l-6 6M324 1278l6 6m0-6l-6 6M324 1220l6 6m0-6l-6 6M324 1282l6 6m0-6l-6 6M324 1323l6 6m0-6l-6 6M327 1183l6 6m0-6l-6 6M327 1172l6 6m0-6l-6 6M327 1154l6 6m0-6l-6 6M326 1094l6 6m0-6l-6 6M326 1159l6 6m0-6l-6 6M327 1094l6 6m0-6l-6 6M326 1179l6 6m0-6l-6 6M327 1084l6 6m0-6l-6 6M326 1170l6 6m0-6l-6 6M327 1189l6 6m0-6l-6 6M329 1104l6 6m0-6l-6 6M328 1210l6 6m0-6l-6 6M329 1152l6 6m0-6l-6 6M329 1202l6 6m0-6l-6 6M328 1154l6 6m0-6l-6 6M329 1164l6 6m0-6l-6 6M329 1157l6 6m0-6l-6 6M329 1197l6 6m0-6l-6 6M331 1196l6 6m0-6l-6 6M331 1193l6 6m0-6l-6 6M330 1206l6 6m0-6l-6 6M331 1146l6 6m0-6l-6 6M331 1151l6 6m0-6l-6 6M331 1154l6 6m0-6l-6 6M331 1133l6 6m0-6l-6 6M333 1022l6 6m0-6l-6 6M334 1197l6 6m0-6l-6 6M333 1107l6 6m0-6l-6 6M334 1254l6 6m0-6l-6 6M333 1279l6 6m0-6l-6 6M333 1219l6 6m0-6l-6 6M334 1213l6 6m0-6l-6 6M334 1195l6 6m0-6l-6 6M336 1186l6 6m0-6l-6 6M337 1205l6 6m0-6l-6 6M336 1173l6 6m0-6l-6 6M336 1200l6 6m0-6l-6 6M336 1157l6 6m0-6l-6 6M337 1196l6 6m0-6l-6 6M337 1198l6 6m0-6l-6 6M338 1200l6 6m0-6l-6 6M338 1244l6 6m0-6l-6 6M338 1200l6 6m0-6l-6 6M338 1202l6 6m0-6l-6 6M338 1101l6 6m0-6l-6 6M337 1134l6 6m0-6l-6 6M337 1138l6 6m0-6l-6 6M339 1128l6 6m0-6l-6 6M338 1216l6 6m0-6l-6 6M342 1059l6 6m0-6l-6 6M341 1129l6 6m0-6l-6 6M341 1155l6 6m0-6l-6 6M341 1101l6 6m0-6l-6 6M341 1230l6 6m0-6l-6 6M341 1155l6 6m0-6l-6 6M341 1115l6 6m0-6l-6 6M344 1166l6 6m0-6l-6 6M344 1168l6 6m0-6l-6 6M344 1217l6 6m0-6l-6 6M344 1218l6 6m0-6l-6 6M343 1131l6 6m0-6l-6 6M343 1183l6 6m0-6l-6 6M343 1184l6 6m0-6l-6 6M343 1193l6 6m0-6l-6 6M347 1186l6 6m0-6l-6 6M347 1249l6 6m0-6l-6 6M347 1244l6 6m0-6l-6 6M348 1232l6 6m0-6l-6 6M347 1227l6 6m0-6l-6 6M350 1220l6 6m0-6l-6 6M351 1147l6 6m0-6l-6 6M351 1098l6 6m0-6l-6 6M353 1105l6 6m0-6l-6 6M353 1098l6 6m0-6l-6 6M353 1092l6 6m0-6l-6 6M353 1186l6 6m0-6l-6 6M353 1157l6 6m0-6l-6 6M354 1152l6 6m0-6l-6 6M354 1127l6 6m0-6l-6 6M353 1080l6 6m0-6l-6 6M354 1165l6 6m0-6l-6 6M353 1157l6 6m0-6l-6 6M356 1185l6 6m0-6l-6 6M356 1203l6 6m0-6l-6 6M355 1165l6 6m0-6l-6 6M356 1191l6 6m0-6l-6 6M356 1135l6 6m0-6l-6 6M355 1174l6 6m0-6l-6 6M356 1163l6 6m0-6l-6 6M357 1189l6 6m0-6l-6 6M358 1098l6 6m0-6l-6 6M357 1169l6 6m0-6l-6 6M357 1188l6 6m0-6l-6 6M357 1106l6 6m0-6l-6 6M357 1144l6 6m0-6l-6 6M357 1152l6 6m0-6l-6 6M357 1135l6 6m0-6l-6 6M357 1103l6 6m0-6l-6 6M358 1199l6 6m0-6l-6 6M359 1193l6 6m0-6l-6 6M359 1181l6 6m0-6l-6 6M359 1203l6 6m0-6l-6 6M358 1260l6 6m0-6l-6 6M359 1234l6 6m0-6l-6 6M359 1168l6 6m0-6l-6 6M358 1228l6 6m0-6l-6 6M359 1162l6 6m0-6l-6 6M359 1187l6 6m0-6l-6 6M359 1159l6 6m0-6l-6 6M360 1148l6 6m0-6l-6 6M362 1104l6 6m0-6l-6 6M361 1158l6 6m0-6l-6 6M361 1142l6 6m0-6l-6 6M364 1057l6 6m0-6l-6 6M364 1092l6 6m0-6l-6 6M364 1116l6 6m0-6l-6 6M364 1123l6 6m0-6l-6 6M364 1113l6 6m0-6l-6 6M364 1154l6 6m0-6l-6 6M366 1145l6 6m0-6l-6 6M366 1211l6 6m0-6l-6 6M365 1240l6 6m0-6l-6 6M366 1179l6 6m0-6l-6 6M366 1186l6 6m0-6l-6 6M367 1153l6 6m0-6l-6 6M366 1217l6 6m0-6l-6 6M369 1124l6 6m0-6l-6 6M369 1123l6 6m0-6l-6 6M369 1088l6 6m0-6l-6 6M369 1160l6 6m0-6l-6 6M372 1250l6 6m0-6l-6 6M372 1147l6 6m0-6l-6 6M372 1213l6 6m0-6l-6 6M372 1171l6 6m0-6l-6 6M371 1259l6 6m0-6l-6 6M374 1222l6 6m0-6l-6 6M374 1146l6 6m0-6l-6 6M374 1140l6 6m0-6l-6 6M374 1072l6 6m0-6l-6 6M374 1162l6 6m0-6l-6 6M375 1199l6 6m0-6l-6 6M377 1173l6 6m0-6l-6 6M378 1206l6 6m0-6l-6 6M377 1138l6 6m0-6l-6 6M377 1170l6 6m0-6l-6 6M377 1136l6 6m0-6l-6 6M378 1105l6 6m0-6l-6 6M380 1181l6 6m0-6l-6 6M380 1180l6 6m0-6l-6 6M381 1262l6 6m0-6l-6 6M381 1224l6 6m0-6l-6 6M383 1190l6 6m0-6l-6 6M383 1081l6 6m0-6l-6 6M383 1146l6 6m0-6l-6 6M385 1110l6 6m0-6l-6 6M386 1074l6 6m0-6l-6 6M386 1149l6 6m0-6l-6 6M386 1197l6 6m0-6l-6 6M386 1169l6 6m0-6l-6 6M386 1097l6 6m0-6l-6 6M386 1118l6 6m0-6l-6 6M386 1138l6 6m0-6l-6 6M386 1075l6 6m0-6l-6 6M386 1135l6 6m0-6l-6 6M389 1250l6 6m0-6l-6 6M389 1183l6 6m0-6l-6 6M389 1208l6 6m0-6l-6 6M389 1260l6 6m0-6l-6 6M390 1250l6 6m0-6l-6 6M389 1181l6 6m0-6l-6 6M389 1209l6 6m0-6l-6 6M389 1229l6 6m0-6l-6 6M390 1206l6 6m0-6l-6 6M392 1223l6 6m0-6l-6 6M391 1210l6 6m0-6l-6 6M392 1162l6 6m0-6l-6 6M392 1133l6 6m0-6l-6 6M392 1149l6 6m0-6l-6 6M392 1158l6 6m0-6l-6 6M392 1141l6 6m0-6l-6 6M392 1190l6 6m0-6l-6 6M395 1248l6 6m0-6l-6 6M395 1231l6 6m0-6l-6 6M395 1196l6 6m0-6l-6 6M395 1283l6 6m0-6l-6 6M396 1271l6 6m0-6l-6 6M397 1223l6 6m0-6l-6 6M398 1243l6 6m0-6l-6 6M398 1202l6 6m0-6l-6 6M398 1214l6 6m0-6l-6 6M397 1227l6 6m0-6l-6 6M397 1271l6 6m0-6l-6 6M400 1159l6 6m0-6l-6 6M400 1175l6 6m0-6l-6 6M400 1165l6 6m0-6l-6 6M403 1185l6 6m0-6l-6 6M402 1164l6 6m0-6l-6 6M403 1225l6 6m0-6l-6 6M403 1119l6 6m0-6l-6 6M403 1187l6 6m0-6l-6 6M403 1233l6 6m0-6l-6 6M406 1199l6 6m0-6l-6 6M405 1159l6 6m0-6l-6 6M405 1127l6 6m0-6l-6 6M406 1112l6 6m0-6l-6 6M406 1111l6 6m0-6l-6 6M406 1162l6 6m0-6l-6 6M405 1075l6 6m0-6l-6 6M406 1189l6 6m0-6l-6 6M407 1120l6 6m0-6l-6 6M406 1120l6 6m0-6l-6 6M407 1190l6 6m0-6l-6 6M407 1310l6 6m0-6l-6 6M407 1203l6 6m0-6l-6 6M407 1262l6 6m0-6l-6 6M408 1234l6 6m0-6l-6 6M408 1240l6 6m0-6l-6 6M408 1225l6 6m0-6l-6 6M407 1212l6 6m0-6l-6 6M409 1248l6 6m0-6l-6 6M409 1029l6 6m0-6l-6 6M409 1236l6 6m0-6l-6 6M409 1178l6 6m0-6l-6 6M409 1156l6 6m0-6l-6 6M409 1196l6 6m0-6l-6 6M409 1190l6 6m0-6l-6 6M409 1274l6 6m0-6l-6 6M408 1138l6 6m0-6l-6 6M409 1113l6 6m0-6l-6 6M412 1243l6 6m0-6l-6 6M412 1177l6 6m0-6l-6 6M411 1172l6 6m0-6l-6 6M412 1211l6 6m0-6l-6 6M411 1268l6 6m0-6l-6 6M412 1201l6 6m0-6l-6 6M415 1185l6 6m0-6l-6 6M415 1243l6 6m0-6l-6 6M415 1204l6 6m0-6l-6 6M415 1149l6 6m0-6l-6 6M415 1171l6 6m0-6l-6 6M415 1238l6 6m0-6l-6 6M415 1270l6 6m0-6l-6 6M415 1117l6 6m0-6l-6 6M415 1149l6 6m0-6l-6 6M415 1189l6 6m0-6l-6 6M419 1265l6 6m0-6l-6 6M419 1278l6 6m0-6l-6 6M419 1252l6 6m0-6l-6 6M419 1262l6 6m0-6l-6 6M418 1302l6 6m0-6l-6 6M418 1205l6 6m0-6l-6 6M419 1281l6 6m0-6l-6 6M421 1186l6 6m0-6l-6 6M422 1122l6 6m0-6l-6 6M421 1140l6 6m0-6l-6 6M420 1227l6 6m0-6l-6 6M421 1108l6 6m0-6l-6 6M421 1151l6 6m0-6l-6 6M421 1149l6 6m0-6l-6 6M421 1072l6 6m0-6l-6 6M421 1189l6 6m0-6l-6 6M421 1139l6 6m0-6l-6 6M424 1102l6 6m0-6l-6 6M425 1085l6 6m0-6l-6 6M425 1085l6 6m0-6l-6 6M424 1132l6 6m0-6l-6 6M424 1096l6 6m0-6l-6 6M424 1133l6 6m0-6l-6 6M424 1026l6 6m0-6l-6 6M424 1053l6 6m0-6l-6 6M425 1094l6 6m0-6l-6 6M425 1082l6 6m0-6l-6 6M426 1136l6 6m0-6l-6 6M426 1132l6 6m0-6l-6 6M426 1094l6 6m0-6l-6 6M426 1128l6 6m0-6l-6 6M425 1139l6 6m0-6l-6 6M430 1193l6 6m0-6l-6 6M429 1139l6 6m0-6l-6 6M430 1118l6 6m0-6l-6 6M430 1120l6 6m0-6l-6 6M429 1174l6 6m0-6l-6 6M430 1145l6 6m0-6l-6 6M429 1195l6 6m0-6l-6 6M429 1144l6 6m0-6l-6 6M430 1179l6 6m0-6l-6 6M431 1168l6 6m0-6l-6 6M431 1227l6 6m0-6l-6 6M432 1201l6 6m0-6l-6 6M433 1200l6 6m0-6l-6 6M433 1167l6 6m0-6l-6 6M432 1152l6 6m0-6l-6 6M433 1225l6 6m0-6l-6 6M433 1207l6 6m0-6l-6 6M433 1169l6 6m0-6l-6 6M433 1149l6 6m0-6l-6 6M433 1146l6 6m0-6l-6 6M435 1132l6 6m0-6l-6 6M435 1045l6 6m0-6l-6 6M435 1084l6 6m0-6l-6 6M435 1174l6 6m0-6l-6 6M436 1144l6 6m0-6l-6 6M437 1180l6 6m0-6l-6 6M437 1201l6 6m0-6l-6 6M436 1190l6 6m0-6l-6 6M436 1176l6 6m0-6l-6 6M436 1185l6 6m0-6l-6 6M439 1304l6 6m0-6l-6 6M439 1158l6 6m0-6l-6 6M439 1246l6 6m0-6l-6 6M438 1196l6 6m0-6l-6 6M439 1227l6 6m0-6l-6 6M439 1251l6 6m0-6l-6 6M438 1192l6 6m0-6l-6 6M439 1222l6 6m0-6l-6 6M439 1185l6 6m0-6l-6 6M441 1124l6 6m0-6l-6 6M441 1097l6 6m0-6l-6 6M441 1129l6 6m0-6l-6 6M440 1170l6 6m0-6l-6 6M440 1161l6 6m0-6l-6 6M443 1124l6 6m0-6l-6 6M443 1230l6 6m0-6l-6 6M443 1153l6 6m0-6l-6 6M444 1157l6 6m0-6l-6 6M443 1188l6 6m0-6l-6 6M443 1165l6 6m0-6l-6 6M444 1106l6 6m0-6l-6 6M443 1146l6 6m0-6l-6 6M444 1205l6 6m0-6l-6 6M444 1200l6 6m0-6l-6 6M446 1193l6 6m0-6l-6 6M445 1126l6 6m0-6l-6 6M446 1220l6 6m0-6l-6 6M445 1189l6 6m0-6l-6 6M446 1257l6 6m0-6l-6 6M446 1137l6 6m0-6l-6 6M447 1192l6 6m0-6l-6 6M447 1251l6 6m0-6l-6 6M447 1155l6 6m0-6l-6 6M447 1125l6 6m0-6l-6 6M447 1194l6 6m0-6l-6 6M447 1182l6 6m0-6l-6 6M447 1168l6 6m0-6l-6 6M447 1213l6 6m0-6l-6 6M447 1246l6 6m0-6l-6 6M451 1174l6 6m0-6l-6 6M450 1180l6 6m0-6l-6 6M450 1132l6 6m0-6l-6 6M449 1192l6 6m0-6l-6 6M450 1152l6 6m0-6l-6 6M450 1186l6 6m0-6l-6 6M453 1086l6 6m0-6l-6 6M452 1149l6 6m0-6l-6 6M452 1017l6 6m0-6l-6 6M452 1071l6 6m0-6l-6 6M452 1143l6 6m0-6l-6 6M453 1191l6 6m0-6l-6 6M452 1176l6 6m0-6l-6 6M453 1116l6 6m0-6l-6 6M453 1096l6 6m0-6l-6 6M454 1179l6 6m0-6l-6 6M454 1225l6 6m0-6l-6 6M454 1222l6 6m0-6l-6 6M454 1091l6 6m0-6l-6 6M454 1205l6 6m0-6l-6 6M454 1150l6 6m0-6l-6 6M454 1143l6 6m0-6l-6 6M453 1156l6 6m0-6l-6 6M454 1259l6 6m0-6l-6 6M455 1229l6 6m0-6l-6 6M455 1270l6 6m0-6l-6 6M456 1317l6 6m0-6l-6 6M455 1287l6 6m0-6l-6 6M455 1224l6 6m0-6l-6 6M458 1144l6 6m0-6l-6 6M458 1185l6 6m0-6l-6 6M458 1176l6 6m0-6l-6 6M458 1181l6 6m0-6l-6 6M458 1186l6 6m0-6l-6 6M460 1200l6 6m0-6l-6 6M459 1223l6 6m0-6l-6 6M460 1159l6 6m0-6l-6 6M460 1151l6 6m0-6l-6 6M460 1196l6 6m0-6l-6 6M459 1167l6 6m0-6l-6 6M460 1148l6 6m0-6l-6 6M460 1179l6 6m0-6l-6 6M462 1168l6 6m0-6l-6 6M462 1225l6 6m0-6l-6 6M461 1203l6 6m0-6l-6 6M462 1184l6 6m0-6l-6 6M462 1242l6 6m0-6l-6 6M464 1209l6 6m0-6l-6 6M463 1183l6 6m0-6l-6 6M464 1183l6 6m0-6l-6 6M463 1186l6 6m0-6l-6 6M463 1128l6 6m0-6l-6 6M463 1255l6 6m0-6l-6 6M464 1126l6 6m0-6l-6 6M463 1201l6 6m0-6l-6 6M464 1186l6 6m0-6l-6 6M464 1230l6 6m0-6l-6 6M467 1079l6 6m0-6l-6 6M466 1085l6 6m0-6l-6 6M467 1139l6 6m0-6l-6 6M468 1171l6 6m0-6l-6 6M468 1120l6 6m0-6l-6 6M468 1098l6 6m0-6l-6 6M469 1072l6 6m0-6l-6 6M472 1157l6 6m0-6l-6 6M471 1220l6 6m0-6l-6 6M472 1234l6 6m0-6l-6 6M471 1186l6 6m0-6l-6 6M473 1162l6 6m0-6l-6 6M473 1217l6 6m0-6l-6 6M472 1216l6 6m0-6l-6 6M473 1209l6 6m0-6l-6 6M473 1207l6 6m0-6l-6 6M472 1230l6 6m0-6l-6 6M472 1241l6 6m0-6l-6 6M473 1217l6 6m0-6l-6 6M473 1231l6 6m0-6l-6 6M475 1200l6 6m0-6l-6 6M475 1167l6 6m0-6l-6 6M476 1193l6 6m0-6l-6 6M474 1147l6 6m0-6l-6 6M475 1240l6 6m0-6l-6 6M474 1212l6 6m0-6l-6 6M475 1204l6 6m0-6l-6 6M478 1113l6 6m0-6l-6 6M477 1138l6 6m0-6l-6 6M476 1111l6 6m0-6l-6 6M477 1117l6 6m0-6l-6 6M477 1170l6 6m0-6l-6 6M478 1149l6 6m0-6l-6 6M477 1105l6 6m0-6l-6 6M476 1124l6 6m0-6l-6 6M477 1148l6 6m0-6l-6 6M479 1020l6 6m0-6l-6 6M479 1037l6 6m0-6l-6 6M479 1069l6 6m0-6l-6 6M479 1091l6 6m0-6l-6 6M478 1152l6 6m0-6l-6 6M478 1147l6 6m0-6l-6 6M479 1022l6 6m0-6l-6 6M479 1073l6 6m0-6l-6 6M481 1233l6 6m0-6l-6 6M481 1161l6 6m0-6l-6 6M480 1239l6 6m0-6l-6 6M482 1175l6 6m0-6l-6 6M482 1150l6 6m0-6l-6 6M482 1083l6 6m0-6l-6 6M482 1082l6 6m0-6l-6 6M482 1124l6 6m0-6l-6 6M482 1125l6 6m0-6l-6 6M482 1089l6 6m0-6l-6 6M482 1142l6 6m0-6l-6 6M481 1061l6 6m0-6l-6 6M485 1315l6 6m0-6l-6 6M486 1247l6 6m0-6l-6 6M485 1312l6 6m0-6l-6 6M486 1208l6 6m0-6l-6 6M487 1220l6 6m0-6l-6 6M487 1287l6 6m0-6l-6 6M487 1176l6 6m0-6l-6 6M487 1242l6 6m0-6l-6 6M487 1160l6 6m0-6l-6 6M487 1244l6 6m0-6l-6 6M487 1291l6 6m0-6l-6 6M487 1303l6 6m0-6l-6 6M488 1219l6 6m0-6l-6 6M490 1171l6 6m0-6l-6 6M490 1264l6 6m0-6l-6 6M489 1265l6 6m0-6l-6 6M489 1217l6 6m0-6l-6 6M489 1199l6 6m0-6l-6 6M490 1214l6 6m0-6l-6 6M492 1221l6 6m0-6l-6 6M492 1179l6 6m0-6l-6 6M492 1150l6 6m0-6l-6 6M492 1138l6 6m0-6l-6 6M495 1178l6 6m0-6l-6 6M495 1241l6 6m0-6l-6 6M495 1203l6 6m0-6l-6 6M497 1158l6 6m0-6l-6 6M497 1111l6 6m0-6l-6 6M497 1237l6 6m0-6l-6 6M497 1176l6 6m0-6l-6 6M497 1089l6 6m0-6l-6 6M497 1177l6 6m0-6l-6 6M497 1120l6 6m0-6l-6 6M499 1205l6 6m0-6l-6 6M498 1174l6 6m0-6l-6 6M499 1213l6 6m0-6l-6 6M499 1247l6 6m0-6l-6 6M498 1185l6 6m0-6l-6 6M499 1167l6 6m0-6l-6 6M499 1267l6 6m0-6l-6 6M502 1242l6 6m0-6l-6 6M503 1263l6 6m0-6l-6 6M502 1166l6 6m0-6l-6 6M502 1112l6 6m0-6l-6 6M502 1198l6 6m0-6l-6 6M503 1178l6 6m0-6l-6 6M502 1127l6 6m0-6l-6 6M503 1097l6 6m0-6l-6 6M502 1198l6 6m0-6l-6 6M506 1177l6 6m0-6l-6 6M505 1252l6 6m0-6l-6 6M506 1190l6 6m0-6l-6 6M506 1235l6 6m0-6l-6 6M505 1170l6 6m0-6l-6 6M505 1124l6 6m0-6l-6 6M505 1157l6 6m0-6l-6 6M506 1171l6 6m0-6l-6 6M508 1038l6 6m0-6l-6 6M508 1134l6 6m0-6l-6 6M508 1143l6 6m0-6l-6 6M508 1123l6 6m0-6l-6 6M511 1058l6 6m0-6l-6 6M511 1015l6 6m0-6l-6 6M511 1056l6 6m0-6l-6 6M514 1178l6 6m0-6l-6 6M514 1170l6 6m0-6l-6 6M513 1148l6 6m0-6l-6 6M517 1120l6 6m0-6l-6 6M517 1119l6 6m0-6l-6 6M517 1142l6 6m0-6l-6 6M517 1123l6 6m0-6l-6 6M517 1093l6 6m0-6l-6 6M517 1209l6 6m0-6l-6 6M517 1173l6 6m0-6l-6 6M519 1255l6 6m0-6l-6 6M519 1200l6 6m0-6l-6 6M519 1166l6 6m0-6l-6 6M520 1201l6 6m0-6l-6 6M521 1115l6 6m0-6l-6 6M521 1096l6 6m0-6l-6 6M522 1148l6 6m0-6l-6 6M521 1117l6 6m0-6l-6 6M521 1073l6 6m0-6l-6 6M521 1101l6 6m0-6l-6 6M521 1179l6 6m0-6l-6 6M521 1166l6 6m0-6l-6 6M521 1066l6 6m0-6l-6 6M521 1119l6 6m0-6l-6 6M524 1125l6 6m0-6l-6 6M524 1109l6 6m0-6l-6 6M524 1122l6 6m0-6l-6 6M523 1112l6 6m0-6l-6 6M525 1100l6 6m0-6l-6 6M524 1024l6 6m0-6l-6 6M524 1118l6 6m0-6l-6 6M524 1080l6 6m0-6l-6 6M524 1082l6 6m0-6l-6 6M524 1138l6 6m0-6l-6 6M527 1231l6 6m0-6l-6 6M527 1136l6 6m0-6l-6 6M526 1163l6 6m0-6l-6 6M526 1190l6 6m0-6l-6 6M526 1175l6 6m0-6l-6 6M527 1198l6 6m0-6l-6 6M526 1197l6 6m0-6l-6 6M529 1058l6 6m0-6l-6 6M530 1138l6 6m0-6l-6 6M529 1158l6 6m0-6l-6 6M529 1261l6 6m0-6l-6 6M529 1135l6 6m0-6l-6 6M529 1131l6 6m0-6l-6 6M530 1084l6 6m0-6l-6 6M531 1167l6 6m0-6l-6 6M531 1197l6 6m0-6l-6 6M531 1183l6 6m0-6l-6 6M532 1192l6 6m0-6l-6 6M531 1118l6 6m0-6l-6 6M532 1091l6 6m0-6l-6 6M534 1166l6 6m0-6l-6 6M534 1199l6 6m0-6l-6 6M533 1178l6 6m0-6l-6 6M533 1187l6 6m0-6l-6 6M536 1150l6 6m0-6l-6 6M535 1137l6 6m0-6l-6 6M535 1230l6 6m0-6l-6 6M535 1110l6 6m0-6l-6 6M535 1130l6 6m0-6l-6 6M535 1135l6 6m0-6l-6 6M535 1107l6 6m0-6l-6 6M535 1074l6 6m0-6l-6 6M537 1167l6 6m0-6l-6 6M538 1176l6 6m0-6l-6 6M537 1139l6 6m0-6l-6 6M538 1228l6 6m0-6l-6 6M537 1137l6 6m0-6l-6 6M539 1116l6 6m0-6l-6 6M538 1154l6 6m0-6l-6 6M538 1104l6 6m0-6l-6 6M539 1170l6 6m0-6l-6 6M538 1200l6 6m0-6l-6 6M539 1099l6 6m0-6l-6 6M539 1015l6 6m0-6l-6 6M538 1150l6 6m0-6l-6 6M539 1115l6 6m0-6l-6 6M542 1225l6 6m0-6l-6 6M542 1251l6 6m0-6l-6 6M541 1170l6 6m0-6l-6 6M542 1167l6 6m0-6l-6 6M542 1168l6 6m0-6l-6 6M541 1198l6 6m0-6l-6 6M545 1083l6 6m0-6l-6 6M545 1140l6 6m0-6l-6 6M545 1045l6 6m0-6l-6 6M548 1224l6 6m0-6l-6 6M548 1231l6 6m0-6l-6 6M548 1200l6 6m0-6l-6 6M548 1200l6 6m0-6l-6 6M547 1211l6 6m0-6l-6 6M548 1170l6 6m0-6l-6 6M548 1154l6 6m0-6l-6 6M549 1322l6 6m0-6l-6 6M550 1271l6 6m0-6l-6 6M550 1293l6 6m0-6l-6 6M550 1325l6 6m0-6l-6 6M549 1278l6 6m0-6l-6 6M550 1238l6 6m0-6l-6 6M550 1308l6 6m0-6l-6 6M550 1307l6 6m0-6l-6 6M550 1338l6 6m0-6l-6 6M550 1239l6 6m0-6l-6 6M552 1201l6 6m0-6l-6 6M552 1217l6 6m0-6l-6 6M551 1199l6 6m0-6l-6 6M551 1246l6 6m0-6l-6 6M552 1284l6 6m0-6l-6 6M552 1169l6 6m0-6l-6 6M555 1232l6 6m0-6l-6 6M554 1305l6 6m0-6l-6 6M555 1240l6 6m0-6l-6 6M554 1287l6 6m0-6l-6 6M554 1319l6 6m0-6l-6 6M555 1272l6 6m0-6l-6 6M554 1274l6 6m0-6l-6 6M554 1298l6 6m0-6l-6 6M558 1277l6 6m0-6l-6 6M557 1207l6 6m0-6l-6 6M558 1196l6 6m0-6l-6 6M557 1161l6 6m0-6l-6 6M557 1256l6 6m0-6l-6 6M557 1228l6 6m0-6l-6 6M559 1303l6 6m0-6l-6 6M560 1206l6 6m0-6l-6 6M559 1226l6 6m0-6l-6 6M560 1169l6 6m0-6l-6 6M561 1211l6 6m0-6l-6 6M562 1199l6 6m0-6l-6 6M562 1152l6 6m0-6l-6 6M561 1216l6 6m0-6l-6 6M563 1112l6 6m0-6l-6 6M563 1154l6 6m0-6l-6 6M563 1183l6 6m0-6l-6 6M563 1068l6 6m0-6l-6 6M562 1115l6 6m0-6l-6 6M562 1115l6 6m0-6l-6 6M562 1099l6 6m0-6l-6 6M563 1145l6 6m0-6l-6 6M563 1109l6 6m0-6l-6 6M562 1151l6 6m0-6l-6 6M566 1098l6 6m0-6l-6 6M566 1141l6 6m0-6l-6 6M566 1219l6 6m0-6l-6 6M566 1225l6 6m0-6l-6 6M567 1186l6 6m0-6l-6 6M566 1213l6 6m0-6l-6 6M569 1216l6 6m0-6l-6 6M570 1185l6 6m0-6l-6 6M570 1195l6 6m0-6l-6 6M569 1184l6 6m0-6l-6 6M573 1148l6 6m0-6l-6 6M573 1185l6 6m0-6l-6 6M572 1215l6 6m0-6l-6 6M572 1204l6 6m0-6l-6 6M573 1183l6 6m0-6l-6 6M573 1136l6 6m0-6l-6 6M573 1103l6 6m0-6l-6 6M576 1206l6 6m0-6l-6 6M576 1126l6 6m0-6l-6 6M576 1191l6 6m0-6l-6 6M576 1128l6 6m0-6l-6 6M580 1078l6 6m0-6l-6 6M579 1055l6 6m0-6l-6 6M579 1054l6 6m0-6l-6 6M580 1052l6 6m0-6l-6 6M580 1085l6 6m0-6l-6 6M579 1101l6 6m0-6l-6 6M579 1076l6 6m0-6l-6 6M582 1188l6 6m0-6l-6 6M582 1186l6 6m0-6l-6 6M582 1157l6 6m0-6l-6 6M582 1164l6 6m0-6l-6 6M583 1171l6 6m0-6l-6 6M582 1235l6 6m0-6l-6 6M582 1195l6 6m0-6l-6 6M582 1234l6 6m0-6l-6 6M582 1184l6 6m0-6l-6 6M581 1187l6 6m0-6l-6 6M586 1121l6 6m0-6l-6 6M585 1122l6 6m0-6l-6 6M586 1156l6 6m0-6l-6 6M586 1128l6 6m0-6l-6 6M585 1180l6 6m0-6l-6 6M586 1147l6 6m0-6l-6 6M585 1185l6 6m0-6l-6 6M585 1131l6 6m0-6l-6 6M586 1181l6 6m0-6l-6 6M588 1273l6 6m0-6l-6 6M588 1180l6 6m0-6l-6 6M588 1223l6 6m0-6l-6 6M588 1216l6 6m0-6l-6 6M587 1133l6 6m0-6l-6 6M589 1229l6 6m0-6l-6 6M588 1225l6 6m0-6l-6 6M588 1233l6 6m0-6l-6 6M588 1262l6 6m0-6l-6 6M591 1170l6 6m0-6l-6 6M590 1155l6 6m0-6l-6 6M590 1192l6 6m0-6l-6 6M591 1141l6 6m0-6l-6 6M591 1205l6 6m0-6l-6 6M591 1191l6 6m0-6l-6 6M590 1152l6 6m0-6l-6 6M590 1131l6 6m0-6l-6 6M590 1197l6 6m0-6l-6 6M593 1190l6 6m0-6l-6 6M592 1165l6 6m0-6l-6 6M592 1167l6 6m0-6l-6 6M592 1173l6 6m0-6l-6 6M593 1130l6 6m0-6l-6 6M593 1128l6 6m0-6l-6 6M592 1117l6 6m0-6l-6 6M594 1262l6 6m0-6l-6 6M594 1251l6 6m0-6l-6 6M594 1282l6 6m0-6l-6 6M595 1220l6 6m0-6l-6 6M595 1200l6 6m0-6l-6 6M594 1281l6 6m0-6l-6 6M598 1298l6 6m0-6l-6 6M598 1226l6 6m0-6l-6 6M599 1259l6 6m0-6l-6 6M598 1224l6 6m0-6l-6 6M597 1273l6 6m0-6l-6 6M598 1206l6 6m0-6l-6 6M602 1136l6 6m0-6l-6 6M602 1104l6 6m0-6l-6 6M601 1169l6 6m0-6l-6 6M602 1135l6 6m0-6l-6 6M601 1160l6 6m0-6l-6 6M604 1175l6 6m0-6l-6 6M604 1089l6 6m0-6l-6 6M604 1135l6 6m0-6l-6 6M605 1144l6 6m0-6l-6 6M604 1226l6 6m0-6l-6 6M604 1155l6 6m0-6l-6 6M604 1185l6 6m0-6l-6 6M604 1200l6 6m0-6l-6 6M604 1190l6 6m0-6l-6 6M607 1213l6 6m0-6l-6 6M607 1280l6 6m0-6l-6 6M607 1265l6 6m0-6l-6 6M607 1209l6 6m0-6l-6 6M607 1170l6 6m0-6l-6 6M607 1169l6 6m0-6l-6 6M607 1244l6 6m0-6l-6 6M609 1151l6 6m0-6l-6 6M609 1152l6 6m0-6l-6 6M609 1098l6 6m0-6l-6 6M609 1136l6 6m0-6l-6 6M609 1190l6 6m0-6l-6 6M613 1187l6 6m0-6l-6 6M612 1143l6 6m0-6l-6 6M612 1173l6 6m0-6l-6 6M612 1236l6 6m0-6l-6 6M612 1112l6 6m0-6l-6 6M612 1176l6 6m0-6l-6 6M612 1192l6 6m0-6l-6 6M612 1198l6 6m0-6l-6 6M612 1265l6 6m0-6l-6 6M614 1197l6 6m0-6l-6 6M615 1181l6 6m0-6l-6 6M614 1140l6 6m0-6l-6 6M614 1181l6 6m0-6l-6 6M616 1158l6 6m0-6l-6 6M617 1169l6 6m0-6l-6 6M617 1196l6 6m0-6l-6 6M616 1178l6 6m0-6l-6 6M617 1218l6 6m0-6l-6 6M620 1249l6 6m0-6l-6 6M621 1241l6 6m0-6l-6 6M620 1175l6 6m0-6l-6 6M620 1166l6 6m0-6l-6 6M620 1141l6 6m0-6l-6 6M620 1218l6 6m0-6l-6 6M620 1224l6 6m0-6l-6 6M620 1220l6 6m0-6l-6 6M620 1133l6 6m0-6l-6 6M622 1139l6 6m0-6l-6 6M622 1209l6 6m0-6l-6 6M622 1185l6 6m0-6l-6 6M622 1142l6 6m0-6l-6 6M622 1222l6 6m0-6l-6 6M623 1205l6 6m0-6l-6 6M625 1145l6 6m0-6l-6 6M625 1166l6 6m0-6l-6 6M625 1151l6 6m0-6l-6 6M627 1160l6 6m0-6l-6 6M627 1176l6 6m0-6l-6 6M627 1053l6 6m0-6l-6 6M627 1127l6 6m0-6l-6 6M627 1111l6 6m0-6l-6 6M628 1233l6 6m0-6l-6 6M627 1122l6 6m0-6l-6 6M627 1113l6 6m0-6l-6 6M628 1143l6 6m0-6l-6 6M629 1173l6 6m0-6l-6 6M629 1069l6 6m0-6l-6 6M629 1146l6 6m0-6l-6 6M629 1199l6 6m0-6l-6 6M631 1211l6 6m0-6l-6 6M631 1142l6 6m0-6l-6 6M631 1168l6 6m0-6l-6 6M631 1132l6 6m0-6l-6 6M631 1112l6 6m0-6l-6 6M631 1249l6 6m0-6l-6 6M630 1172l6 6m0-6l-6 6M631 1164l6 6m0-6l-6 6M631 1163l6 6m0-6l-6 6M631 1155l6 6m0-6l-6 6M634 1283l6 6m0-6l-6 6M634 1257l6 6m0-6l-6 6M634 1331l6 6m0-6l-6 6M634 1239l6 6m0-6l-6 6M635 1214l6 6m0-6l-6 6M634 1280l6 6m0-6l-6 6M635 1195l6 6m0-6l-6 6M634 1272l6 6m0-6l-6 6M637 1199l6 6m0-6l-6 6M638 1244l6 6m0-6l-6 6M637 1256l6 6m0-6l-6 6M638 1289l6 6m0-6l-6 6M637 1178l6 6m0-6l-6 6M640 1023l6 6m0-6l-6 6M640 1207l6 6m0-6l-6 6M639 1072l6 6m0-6l-6 6M640 1093l6 6m0-6l-6 6M640 1144l6 6m0-6l-6 6M639 1084l6 6m0-6l-6 6M643 1247l6 6m0-6l-6 6M643 1249l6 6m0-6l-6 6M642 1276l6 6m0-6l-6 6M643 1187l6 6m0-6l-6 6M646 1201l6 6m0-6l-6 6M645 1268l6 6m0-6l-6 6M646 1211l6 6m0-6l-6 6M645 1257l6 6m0-6l-6 6M645 1182l6 6m0-6l-6 6M646 1156l6 6m0-6l-6 6M646 1202l6 6m0-6l-6 6M648 1151l6 6m0-6l-6 6M648 1244l6 6m0-6l-6 6M647 1264l6 6m0-6l-6 6M651 1273l6 6m0-6l-6 6M650 1128l6 6m0-6l-6 6M650 1124l6 6m0-6l-6 6M653 1185l6 6m0-6l-6 6M652 1156l6 6m0-6l-6 6M653 1229l6 6m0-6l-6 6M652 1216l6 6m0-6l-6 6M653 1161l6 6m0-6l-6 6M652 1234l6 6m0-6l-6 6M652 1217l6 6m0-6l-6 6M652 1235l6 6m0-6l-6 6M655 1167l6 6m0-6l-6 6M655 1189l6 6m0-6l-6 6M655 1161l6 6m0-6l-6 6M655 1163l6 6m0-6l-6 6M655 1127l6 6m0-6l-6 6M654 1159l6 6m0-6l-6 6M657 1131l6 6m0-6l-6 6M656 1169l6 6m0-6l-6 6M657 1125l6 6m0-6l-6 6M656 1113l6 6m0-6l-6 6M658 1182l6 6m0-6l-6 6M658 1140l6 6m0-6l-6 6M659 1196l6 6m0-6l-6 6M659 1219l6 6m0-6l-6 6M659 1191l6 6m0-6l-6 6M659 1210l6 6m0-6l-6 6M658 1123l6 6m0-6l-6 6M661 1202l6 6m0-6l-6 6M660 1227l6 6m0-6l-6 6M661 1182l6 6m0-6l-6 6M661 1174l6 6m0-6l-6 6M664 1201l6 6m0-6l-6 6M664 1140l6 6m0-6l-6 6M663 1140l6 6m0-6l-6 6M663 1126l6 6m0-6l-6 6M664 1099l6 6m0-6l-6 6M664 1169l6 6m0-6l-6 6M663 1101l6 6m0-6l-6 6M664 1183l6 6m0-6l-6 6M667 1119l6 6m0-6l-6 6M667 1104l6 6m0-6l-6 6M667 1057l6 6m0-6l-6 6M667 1123l6 6m0-6l-6 6M668 1150l6 6m0-6l-6 6M667 1182l6 6m0-6l-6 6M667 1065l6 6m0-6l-6 6M668 1149l6 6m0-6l-6 6M668 1083l6 6m0-6l-6 6M670 1232l6 6m0-6l-6 6M669 1312l6 6m0-6l-6 6M669 1297l6 6m0-6l-6 6M669 1194l6 6m0-6l-6 6M671 1161l6 6m0-6l-6 6M671 1133l6 6m0-6l-6 6M671 1080l6 6m0-6l-6 6M675 1192l6 6m0-6l-6 6M675 1212l6 6m0-6l-6 6M674 1213l6 6m0-6l-6 6M677 1074l6 6m0-6l-6 6M676 1148l6 6m0-6l-6 6M676 1012l6 6m0-6l-6 6M677 1135l6 6m0-6l-6 6M676 1115l6 6m0-6l-6 6M677 1037l6 6m0-6l-6 6M677 1100l6 6m0-6l-6 6M678 1211l6 6m0-6l-6 6M679 1148l6 6m0-6l-6 6M678 1177l6 6m0-6l-6 6M679 1177l6 6m0-6l-6 6M681 1138l6 6m0-6l-6 6M682 1114l6 6m0-6l-6 6M681 1189l6 6m0-6l-6 6M681 1158l6 6m0-6l-6 6M684 1191l6 6m0-6l-6 6M685 1267l6 6m0-6l-6 6M684 1209l6 6m0-6l-6 6M684 1270l6 6m0-6l-6 6M684 1225l6 6m0-6l-6 6M685 1232l6 6m0-6l-6 6M686 1181l6 6m0-6l-6 6M686 1133l6 6m0-6l-6 6M686 1192l6 6m0-6l-6 6M685 1159l6 6m0-6l-6 6M687 1215l6 6m0-6l-6 6M688 1254l6 6m0-6l-6 6M688 1155l6 6m0-6l-6 6M687 1142l6 6m0-6l-6 6M687 1197l6 6m0-6l-6 6M687 1156l6 6m0-6l-6 6M688 1251l6 6m0-6l-6 6M687 1132l6 6m0-6l-6 6M687 1204l6 6m0-6l-6 6M689 1149l6 6m0-6l-6 6M689 1117l6 6m0-6l-6 6M688 1117l6 6m0-6l-6 6M693 1119l6 6m0-6l-6 6M692 1124l6 6m0-6l-6 6M692 1027l6 6m0-6l-6 6M692 1060l6 6m0-6l-6 6M694 1255l6 6m0-6l-6 6M695 1196l6 6m0-6l-6 6M695 1187l6 6m0-6l-6 6M695 1203l6 6m0-6l-6 6M695 1173l6 6m0-6l-6 6M697 1154l6 6m0-6l-6 6M697 1120l6 6m0-6l-6 6M697 1061l6 6m0-6l-6 6M696 1062l6 6m0-6l-6 6M697 1139l6 6m0-6l-6 6M697 1159l6 6m0-6l-6 6M696 1185l6 6m0-6l-6 6M697 1012l6 6m0-6l-6 6M697 1124l6 6m0-6l-6 6M697 1155l6 6m0-6l-6 6M698 1205l6 6m0-6l-6 6M698 1136l6 6m0-6l-6 6M698 1197l6 6m0-6l-6 6M702 1172l6 6m0-6l-6 6M702 1126l6 6m0-6l-6 6M701 1104l6 6m0-6l-6 6M702 1111l6 6m0-6l-6 6M701 1073l6 6m0-6l-6 6M702 1166l6 6m0-6l-6 6M702 1143l6 6m0-6l-6 6M704 1185l6 6m0-6l-6 6M704 1181l6 6m0-6l-6 6M704 1235l6 6m0-6l-6 6M704 1235l6 6m0-6l-6 6M704 1244l6 6m0-6l-6 6M704 1252l6 6m0-6l-6 6M706 1161l6 6m0-6l-6 6M706 1146l6 6m0-6l-6 6M706 1128l6 6m0-6l-6 6M706 1184l6 6m0-6l-6 6M706 1109l6 6m0-6l-6 6M706 1110l6 6m0-6l-6 6M706 1209l6 6m0-6l-6 6M706 1113l6 6m0-6l-6 6M706 1097l6 6m0-6l-6 6M706 1129l6 6m0-6l-6 6M709 1146l6 6m0-6l-6 6M709 1151l6 6m0-6l-6 6M709 1212l6 6m0-6l-6 6M711 1197l6 6m0-6l-6 6M711 1203l6 6m0-6l-6 6M710 1095l6 6m0-6l-6 6M710 1164l6 6m0-6l-6 6M711 1195l6 6m0-6l-6 6M711 1155l6 6m0-6l-6 6M711 1158l6 6m0-6l-6 6M711 1154l6 6m0-6l-6 6M711 1159l6 6m0-6l-6 6M714 1176l6 6m0-6l-6 6M713 1264l6 6m0-6l-6 6M713 1127l6 6m0-6l-6 6M713 1209l6 6m0-6l-6 6M714 1229l6 6m0-6l-6 6M715 1115l6 6m0-6l-6 6M715 1123l6 6m0-6l-6 6M715 1115l6 6m0-6l-6 6M715 1131l6 6m0-6l-6 6M715 1150l6 6m0-6l-6 6M715 1126l6 6m0-6l-6 6M718 1108l6 6m0-6l-6 6M719 1189l6 6m0-6l-6 6M719 1166l6 6m0-6l-6 6M722 1176l6 6m0-6l-6 6M722 1195l6 6m0-6l-6 6M722 1222l6 6m0-6l-6 6M722 1259l6 6m0-6l-6 6M724 1131l6 6m0-6l-6 6M724 1159l6 6m0-6l-6 6M723 1183l6 6m0-6l-6 6M723 1220l6 6m0-6l-6 6M724 1171l6 6m0-6l-6 6M723 1113l6 6m0-6l-6 6M723 1126l6 6m0-6l-6 6M723 1163l6 6m0-6l-6 6M728 1152l6 6m0-6l-6 6M727 1140l6 6m0-6l-6 6M727 1139l6 6m0-6l-6 6M728 1233l6 6m0-6l-6 6M727 1125l6 6m0-6l-6 6M730 1155l6 6m0-6l-6 6M730 1193l6 6m0-6l-6 6M731 1160l6 6m0-6l-6 6M730 1214l6 6m0-6l-6 6M730 1165l6 6m0-6l-6 6M730 1275l6 6m0-6l-6 6M730 1218l6 6m0-6l-6 6M729 1236l6 6m0-6l-6 6M730 1179l6 6m0-6l-6 6M729 1130l6 6m0-6l-6 6M733 1239l6 6m0-6l-6 6M733 1200l6 6m0-6l-6 6M733 1171l6 6m0-6l-6 6M733 1213l6 6m0-6l-6 6M736 1231l6 6m0-6l-6 6M736 1283l6 6m0-6l-6 6M736 1227l6 6m0-6l-6 6M736 1308l6 6m0-6l-6 6M738 1163l6 6m0-6l-6 6M738 1094l6 6m0-6l-6 6M738 1237l6 6m0-6l-6 6M738 1055l6 6m0-6l-6 6M737 1103l6 6m0-6l-6 6M738 1124l6 6m0-6l-6 6M737 1117l6 6m0-6l-6 6M741 1299l6 6m0-6l-6 6M742 1187l6 6m0-6l-6 6M742 1270l6 6m0-6l-6 6M742 1122l6 6m0-6l-6 6M742 1247l6 6m0-6l-6 6M742 1184l6 6m0-6l-6 6M742 1195l6 6m0-6l-6 6M742 1245l6 6m0-6l-6 6M741 1194l6 6m0-6l-6 6M742 1203l6 6m0-6l-6 6M743 1258l6 6m0-6l-6 6M743 1251l6 6m0-6l-6 6M743 1283l6 6m0-6l-6 6M743 1253l6 6m0-6l-6 6M743 1205l6 6m0-6l-6 6M743 1204l6 6m0-6l-6 6M743 1221l6 6m0-6l-6 6M746 1091l6 6m0-6l-6 6M745 1130l6 6m0-6l-6 6M747 1090l6 6m0-6l-6 6M746 1096l6 6m0-6l-6 6M745 1109l6 6m0-6l-6 6M746 1149l6 6m0-6l-6 6M746 1186l6 6m0-6l-6 6M745 1051l6 6m0-6l-6 6M746 1170l6 6m0-6l-6 6M749 1122l6 6m0-6l-6 6M749 1251l6 6m0-6l-6 6M749 1164l6 6m0-6l-6 6M749 1118l6 6m0-6l-6 6M749 1176l6 6m0-6l-6 6M749 1194l6 6m0-6l-6 6M749 1111l6 6m0-6l-6 6M749 1174l6 6m0-6l-6 6M750 1170l6 6m0-6l-6 6M749 1191l6 6m0-6l-6 6M752 1180l6 6m0-6l-6 6M752 1163l6 6m0-6l-6 6M751 1146l6 6m0-6l-6 6M751 1187l6 6m0-6l-6 6M751 1260l6 6m0-6l-6 6M753 1113l6 6m0-6l-6 6M753 1159l6 6m0-6l-6 6M753 1173l6 6m0-6l-6 6M753 1112l6 6m0-6l-6 6M754 1163l6 6m0-6l-6 6M756 1162l6 6m0-6l-6 6M756 1177l6 6m0-6l-6 6M757 1208l6 6m0-6l-6 6M756 1181l6 6m0-6l-6 6M756 1129l6 6m0-6l-6 6M756 1214l6 6m0-6l-6 6M757 1200l6 6m0-6l-6 6M756 1148l6 6m0-6l-6 6M756 1195l6 6m0-6l-6 6M756 1190l6 6m0-6l-6 6M758 1075l6 6m0-6l-6 6M758 1076l6 6m0-6l-6 6M757 1108l6 6m0-6l-6 6M758 1072l6 6m0-6l-6 6M758 1125l6 6m0-6l-6 6M758 1111l6 6m0-6l-6 6M758 1083l6 6m0-6l-6 6M757 1090l6 6m0-6l-6 6M761 1211l6 6m0-6l-6 6M761 1183l6 6m0-6l-6 6M761 1157l6 6m0-6l-6 6M761 1142l6 6m0-6l-6 6M763 1267l6 6m0-6l-6 6M763 1251l6 6m0-6l-6 6M762 1168l6 6m0-6l-6 6M763 1144l6 6m0-6l-6 6M763 1177l6 6m0-6l-6 6M763 1177l6 6m0-6l-6 6M763 1161l6 6m0-6l-6 6M763 1165l6 6m0-6l-6 6M762 1156l6 6m0-6l-6 6M763 1173l6 6m0-6l-6 6M764 1176l6 6m0-6l-6 6M764 1192l6 6m0-6l-6 6M765 1250l6 6m0-6l-6 6M765 1211l6 6m0-6l-6 6M765 1212l6 6m0-6l-6 6M765 1158l6 6m0-6l-6 6M766 1110l6 6m0-6l-6 6M766 1249l6 6m0-6l-6 6M766 1233l6 6m0-6l-6 6M766 1182l6 6m0-6l-6 6M770 1279l6 6m0-6l-6 6M769 1282l6 6m0-6l-6 6M770 1324l6 6m0-6l-6 6M769 1305l6 6m0-6l-6 6M770 1270l6 6m0-6l-6 6M769 1281l6 6m0-6l-6 6M770 1295l6 6m0-6l-6 6M770 1270l6 6m0-6l-6 6M769 1183l6 6m0-6l-6 6M769 1312l6 6m0-6l-6 6M772 1198l6 6m0-6l-6 6M772 1214l6 6m0-6l-6 6M772 1192l6 6m0-6l-6 6M772 1170l6 6m0-6l-6 6M772 1123l6 6m0-6l-6 6M772 1129l6 6m0-6l-6 6M772 1233l6 6m0-6l-6 6M774 1165l6 6m0-6l-6 6M774 1187l6 6m0-6l-6 6M775 1155l6 6m0-6l-6 6M776 1190l6 6m0-6l-6 6M775 1258l6 6m0-6l-6 6M776 1177l6 6m0-6l-6 6M778 1072l6 6m0-6l-6 6M778 1021l6 6m0-6l-6 6M778 1072l6 6m0-6l-6 6M778 1147l6 6m0-6l-6 6M778 1089l6 6m0-6l-6 6M782 1173l6 6m0-6l-6 6M781 1187l6 6m0-6l-6 6M782 1120l6 6m0-6l-6 6M781 1171l6 6m0-6l-6 6M781 1184l6 6m0-6l-6 6M782 1138l6 6m0-6l-6 6M782 1083l6 6m0-6l-6 6M781 1181l6 6m0-6l-6 6M783 1184l6 6m0-6l-6 6M783 1239l6 6m0-6l-6 6M783 1299l6 6m0-6l-6 6M783 1208l6 6m0-6l-6 6M782 1240l6 6m0-6l-6 6M782 1248l6 6m0-6l-6 6M782 1253l6 6m0-6l-6 6M782 1189l6 6m0-6l-6 6M783 1244l6 6m0-6l-6 6M787 1167l6 6m0-6l-6 6M786 1283l6 6m0-6l-6 6M786 1224l6 6m0-6l-6 6M786 1213l6 6m0-6l-6 6M787 1221l6 6m0-6l-6 6M789 1229l6 6m0-6l-6 6M790 1296l6 6m0-6l-6 6M789 1267l6 6m0-6l-6 6M789 1227l6 6m0-6l-6 6M790 1260l6 6m0-6l-6 6M789 1252l6 6m0-6l-6 6M789 1242l6 6m0-6l-6 6M790 1299l6 6m0-6l-6 6M790 1265l6 6m0-6l-6 6M789 1260l6 6m0-6l-6 6M791 1137l6 6m0-6l-6 6M792 1194l6 6m0-6l-6 6M791 1264l6 6m0-6l-6 6M791 1202l6 6m0-6l-6 6M791 1176l6 6m0-6l-6 6M791 1235l6 6m0-6l-6 6M791 1225l6 6m0-6l-6 6M792 1202l6 6m0-6l-6 6M794 1176l6 6m0-6l-6 6M794 1164l6 6m0-6l-6 6M793 1157l6 6m0-6l-6 6M794 1202l6 6m0-6l-6 6M795 1234l6 6m0-6l-6 6M796 1183l6 6m0-6l-6 6M796 1232l6 6m0-6l-6 6M796 1216l6 6m0-6l-6 6M795 1114l6 6m0-6l-6 6M795 1261l6 6m0-6l-6 6M795 1184l6 6m0-6l-6 6M795 1213l6 6m0-6l-6 6M796 1112l6 6m0-6l-6 6M797 1102l6 6m0-6l-6 6M797 1082l6 6m0-6l-6 6M797 1024l6 6m0-6l-6 6M797 1108l6 6m0-6l-6 6M797 1099l6 6m0-6l-6 6M796 1129l6 6m0-6l-6 6M797 1085l6 6m0-6l-6 6M797 1162l6 6m0-6l-6 6M797 1137l6 6m0-6l-6 6M800 1139l6 6m0-6l-6 6M800 1166l6 6m0-6l-6 6M801 1186l6 6m0-6l-6 6M801 1110l6 6m0-6l-6 6M800 1134l6 6m0-6l-6 6M801 1142l6 6m0-6l-6 6M801 1136l6 6m0-6l-6 6M801 1220l6 6m0-6l-6 6M800 1186l6 6m0-6l-6 6M801 1136l6 6m0-6l-6 6M804 1130l6 6m0-6l-6 6M804 1194l6 6m0-6l-6 6M804 1193l6 6m0-6l-6 6M803 1139l6 6m0-6l-6 6M804 1150l6 6m0-6l-6 6M803 1213l6 6m0-6l-6 6M804 1147l6 6m0-6l-6 6M804 1128l6 6m0-6l-6 6M804 1078l6 6m0-6l-6 6M808 1228l6 6m0-6l-6 6M807 1174l6 6m0-6l-6 6M807 1192l6 6m0-6l-6 6M807 1251l6 6m0-6l-6 6M807 1249l6 6m0-6l-6 6M807 1186l6 6m0-6l-6 6M807 1192l6 6m0-6l-6 6M808 1192l6 6m0-6l-6 6M807 1285l6 6m0-6l-6 6M807 1200l6 6m0-6l-6 6M810 1129l6 6m0-6l-6 6M811 1169l6 6m0-6l-6 6M811 1182l6 6m0-6l-6 6M813 1175l6 6m0-6l-6 6M814 1283l6 6m0-6l-6 6M814 1224l6 6m0-6l-6 6M813 1254l6 6m0-6l-6 6M815 1204l6 6m0-6l-6 6M814 1201l6 6m0-6l-6 6M815 1132l6 6m0-6l-6 6M815 1142l6 6m0-6l-6 6M817 1354l6 6m0-6l-6 6M817 1263l6 6m0-6l-6 6M817 1316l6 6m0-6l-6 6M818 1190l6 6m0-6l-6 6M819 1170l6 6m0-6l-6 6M819 1207l6 6m0-6l-6 6M819 1144l6 6m0-6l-6 6M824 1189l6 6m0-6l-6 6M823 1182l6 6m0-6l-6 6M823 1172l6 6m0-6l-6 6M827 1165l6 6m0-6l-6 6M827 1204l6 6m0-6l-6 6M827 1211l6 6m0-6l-6 6M827 1271l6 6m0-6l-6 6M826 1183l6 6m0-6l-6 6M826 1216l6 6m0-6l-6 6M827 1177l6 6m0-6l-6 6M826 1247l6 6m0-6l-6 6M829 1209l6 6m0-6l-6 6M830 1241l6 6m0-6l-6 6M830 1188l6 6m0-6l-6 6M833 1190l6 6m0-6l-6 6M833 1184l6 6m0-6l-6 6M832 1128l6 6m0-6l-6 6M833 1186l6 6m0-6l-6 6M833 1187l6 6m0-6l-6 6M833 1151l6 6m0-6l-6 6M832 1211l6 6m0-6l-6 6M833 1117l6 6m0-6l-6 6M832 1199l6 6m0-6l-6 6M833 1117l6 6m0-6l-6 6M836 1141l6 6m0-6l-6 6M837 1147l6 6m0-6l-6 6M836 1166l6 6m0-6l-6 6M837 1218l6 6m0-6l-6 6M837 1243l6 6m0-6l-6 6M840 1145l6 6m0-6l-6 6M840 1139l6 6m0-6l-6 6M840 1078l6 6m0-6l-6 6M839 1147l6 6m0-6l-6 6M840 1190l6 6m0-6l-6 6M839 1174l6 6m0-6l-6 6M842 1247l6 6m0-6l-6 6M842 1166l6 6m0-6l-6 6M842 1205l6 6m0-6l-6 6M843 1241l6 6m0-6l-6 6M843 1260l6 6m0-6l-6 6M843 1250l6 6m0-6l-6 6M843 1146l6 6m0-6l-6 6M843 1122l6 6m0-6l-6 6M843 1209l6 6m0-6l-6 6M845 1199l6 6m0-6l-6 6M845 1286l6 6m0-6l-6 6M845 1189l6 6m0-6l-6 6M845 1211l6 6m0-6l-6 6M845 1158l6 6m0-6l-6 6M846 1242l6 6m0-6l-6 6M845 1203l6 6m0-6l-6 6M845 1220l6 6m0-6l-6 6M846 1240l6 6m0-6l-6 6M848 1024l6 6m0-6l-6 6M847 1081l6 6m0-6l-6 6M847 1121l6 6m0-6l-6 6M847 1147l6 6m0-6l-6 6M847 1104l6 6m0-6l-6 6M848 1023l6 6m0-6l-6 6M847 1089l6 6m0-6l-6 6M848 1180l6 6m0-6l-6 6M849 1233l6 6m0-6l-6 6M849 1146l6 6m0-6l-6 6M849 1122l6 6m0-6l-6 6M849 1158l6 6m0-6l-6 6M849 1235l6 6m0-6l-6 6M851 1090l6 6m0-6l-6 6M851 1158l6 6m0-6l-6 6M852 1220l6 6m0-6l-6 6M852 1176l6 6m0-6l-6 6M852 1158l6 6m0-6l-6 6M852 1193l6 6m0-6l-6 6M855 1133l6 6m0-6l-6 6M855 1079l6 6m0-6l-6 6M854 1123l6 6m0-6l-6 6M854 1104l6 6m0-6l-6 6M857 1121l6 6m0-6l-6 6M857 1096l6 6m0-6l-6 6M857 1156l6 6m0-6l-6 6M857 1184l6 6m0-6l-6 6M857 1152l6 6m0-6l-6 6M856 1188l6 6m0-6l-6 6M857 1225l6 6m0-6l-6 6M857 1126l6 6m0-6l-6 6M857 1146l6 6m0-6l-6 6M860 1100l6 6m0-6l-6 6M861 1132l6 6m0-6l-6 6M860 1050l6 6m0-6l-6 6M860 1115l6 6m0-6l-6 6M860 1170l6 6m0-6l-6 6M860 1090l6 6m0-6l-6 6M861 1096l6 6m0-6l-6 6M860 1111l6 6m0-6l-6 6M860 1164l6 6m0-6l-6 6M861 1117l6 6m0-6l-6 6M864 1129l6 6m0-6l-6 6M864 1142l6 6m0-6l-6 6M864 1127l6 6m0-6l-6 6M864 1141l6 6m0-6l-6 6M864 1147l6 6m0-6l-6 6M865 1182l6 6m0-6l-6 6M865 1156l6 6m0-6l-6 6M866 1214l6 6m0-6l-6 6M865 1209l6 6m0-6l-6 6M865 1177l6 6m0-6l-6 6M869 1171l6 6m0-6l-6 6M869 1175l6 6m0-6l-6 6M869 1162l6 6m0-6l-6 6M868 1196l6 6m0-6l-6 6M869 1239l6 6m0-6l-6 6M868 1123l6 6m0-6l-6 6M869 1192l6 6m0-6l-6 6M869 1209l6 6m0-6l-6 6M872 1211l6 6m0-6l-6 6M872 1192l6 6m0-6l-6 6M872 1158l6 6m0-6l-6 6M872 1113l6 6m0-6l-6 6M875 1185l6 6m0-6l-6 6M874 1230l6 6m0-6l-6 6M874 1252l6 6m0-6l-6 6M876 1150l6 6m0-6l-6 6M876 1172l6 6m0-6l-6 6M876 1201l6 6m0-6l-6 6M876 1190l6 6m0-6l-6 6M875 1165l6 6m0-6l-6 6M875 1119l6 6m0-6l-6 6M876 1056l6 6m0-6l-6 6M876 1170l6 6m0-6l-6 6M880 1176l6 6m0-6l-6 6M880 1258l6 6m0-6l-6 6M880 1240l6 6m0-6l-6 6M879 1185l6 6m0-6l-6 6M880 1123l6 6m0-6l-6 6M882 1195l6 6m0-6l-6 6M883 1104l6 6m0-6l-6 6M882 1247l6 6m0-6l-6 6M882 1248l6 6m0-6l-6 6M882 1199l6 6m0-6l-6 6M883 1196l6 6m0-6l-6 6M882 1180l6 6m0-6l-6 6M882 1223l6 6m0-6l-6 6M885 1233l6 6m0-6l-6 6M885 1196l6 6m0-6l-6 6M885 1253l6 6m0-6l-6 6M885 1214l6 6m0-6l-6 6M885 1230l6 6m0-6l-6 6M885 1184l6 6m0-6l-6 6M885 1216l6 6m0-6l-6 6M884 1242l6 6m0-6l-6 6M884 1221l6 6m0-6l-6 6M888 1152l6 6m0-6l-6 6M888 1151l6 6m0-6l-6 6M888 1123l6 6m0-6l-6 6M888 1117l6 6m0-6l-6 6M891 1049l6 6m0-6l-6 6M891 1186l6 6m0-6l-6 6M890 1144l6 6m0-6l-6 6M891 1142l6 6m0-6l-6 6M891 1119l6 6m0-6l-6 6M891 1082l6 6m0-6l-6 6M893 1231l6 6m0-6l-6 6M892 1196l6 6m0-6l-6 6M892 1161l6 6m0-6l-6 6M892 1222l6 6m0-6l-6 6M896 1141l6 6m0-6l-6 6M896 1136l6 6m0-6l-6 6M895 1131l6 6m0-6l-6 6M895 1090l6 6m0-6l-6 6M898 1066l6 6m0-6l-6 6M898 1158l6 6m0-6l-6 6M898 1142l6 6m0-6l-6 6M898 1083l6 6m0-6l-6 6M897 1119l6 6m0-6l-6 6M897 1115l6 6m0-6l-6 6M898 1180l6 6m0-6l-6 6M898 1121l6 6m0-6l-6 6M902 1116l6 6m0-6l-6 6M902 1180l6 6m0-6l-6 6M901 1131l6 6m0-6l-6 6M901 1162l6 6m0-6l-6 6M901 1197l6 6m0-6l-6 6M901 1167l6 6m0-6l-6 6M901 1162l6 6m0-6l-6 6M901 1152l6 6m0-6l-6 6M905 1252l6 6m0-6l-6 6M904 1244l6 6m0-6l-6 6M905 1175l6 6m0-6l-6 6M907 1126l6 6m0-6l-6 6M907 1099l6 6m0-6l-6 6M907 1119l6 6m0-6l-6 6M907 1153l6 6m0-6l-6 6M908 1079l6 6m0-6l-6 6M907 1163l6 6m0-6l-6 6M908 1163l6 6m0-6l-6 6M909 1215l6 6m0-6l-6 6M909 1199l6 6m0-6l-6 6M909 1190l6 6m0-6l-6 6M909 1237l6 6m0-6l-6 6M908 1139l6 6m0-6l-6 6M909 1223l6 6m0-6l-6 6M908 1179l6 6m0-6l-6 6M908 1144l6 6m0-6l-6 6M908 1122l6 6m0-6l-6 6M910 1150l6 6m0-6l-6 6M911 1200l6 6m0-6l-6 6M910 1160l6 6m0-6l-6 6M910 1160l6 6m0-6l-6 6M911 1183l6 6m0-6l-6 6M911 1217l6 6m0-6l-6 6M912 1110l6 6m0-6l-6 6M913 1203l6 6m0-6l-6 6M912 1107l6 6m0-6l-6 6M912 1161l6 6m0-6l-6 6M912 1186l6 6m0-6l-6 6M913 1175l6 6m0-6l-6 6M912 1312l6 6m0-6l-6 6M913 1170l6 6m0-6l-6 6M912 1182l6 6m0-6l-6 6M912 1227l6 6m0-6l-6 6M915 1139l6 6m0-6l-6 6M915 1221l6 6m0-6l-6 6M915 1244l6 6m0-6l-6 6M915 1119l6 6m0-6l-6 6M915 1170l6 6m0-6l-6 6M914 1241l6 6m0-6l-6 6M915 1205l6 6m0-6l-6 6M914 1231l6 6m0-6l-6 6M914 1200l6 6m0-6l-6 6M915 1171l6 6m0-6l-6 6M918 1154l6 6m0-6l-6 6M917 1237l6 6m0-6l-6 6M917 1180l6 6m0-6l-6 6M918 1158l6 6m0-6l-6 6M919 1132l6 6m0-6l-6 6M919 1222l6 6m0-6l-6 6M920 1177l6 6m0-6l-6 6M920 1186l6 6m0-6l-6 6M920 1194l6 6m0-6l-6 6M923 1241l6 6m0-6l-6 6M923 1214l6 6m0-6l-6 6M923 1230l6 6m0-6l-6 6M923 1227l6 6m0-6l-6 6M923 1257l6 6m0-6l-6 6M923 1255l6 6m0-6l-6 6M926 1173l6 6m0-6l-6 6M926 1184l6 6m0-6l-6 6M927 1146l6 6m0-6l-6 6M930 1137l6 6m0-6l-6 6M930 1184l6 6m0-6l-6 6M930 1145l6 6m0-6l-6 6M930 1208l6 6m0-6l-6 6M929 1101l6 6m0-6l-6 6M930 1177l6 6m0-6l-6 6M930 1023l6 6m0-6l-6 6M930 1085l6 6m0-6l-6 6M930 1163l6 6m0-6l-6 6M930 1105l6 6m0-6l-6 6M932 1078l6 6m0-6l-6 6M933 1111l6 6m0-6l-6 6M933 1203l6 6m0-6l-6 6M933 1171l6 6m0-6l-6 6M933 1171l6 6m0-6l-6 6M932 1154l6 6m0-6l-6 6M933 1076l6 6m0-6l-6 6M935 1193l6 6m0-6l-6 6M935 1209l6 6m0-6l-6 6M935 1222l6 6m0-6l-6 6M935 1132l6 6m0-6l-6 6M935 1192l6 6m0-6l-6 6M935 1147l6 6m0-6l-6 6M938 1265l6 6m0-6l-6 6M937 1159l6 6m0-6l-6 6M937 1198l6 6m0-6l-6 6M937 1193l6 6m0-6l-6 6M938 1191l6 6m0-6l-6 6M937 1209l6 6m0-6l-6 6M937 1174l6 6m0-6l-6 6M937 1158l6 6m0-6l-6 6M938 1218l6 6m0-6l-6 6M940 1116l6 6m0-6l-6 6M940 1231l6 6m0-6l-6 6M939 1149l6 6m0-6l-6 6M940 1114l6 6m0-6l-6 6M940 1146l6 6m0-6l-6 6M940 1153l6 6m0-6l-6 6M940 1165l6 6m0-6l-6 6M940 1158l6 6m0-6l-6 6M940 1084l6 6m0-6l-6 6M940 1198l6 6m0-6l-6 6M943 1168l6 6m0-6l-6 6M944 1303l6 6m0-6l-6 6M944 1136l6 6m0-6l-6 6M943 1195l6 6m0-6l-6 6M943 1207l6 6m0-6l-6 6M944 1239l6 6m0-6l-6 6M943 1165l6 6m0-6l-6 6M944 1170l6 6m0-6l-6 6M945 1063l6 6m0-6l-6 6M946 1187l6 6m0-6l-6 6M946 1063l6 6m0-6l-6 6M945 1166l6 6m0-6l-6 6M946 1074l6 6m0-6l-6 6M946 1129l6 6m0-6l-6 6M946 1132l6 6m0-6l-6 6M946 1116l6 6m0-6l-6 6M946 1132l6 6m0-6l-6 6M949 1120l6 6m0-6l-6 6M949 1102l6 6m0-6l-6 6M949 1074l6 6m0-6l-6 6M950 1083l6 6m0-6l-6 6M949 1123l6 6m0-6l-6 6M949 1027l6 6m0-6l-6 6M949 1175l6 6m0-6l-6 6M949 1084l6 6m0-6l-6 6M949 1156l6 6m0-6l-6 6M949 1094l6 6m0-6l-6 6M950 1155l6 6m0-6l-6 6M951 1147l6 6m0-6l-6 6M950 1172l6 6m0-6l-6 6M951 1137l6 6m0-6l-6 6M950 1169l6 6m0-6l-6 6M951 1151l6 6m0-6l-6 6M951 1192l6 6m0-6l-6 6M951 1091l6 6m0-6l-6 6M954 1135l6 6m0-6l-6 6M954 1101l6 6m0-6l-6 6M954 1161l6 6m0-6l-6 6M954 1176l6 6m0-6l-6 6M954 1049l6 6m0-6l-6 6M955 1175l6 6m0-6l-6 6M955 1167l6 6m0-6l-6 6M956 1156l6 6m0-6l-6 6M956 1165l6 6m0-6l-6 6M959 1066l6 6m0-6l-6 6M960 1202l6 6m0-6l-6 6M959 1203l6 6m0-6l-6 6M959 1221l6 6m0-6l-6 6M960 1094l6 6m0-6l-6 6M962 1195l6 6m0-6l-6 6M962 1208l6 6m0-6l-6 6M962 1142l6 6m0-6l-6 6M963 1207l6 6m0-6l-6 6M963 1177l6 6m0-6l-6 6M962 1164l6 6m0-6l-6 6M963 1210l6 6m0-6l-6 6M962 1217l6 6m0-6l-6 6M965 1237l6 6m0-6l-6 6M966 1227l6 6m0-6l-6 6M966 1228l6 6m0-6l-6 6M969 1271l6 6m0-6l-6 6M969 1236l6 6m0-6l-6 6M969 1184l6 6m0-6l-6 6M968 1166l6 6m0-6l-6 6M969 1116l6 6m0-6l-6 6M969 1212l6 6m0-6l-6 6M969 1278l6 6m0-6l-6 6M969 1205l6 6m0-6l-6 6M969 1289l6 6m0-6l-6 6M972 1231l6 6m0-6l-6 6M972 1171l6 6m0-6l-6 6M971 1252l6 6m0-6l-6 6M972 1265l6 6m0-6l-6 6M971 1252l6 6m0-6l-6 6M972 1153l6 6m0-6l-6 6M972 1220l6 6m0-6l-6 6M972 1130l6 6m0-6l-6 6M971 1203l6 6m0-6l-6 6M976 1125l6 6m0-6l-6 6M975 1243l6 6m0-6l-6 6M975 1223l6 6m0-6l-6 6M976 1266l6 6m0-6l-6 6M976 1118l6 6m0-6l-6 6M976 1165l6 6m0-6l-6 6M975 1225l6 6m0-6l-6 6M977 1151l6 6m0-6l-6 6M977 1115l6 6m0-6l-6 6M977 1089l6 6m0-6l-6 6M977 1191l6 6m0-6l-6 6M977 1109l6 6m0-6l-6 6M980 1132l6 6m0-6l-6 6M979 1154l6 6m0-6l-6 6M979 1194l6 6m0-6l-6 6M979 1171l6 6m0-6l-6 6M979 1216l6 6m0-6l-6 6M979 1161l6 6m0-6l-6 6M980 1144l6 6m0-6l-6 6M979 1229l6 6m0-6l-6 6M979 1198l6 6m0-6l-6 6M979 1189l6 6m0-6l-6 6M980 1056l6 6m0-6l-6 6M981 1118l6 6m0-6l-6 6M981 1022l6 6m0-6l-6 6M983 1225l6 6m0-6l-6 6M984 1248l6 6m0-6l-6 6M984 1152l6 6m0-6l-6 6M984 1178l6 6m0-6l-6 6M983 1155l6 6m0-6l-6 6M983 1156l6 6m0-6l-6 6M983 1195l6 6m0-6l-6 6M983 1247l6 6m0-6l-6 6M983 1212l6 6m0-6l-6 6M986 1038l6 6m0-6l-6 6M986 1094l6 6m0-6l-6 6M985 1045l6 6m0-6l-6 6M986 1039l6 6m0-6l-6 6M986 1088l6 6m0-6l-6 6M986 1127l6 6m0-6l-6 6M986 1060l6 6m0-6l-6 6M985 1060l6 6m0-6l-6 6M986 1075l6 6m0-6l-6 6M986 1124l6 6m0-6l-6 6M988 1139l6 6m0-6l-6 6M987 1166l6 6m0-6l-6 6M988 1231l6 6m0-6l-6 6M987 1143l6 6m0-6l-6 6M988 1196l6 6m0-6l-6 6M987 1241l6 6m0-6l-6 6M988 1240l6 6m0-6l-6 6M988 1215l6 6m0-6l-6 6M988 1184l6 6m0-6l-6 6M988 1233l6 6m0-6l-6 6M990 1197l6 6m0-6l-6 6M990 1149l6 6m0-6l-6 6M990 1148l6 6m0-6l-6 6M990 1151l6 6m0-6l-6 6M991 1179l6 6m0-6l-6 6M990 1264l6 6m0-6l-6 6M990 1185l6 6m0-6l-6 6M991 1162l6 6m0-6l-6 6M991 1154l6 6m0-6l-6 6M990 1128l6 6m0-6l-6 6M993 1054l6 6m0-6l-6 6M993 1071l6 6m0-6l-6 6M992 1082l6 6m0-6l-6 6M992 1102l6 6m0-6l-6 6M995 1176l6 6m0-6l-6 6M995 1193l6 6m0-6l-6 6M995 1136l6 6m0-6l-6 6M998 1174l6 6m0-6l-6 6M997 1078l6 6m0-6l-6 6M997 1165l6 6m0-6l-6 6M998 1068l6 6m0-6l-6 6M998 1163l6 6m0-6l-6 6M998 1085l6 6m0-6l-6 6M998 1121l6 6m0-6l-6 6M997 1121l6 6m0-6l-6 6M1000 1167l6 6m0-6l-6 6M1000 1273l6 6m0-6l-6 6M1000 1291l6 6m0-6l-6 6M1001 1208l6 6m0-6l-6 6M1001 1186l6 6m0-6l-6 6M1001 1243l6 6m0-6l-6 6M1000 1207l6 6m0-6l-6 6M1001 1278l6 6m0-6l-6 6M1001 1226l6 6m0-6l-6 6M1001 1223l6 6m0-6l-6 6M1001 1261l6 6m0-6l-6 6M1003 1276l6 6m0-6l-6 6M1004 1347l6 6m0-6l-6 6M1004 1278l6 6m0-6l-6 6M1004 1354l6 6m0-6l-6 6M1003 1334l6 6m0-6l-6 6M1003 1290l6 6m0-6l-6 6M1004 1347l6 6m0-6l-6 6M1004 1337l6 6m0-6l-6 6M1003 1256l6 6m0-6l-6 6M1005 1212l6 6m0-6l-6 6M1005 1140l6 6m0-6l-6 6M1005 1248l6 6m0-6l-6 6M1005 1151l6 6m0-6l-6 6M1005 1181l6 6m0-6l-6 6M1005 1193l6 6m0-6l-6 6M1004 1128l6 6m0-6l-6 6M1005 1195l6 6m0-6l-6 6M1008 1219l6 6m0-6l-6 6M1007 1175l6 6m0-6l-6 6M1007 1178l6 6m0-6l-6 6M1010 1128l6 6m0-6l-6 6M1010 1153l6 6m0-6l-6 6M1010 1112l6 6m0-6l-6 6M1011 1189l6 6m0-6l-6 6M1010 1126l6 6m0-6l-6 6M1010 1122l6 6m0-6l-6 6M1011 1285l6 6m0-6l-6 6M1012 1266l6 6m0-6l-6 6M1012 1172l6 6m0-6l-6 6M1012 1266l6 6m0-6l-6 6M1015 1060l6 6m0-6l-6 6M1014 1084l6 6m0-6l-6 6M1015 1129l6 6m0-6l-6 6M1015 1026l6 6m0-6l-6 6M1015 1137l6 6m0-6l-6 6M1016 1044l6 6m0-6l-6 6M1017 1163l6 6m0-6l-6 6M1016 1101l6 6m0-6l-6 6M1015 1160l6 6m0-6l-6 6M1016 1067l6 6m0-6l-6 6M1016 1114l6 6m0-6l-6 6M1016 1090l6 6m0-6l-6 6M1020 1157l6 6m0-6l-6 6M1020 1082l6 6m0-6l-6 6M1020 1221l6 6m0-6l-6 6M1019 1165l6 6m0-6l-6 6M1019 1128l6 6m0-6l-6 6M1020 1126l6 6m0-6l-6 6M1023 1157l6 6m0-6l-6 6M1023 1140l6 6m0-6l-6 6M1023 1145l6 6m0-6l-6 6M1023 1264l6 6m0-6l-6 6M1025 1116l6 6m0-6l-6 6M1024 1245l6 6m0-6l-6 6M1024 1100l6 6m0-6l-6 6M1024 1102l6 6m0-6l-6 6M1024 1147l6 6m0-6l-6 6M1025 1143l6 6m0-6l-6 6M1024 1162l6 6m0-6l-6 6M1024 1109l6 6m0-6l-6 6M1025 1166l6 6m0-6l-6 6M1024 1179l6 6m0-6l-6 6M1026 1216l6 6m0-6l-6 6M1026 1206l6 6m0-6l-6 6M1026 1186l6 6m0-6l-6 6M1027 1158l6 6m0-6l-6 6M1026 1208l6 6m0-6l-6 6M1026 1140l6 6m0-6l-6 6M1027 1151l6 6m0-6l-6 6M1026 1258l6 6m0-6l-6 6M1028 1119l6 6m0-6l-6 6M1028 1153l6 6m0-6l-6 6M1028 1151l6 6m0-6l-6 6M1028 1084l6 6m0-6l-6 6M1028 1118l6 6m0-6l-6 6M1028 1140l6 6m0-6l-6 6M1027 1172l6 6m0-6l-6 6M1029 1146l6 6m0-6l-6 6M1029 1137l6 6m0-6l-6 6M1029 1241l6 6m0-6l-6 6M1030 1214l6 6m0-6l-6 6M1029 1180l6 6m0-6l-6 6M1029 1256l6 6m0-6l-6 6M1029 1191l6 6m0-6l-6 6M1029 1233l6 6m0-6l-6 6M1029 1241l6 6m0-6l-6 6M1032 1150l6 6m0-6l-6 6M1032 1181l6 6m0-6l-6 6M1033 1204l6 6m0-6l-6 6M1032 1191l6 6m0-6l-6 6M1032 1156l6 6m0-6l-6 6M1033 1228l6 6m0-6l-6 6M1032 1216l6 6m0-6l-6 6M1032 1195l6 6m0-6l-6 6M1035 1237l6 6m0-6l-6 6M1035 1051l6 6m0-6l-6 6M1034 1151l6 6m0-6l-6 6M1035 1163l6 6m0-6l-6 6M1035 1106l6 6m0-6l-6 6M1035 1163l6 6m0-6l-6 6M1035 1157l6 6m0-6l-6 6M1035 1146l6 6m0-6l-6 6M1034 1156l6 6m0-6l-6 6M1034 1174l6 6m0-6l-6 6M1038 1171l6 6m0-6l-6 6M1038 1127l6 6m0-6l-6 6M1039 1078l6 6m0-6l-6 6M1041 1229l6 6m0-6l-6 6M1041 1129l6 6m0-6l-6 6M1041 1140l6 6m0-6l-6 6M1041 1181l6 6m0-6l-6 6M1041 1180l6 6m0-6l-6 6M1044 1103l6 6m0-6l-6 6M1044 1095l6 6m0-6l-6 6M1045 1200l6 6m0-6l-6 6M1045 1099l6 6m0-6l-6 6M1044 1186l6 6m0-6l-6 6M1045 1237l6 6m0-6l-6 6M1045 1139l6 6m0-6l-6 6M1047 1144l6 6m0-6l-6 6M1047 1106l6 6m0-6l-6 6M1048 1160l6 6m0-6l-6 6M1048 1154l6 6m0-6l-6 6M1048 1119l6 6m0-6l-6 6M1046 1124l6 6m0-6l-6 6M1047 1249l6 6m0-6l-6 6M1047 1148l6 6m0-6l-6 6M1047 1169l6 6m0-6l-6 6M1047 1155l6 6m0-6l-6 6M1050 1258l6 6m0-6l-6 6M1051 1139l6 6m0-6l-6 6M1050 1209l6 6m0-6l-6 6M1050 1190l6 6m0-6l-6 6M1050 1231l6 6m0-6l-6 6M1050 1240l6 6m0-6l-6 6M1050 1253l6 6m0-6l-6 6M1051 1327l6 6m0-6l-6 6M1050 1232l6 6m0-6l-6 6M1052 1098l6 6m0-6l-6 6M1053 1145l6 6m0-6l-6 6M1053 1205l6 6m0-6l-6 6M1053 1123l6 6m0-6l-6 6M1053 1095l6 6m0-6l-6 6M1053 1095l6 6m0-6l-6 6M1053 1176l6 6m0-6l-6 6M1056 1216l6 6m0-6l-6 6M1057 1250l6 6m0-6l-6 6M1056 1261l6 6m0-6l-6 6M1059 1088l6 6m0-6l-6 6M1058 1090l6 6m0-6l-6 6M1059 1172l6 6m0-6l-6 6M1058 1031l6 6m0-6l-6 6M1060 1195l6 6m0-6l-6 6M1061 1178l6 6m0-6l-6 6M1060 1174l6 6m0-6l-6 6M1060 1135l6 6m0-6l-6 6M1063 1166l6 6m0-6l-6 6M1064 1208l6 6m0-6l-6 6M1063 1157l6 6m0-6l-6 6M1064 1158l6 6m0-6l-6 6M1063 1231l6 6m0-6l-6 6M1064 1135l6 6m0-6l-6 6M1064 1155l6 6m0-6l-6 6M1065 1161l6 6m0-6l-6 6M1066 1140l6 6m0-6l-6 6M1065 1175l6 6m0-6l-6 6M1069 1092l6 6m0-6l-6 6M1069 1074l6 6m0-6l-6 6M1069 1162l6 6m0-6l-6 6M1069 1123l6 6m0-6l-6 6M1069 1068l6 6m0-6l-6 6M1069 1036l6 6m0-6l-6 6M1068 1093l6 6m0-6l-6 6M1069 1131l6 6m0-6l-6 6M1068 1011l6 6m0-6l-6 6M1072 1269l6 6m0-6l-6 6M1072 1235l6 6m0-6l-6 6M1073 1212l6 6m0-6l-6 6M1074 1261l6 6m0-6l-6 6M1075 1237l6 6m0-6l-6 6M1075 1290l6 6m0-6l-6 6M1077 1236l6 6m0-6l-6 6M1077 1170l6 6m0-6l-6 6M1076 1223l6 6m0-6l-6 6M1077 1238l6 6m0-6l-6 6M1077 1211l6 6m0-6l-6 6M1077 1231l6 6m0-6l-6 6M1077 1215l6 6m0-6l-6 6M1076 1221l6 6m0-6l-6 6M1077 1223l6 6m0-6l-6 6M1078 1091l6 6m0-6l-6 6M1078 1148l6 6m0-6l-6 6M1079 1169l6 6m0-6l-6 6M1078 1117l6 6m0-6l-6 6M1079 1064l6 6m0-6l-6 6M1078 1119l6 6m0-6l-6 6M1079 1184l6 6m0-6l-6 6M1078 1106l6 6m0-6l-6 6M1079 1124l6 6m0-6l-6 6M1079 1239l6 6m0-6l-6 6M1082 1163l6 6m0-6l-6 6M1082 1205l6 6m0-6l-6 6M1081 1118l6 6m0-6l-6 6M1082 1162l6 6m0-6l-6 6M1082 1140l6 6m0-6l-6 6M1085 1200l6 6m0-6l-6 6M1085 1089l6 6m0-6l-6 6M1085 1154l6 6m0-6l-6 6M1086 1156l6 6m0-6l-6 6M1086 1103l6 6m0-6l-6 6M1088 1040l6 6m0-6l-6 6M1088 1060l6 6m0-6l-6 6M1088 1145l6 6m0-6l-6 6M1087 1061l6 6m0-6l-6 6M1088 1121l6 6m0-6l-6 6M1088 1006l6 6m0-6l-6 6M1089 1288l6 6m0-6l-6 6M1090 1166l6 6m0-6l-6 6M1090 1196l6 6m0-6l-6 6M1088 1244l6 6m0-6l-6 6M1089 1288l6 6m0-6l-6 6M1089 1239l6 6m0-6l-6 6M1091 1162l6 6m0-6l-6 6M1092 1246l6 6m0-6l-6 6M1092 1258l6 6m0-6l-6 6M1093 1180l6 6m0-6l-6 6M1093 1184l6 6m0-6l-6 6M1092 1162l6 6m0-6l-6 6M1095 1154l6 6m0-6l-6 6M1095 1191l6 6m0-6l-6 6M1095 1035l6 6m0-6l-6 6M1095 1194l6 6m0-6l-6 6M1097 1160l6 6m0-6l-6 6M1098 1153l6 6m0-6l-6 6M1097 1121l6 6m0-6l-6 6M1099 1187l6 6m0-6l-6 6M1100 1209l6 6m0-6l-6 6M1099 1251l6 6m0-6l-6 6M1103 1262l6 6m0-6l-6 6M1103 1205l6 6m0-6l-6 6M1102 1191l6 6m0-6l-6 6M1103 1218l6 6m0-6l-6 6M1102 1219l6 6m0-6l-6 6M1104 1140l6 6m0-6l-6 6M1104 1210l6 6m0-6l-6 6M1105 1182l6 6m0-6l-6 6M1104 1197l6 6m0-6l-6 6M1105 1194l6 6m0-6l-6 6M1105 1176l6 6m0-6l-6 6M1107 1257l6 6m0-6l-6 6M1107 1204l6 6m0-6l-6 6M1106 1247l6 6m0-6l-6 6M1107 1236l6 6m0-6l-6 6M1106 1182l6 6m0-6l-6 6M1109 1209l6 6m0-6l-6 6M1109 1120l6 6m0-6l-6 6M1109 1155l6 6m0-6l-6 6M1111 1095l6 6m0-6l-6 6M1112 1116l6 6m0-6l-6 6M1112 1178l6 6m0-6l-6 6M1112 1121l6 6m0-6l-6 6M1111 1087l6 6m0-6l-6 6M1112 1113l6 6m0-6l-6 6M1112 1166l6 6m0-6l-6 6M1115 993l6 6m0-6l-6 6M1115 1071l6 6m0-6l-6 6M1115 1115l6 6m0-6l-6 6M1117 1116l6 6m0-6l-6 6M1117 1197l6 6m0-6l-6 6M1117 1181l6 6m0-6l-6 6M1117 1154l6 6m0-6l-6 6M1117 1133l6 6m0-6l-6 6M1117 1171l6 6m0-6l-6 6M1117 1148l6 6m0-6l-6 6M1117 1138l6 6m0-6l-6 6M1118 1153l6 6m0-6l-6 6M1121 1117l6 6m0-6l-6 6M1121 1247l6 6m0-6l-6 6M1120 1080l6 6m0-6l-6 6M1121 1182l6 6m0-6l-6 6M1120 1184l6 6m0-6l-6 6M1123 1232l6 6m0-6l-6 6M1123 1217l6 6m0-6l-6 6M1123 1145l6 6m0-6l-6 6M1123 1181l6 6m0-6l-6 6M1125 1121l6 6m0-6l-6 6M1124 1103l6 6m0-6l-6 6M1125 1100l6 6m0-6l-6 6M1125 1027l6 6m0-6l-6 6M1125 1180l6 6m0-6l-6 6M1125 1120l6 6m0-6l-6 6M1127 1098l6 6m0-6l-6 6M1127 1164l6 6m0-6l-6 6M1127 1096l6 6m0-6l-6 6M1127 1107l6 6m0-6l-6 6M1127 1138l6 6m0-6l-6 6M1129 1278l6 6m0-6l-6 6M1128 1302l6 6m0-6l-6 6M1129 1241l6 6m0-6l-6 6M1129 1316l6 6m0-6l-6 6M1128 1267l6 6m0-6l-6 6M1129 1296l6 6m0-6l-6 6M1129 1276l6 6m0-6l-6 6M1128 1258l6 6m0-6l-6 6M1129 1303l6 6m0-6l-6 6M1129 1272l6 6m0-6l-6 6M1131 1115l6 6m0-6l-6 6M1132 1192l6 6m0-6l-6 6M1131 1191l6 6m0-6l-6 6M1132 1097l6 6m0-6l-6 6M1131 1159l6 6m0-6l-6 6M1132 1157l6 6m0-6l-6 6M1131 1145l6 6m0-6l-6 6M1135 1239l6 6m0-6l-6 6M1135 1179l6 6m0-6l-6 6M1136 1178l6 6m0-6l-6 6M1136 1201l6 6m0-6l-6 6M1135 1243l6 6m0-6l-6 6M1135 1188l6 6m0-6l-6 6M1136 1152l6 6m0-6l-6 6M1139 1217l6 6m0-6l-6 6M1139 1210l6 6m0-6l-6 6M1138 1262l6 6m0-6l-6 6M1138 1299l6 6m0-6l-6 6M1138 1323l6 6m0-6l-6 6M1139 1245l6 6m0-6l-6 6M1140 1233l6 6m0-6l-6 6M1140 1168l6 6m0-6l-6 6M1140 1195l6 6m0-6l-6 6M1140 1076l6 6m0-6l-6 6M1140 1192l6 6m0-6l-6 6M1143 1157l6 6m0-6l-6 6M1143 1204l6 6m0-6l-6 6M1143 1243l6 6m0-6l-6 6M1143 1181l6 6m0-6l-6 6M1143 1183l6 6m0-6l-6 6M1143 1220l6 6m0-6l-6 6M1144 1049l6 6m0-6l-6 6M1144 1094l6 6m0-6l-6 6M1144 1123l6 6m0-6l-6 6M1144 1066l6 6m0-6l-6 6M1148 1135l6 6m0-6l-6 6M1148 1091l6 6m0-6l-6 6M1148 1165l6 6m0-6l-6 6M1148 1216l6 6m0-6l-6 6M1148 1155l6 6m0-6l-6 6M1148 1189l6 6m0-6l-6 6M1151 1003l6 6m0-6l-6 6M1151 1168l6 6m0-6l-6 6M1152 1142l6 6m0-6l-6 6M1154 1249l6 6m0-6l-6 6M1154 1221l6 6m0-6l-6 6M1155 1196l6 6m0-6l-6 6M1154 1223l6 6m0-6l-6 6M1154 1234l6 6m0-6l-6 6M1155 1244l6 6m0-6l-6 6M1155 1262l6 6m0-6l-6 6M1154 1310l6 6m0-6l-6 6M1155 1219l6 6m0-6l-6 6M1156 1170l6 6m0-6l-6 6M1156 1165l6 6m0-6l-6 6M1157 1224l6 6m0-6l-6 6M1157 1139l6 6m0-6l-6 6M1156 1093l6 6m0-6l-6 6M1157 1084l6 6m0-6l-6 6M1157 1204l6 6m0-6l-6 6M1157 1063l6 6m0-6l-6 6M1159 1169l6 6m0-6l-6 6M1160 1039l6 6m0-6l-6 6M1159 1165l6 6m0-6l-6 6M1159 1099l6 6m0-6l-6 6M1159 1083l6 6m0-6l-6 6M1159 1131l6 6m0-6l-6 6M1159 1096l6 6m0-6l-6 6M1159 1084l6 6m0-6l-6 6M1159 1088l6 6m0-6l-6 6M1162 1248l6 6m0-6l-6 6M1163 1228l6 6m0-6l-6 6M1163 1143l6 6m0-6l-6 6M1162 1285l6 6m0-6l-6 6M1163 1178l6 6m0-6l-6 6M1163 1233l6 6m0-6l-6 6M1163 1223l6 6m0-6l-6 6M1165 1196l6 6m0-6l-6 6M1165 1256l6 6m0-6l-6 6M1164 1194l6 6m0-6l-6 6M1165 1207l6 6m0-6l-6 6M1164 1180l6 6m0-6l-6 6M1168 1170l6 6m0-6l-6 6M1168 1182l6 6m0-6l-6 6M1169 1177l6 6m0-6l-6 6M1171 1122l6 6m0-6l-6 6M1171 1112l6 6m0-6l-6 6M1171 1115l6 6m0-6l-6 6M1173 1210l6 6m0-6l-6 6M1173 1211l6 6m0-6l-6 6M1173 1273l6 6m0-6l-6 6M1173 1214l6 6m0-6l-6 6M1173 1141l6 6m0-6l-6 6M1173 1245l6 6m0-6l-6 6M1173 1247l6 6m0-6l-6 6M1173 1187l6 6m0-6l-6 6M1173 1190l6 6m0-6l-6 6M1173 1258l6 6m0-6l-6 6M1175 1128l6 6m0-6l-6 6M1175 1140l6 6m0-6l-6 6M1175 1152l6 6m0-6l-6 6M1174 1159l6 6m0-6l-6 6M1174 1170l6 6m0-6l-6 6M1175 1186l6 6m0-6l-6 6M1174 1155l6 6m0-6l-6 6M1175 1145l6 6m0-6l-6 6M1174 1101l6 6m0-6l-6 6M1177 1232l6 6m0-6l-6 6M1177 1198l6 6m0-6l-6 6M1178 1268l6 6m0-6l-6 6M1177 1160l6 6m0-6l-6 6M1178 1177l6 6m0-6l-6 6M1179 1178l6 6m0-6l-6 6M1180 1172l6 6m0-6l-6 6M1179 1251l6 6m0-6l-6 6M1179 1227l6 6m0-6l-6 6M1179 1222l6 6m0-6l-6 6M1180 1298l6 6m0-6l-6 6M1179 1168l6 6m0-6l-6 6M1179 1222l6 6m0-6l-6 6M1183 1272l6 6m0-6l-6 6M1182 1131l6 6m0-6l-6 6M1183 1208l6 6m0-6l-6 6M1182 1122l6 6m0-6l-6 6M1182 1142l6 6m0-6l-6 6M1183 1143l6 6m0-6l-6 6M1183 1139l6 6m0-6l-6 6M1183 1024l6 6m0-6l-6 6M1184 1090l6 6m0-6l-6 6M1184 1073l6 6m0-6l-6 6M1185 1096l6 6m0-6l-6 6M1184 1234l6 6m0-6l-6 6M1185 1148l6 6m0-6l-6 6M1184 1076l6 6m0-6l-6 6M1184 1163l6 6m0-6l-6 6M1186 1136l6 6m0-6l-6 6M1186 1168l6 6m0-6l-6 6M1186 1056l6 6m0-6l-6 6M1185 1127l6 6m0-6l-6 6M1189 1201l6 6m0-6l-6 6M1188 1125l6 6m0-6l-6 6M1188 1212l6 6m0-6l-6 6M1188 1194l6 6m0-6l-6 6M1191 1196l6 6m0-6l-6 6M1191 1182l6 6m0-6l-6 6M1190 1174l6 6m0-6l-6 6M1190 1105l6 6m0-6l-6 6M1190 1153l6 6m0-6l-6 6M1191 1161l6 6m0-6l-6 6M1191 1166l6 6m0-6l-6 6M1191 1113l6 6m0-6l-6 6M1192 1130l6 6m0-6l-6 6M1192 1235l6 6m0-6l-6 6M1193 1121l6 6m0-6l-6 6M1192 1045l6 6m0-6l-6 6M1192 1121l6 6m0-6l-6 6M1192 1118l6 6m0-6l-6 6M1193 1074l6 6m0-6l-6 6M1192 1164l6 6m0-6l-6 6M1192 1103l6 6m0-6l-6 6M1196 1236l6 6m0-6l-6 6M1195 1157l6 6m0-6l-6 6M1196 1223l6 6m0-6l-6 6M1196 1177l6 6m0-6l-6 6M1196 1227l6 6m0-6l-6 6M1196 1183l6 6m0-6l-6 6M1199 1135l6 6m0-6l-6 6M1198 1174l6 6m0-6l-6 6M1198 1127l6 6m0-6l-6 6M1198 1096l6 6m0-6l-6 6M1198 1170l6 6m0-6l-6 6M1199 1208l6 6m0-6l-6 6M1198 1164l6 6m0-6l-6 6M1199 1173l6 6m0-6l-6 6M1200 1218l6 6m0-6l-6 6M1200 1278l6 6m0-6l-6 6M1199 1204l6 6m0-6l-6 6M1200 1174l6 6m0-6l-6 6M1200 1192l6 6m0-6l-6 6M1200 1288l6 6m0-6l-6 6M1201 1235l6 6m0-6l-6 6M1201 1156l6 6m0-6l-6 6M1201 1231l6 6m0-6l-6 6M1202 1285l6 6m0-6l-6 6M1201 1202l6 6m0-6l-6 6M1201 1255l6 6m0-6l-6 6M1201 1233l6 6m0-6l-6 6M1204 1129l6 6m0-6l-6 6M1203 1142l6 6m0-6l-6 6M1204 1180l6 6m0-6l-6 6M1207 1116l6 6m0-6l-6 6M1206 1187l6 6m0-6l-6 6M1207 1115l6 6m0-6l-6 6M1206 1151l6 6m0-6l-6 6M1207 1137l6 6m0-6l-6 6M1206 1021l6 6m0-6l-6 6M1207 1154l6 6m0-6l-6 6M1207 1153l6 6m0-6l-6 6M1211 1228l6 6m0-6l-6 6M1210 1176l6 6m0-6l-6 6M1210 1211l6 6m0-6l-6 6M1210 1260l6 6m0-6l-6 6M1212 1150l6 6m0-6l-6 6M1213 1151l6 6m0-6l-6 6M1213 1151l6 6m0-6l-6 6M1213 1218l6 6m0-6l-6 6M1213 1168l6 6m0-6l-6 6M1213 1108l6 6m0-6l-6 6M1213 1142l6 6m0-6l-6 6M1212 1211l6 6m0-6l-6 6M1213 1263l6 6m0-6l-6 6M1215 1157l6 6m0-6l-6 6M1215 1171l6 6m0-6l-6 6M1215 1170l6 6m0-6l-6 6M1215 1111l6 6m0-6l-6 6M1215 1179l6 6m0-6l-6 6M1215 1211l6 6m0-6l-6 6M1215 1088l6 6m0-6l-6 6M1215 1136l6 6m0-6l-6 6M1215 1123l6 6m0-6l-6 6M1216 1342l6 6m0-6l-6 6M1217 1289l6 6m0-6l-6 6M1217 1330l6 6m0-6l-6 6M1217 1264l6 6m0-6l-6 6M1220 1171l6 6m0-6l-6 6M1219 1142l6 6m0-6l-6 6M1220 1215l6 6m0-6l-6 6M1219 1182l6 6m0-6l-6 6M1220 1155l6 6m0-6l-6 6M1219 1174l6 6m0-6l-6 6M1219 1187l6 6m0-6l-6 6M1224 1086l6 6m0-6l-6 6M1223 1196l6 6m0-6l-6 6M1223 1186l6 6m0-6l-6 6M1223 1231l6 6m0-6l-6 6M1227 1095l6 6m0-6l-6 6M1226 1220l6 6m0-6l-6 6M1226 1151l6 6m0-6l-6 6M1227 1226l6 6m0-6l-6 6M1229 1118l6 6m0-6l-6 6M1229 1158l6 6m0-6l-6 6M1229 1192l6 6m0-6l-6 6M1229 1274l6 6m0-6l-6 6M1229 1185l6 6m0-6l-6 6M1229 1051l6 6m0-6l-6 6M1229 1236l6 6m0-6l-6 6M1229 1129l6 6m0-6l-6 6M1229 1206l6 6m0-6l-6 6M1230 1134l6 6m0-6l-6 6M1232 1156l6 6m0-6l-6 6M1232 1220l6 6m0-6l-6 6M1232 1218l6 6m0-6l-6 6M1232 1262l6 6m0-6l-6 6M1231 1127l6 6m0-6l-6 6M1231 1203l6 6m0-6l-6 6M1231 1200l6 6m0-6l-6 6M1232 1221l6 6m0-6l-6 6M1231 1225l6 6m0-6l-6 6M1231 1163l6 6m0-6l-6 6M1235 1242l6 6m0-6l-6 6M1235 1209l6 6m0-6l-6 6M1235 1192l6 6m0-6l-6 6M1235 1206l6 6m0-6l-6 6M1235 1189l6 6m0-6l-6 6M1239 1097l6 6m0-6l-6 6M1238 1160l6 6m0-6l-6 6M1238 1149l6 6m0-6l-6 6M1239 1164l6 6m0-6l-6 6M1242 1233l6 6m0-6l-6 6M1242 1151l6 6m0-6l-6 6M1242 1199l6 6m0-6l-6 6M1242 1155l6 6m0-6l-6 6M1243 1141l6 6m0-6l-6 6M1243 1201l6 6m0-6l-6 6M1242 1182l6 6m0-6l-6 6M1242 1193l6 6m0-6l-6 6M1245 1022l6 6m0-6l-6 6M1245 1149l6 6m0-6l-6 6M1245 1180l6 6m0-6l-6 6M1245 1170l6 6m0-6l-6 6M1247 1293l6 6m0-6l-6 6M1247 1262l6 6m0-6l-6 6M1247 1294l6 6m0-6l-6 6M1247 1293l6 6m0-6l-6 6M1247 1305l6 6m0-6l-6 6M1247 1189l6 6m0-6l-6 6M1247 1250l6 6m0-6l-6 6M1250 1239l6 6m0-6l-6 6M1249 1192l6 6m0-6l-6 6M1249 1179l6 6m0-6l-6 6M1249 1156l6 6m0-6l-6 6M1249 1206l6 6m0-6l-6 6M1253 1188l6 6m0-6l-6 6M1252 1134l6 6m0-6l-6 6M1253 1203l6 6m0-6l-6 6M1253 1055l6 6m0-6l-6 6M1252 1187l6 6m0-6l-6 6M1253 1157l6 6m0-6l-6 6M1252 1146l6 6m0-6l-6 6M1256 1236l6 6m0-6l-6 6M1256 1195l6 6m0-6l-6 6M1255 1151l6 6m0-6l-6 6M1256 1146l6 6m0-6l-6 6M1256 1259l6 6m0-6l-6 6M1255 1164l6 6m0-6l-6 6M1255 1126l6 6m0-6l-6 6M1257 1196l6 6m0-6l-6 6M1258 1138l6 6m0-6l-6 6M1257 1199l6 6m0-6l-6 6M1257 1127l6 6m0-6l-6 6M1258 1185l6 6m0-6l-6 6M1259 1179l6 6m0-6l-6 6M1259 1106l6 6m0-6l-6 6M1259 1205l6 6m0-6l-6 6M1260 1195l6 6m0-6l-6 6M1261 1123l6 6m0-6l-6 6M1261 1143l6 6m0-6l-6 6M1260 1052l6 6m0-6l-6 6M1261 1124l6 6m0-6l-6 6M1261 1171l6 6m0-6l-6 6M1261 1141l6 6m0-6l-6 6M1261 1196l6 6m0-6l-6 6M1260 1148l6 6m0-6l-6 6M1261 1121l6 6m0-6l-6 6M1263 1205l6 6m0-6l-6 6M1263 1217l6 6m0-6l-6 6M1263 1310l6 6m0-6l-6 6M1263 1189l6 6m0-6l-6 6M1266 1180l6 6m0-6l-6 6M1266 1108l6 6m0-6l-6 6M1265 1184l6 6m0-6l-6 6M1268 1158l6 6m0-6l-6 6M1267 1123l6 6m0-6l-6 6M1268 1140l6 6m0-6l-6 6M1268 1094l6 6m0-6l-6 6M1267 1156l6 6m0-6l-6 6M1267 1212l6 6m0-6l-6 6M1267 1254l6 6m0-6l-6 6M1268 1151l6 6m0-6l-6 6M1268 1115l6 6m0-6l-6 6M1270 1157l6 6m0-6l-6 6M1270 1229l6 6m0-6l-6 6M1269 1182l6 6m0-6l-6 6M1269 1233l6 6m0-6l-6 6M1269 1137l6 6m0-6l-6 6M1273 1166l6 6m0-6l-6 6M1273 1183l6 6m0-6l-6 6M1273 1234l6 6m0-6l-6 6M1273 1177l6 6m0-6l-6 6M1273 1161l6 6m0-6l-6 6M1273 1244l6 6m0-6l-6 6M1273 1203l6 6m0-6l-6 6M1275 1163l6 6m0-6l-6 6M1275 1153l6 6m0-6l-6 6M1275 1151l6 6m0-6l-6 6M1275 1173l6 6m0-6l-6 6M1275 1159l6 6m0-6l-6 6M1275 1265l6 6m0-6l-6 6M1275 1139l6 6m0-6l-6 6M1275 1191l6 6m0-6l-6 6M1275 1123l6 6m0-6l-6 6M1275 1143l6 6m0-6l-6 6M1277 1096l6 6m0-6l-6 6M1276 1096l6 6m0-6l-6 6M1276 1150l6 6m0-6l-6 6M1276 1157l6 6m0-6l-6 6M1277 1109l6 6m0-6l-6 6M1277 1126l6 6m0-6l-6 6M1279 1099l6 6m0-6l-6 6M1279 1240l6 6m0-6l-6 6M1279 1162l6 6m0-6l-6 6M1279 1074l6 6m0-6l-6 6M1279 1145l6 6m0-6l-6 6M1278 1168l6 6m0-6l-6 6M1278 1157l6 6m0-6l-6 6M1282 1192l6 6m0-6l-6 6M1282 1131l6 6m0-6l-6 6M1282 1177l6 6m0-6l-6 6M1282 1190l6 6m0-6l-6 6M1283 1205l6 6m0-6l-6 6M1282 1211l6 6m0-6l-6 6M1282 1298l6 6m0-6l-6 6M1282 1290l6 6m0-6l-6 6M1284 1079l6 6m0-6l-6 6M1283 1129l6 6m0-6l-6 6M1284 1070l6 6m0-6l-6 6M1283 1121l6 6m0-6l-6 6M1284 1029l6 6m0-6l-6 6M1284 1165l6 6m0-6l-6 6M1283 1038l6 6m0-6l-6 6M1283 1060l6 6m0-6l-6 6M1287 1244l6 6m0-6l-6 6M1286 1254l6 6m0-6l-6 6M1286 1222l6 6m0-6l-6 6M1286 1219l6 6m0-6l-6 6M1286 1182l6 6m0-6l-6 6M1287 1188l6 6m0-6l-6 6M1287 1174l6 6m0-6l-6 6M1286 1299l6 6m0-6l-6 6M1287 1238l6 6m0-6l-6 6M1290 1199l6 6m0-6l-6 6M1290 1199l6 6m0-6l-6 6M1289 1161l6 6m0-6l-6 6M1290 1142l6 6m0-6l-6 6M1290 1215l6 6m0-6l-6 6M1290 1150l6 6m0-6l-6 6M1290 1194l6 6m0-6l-6 6M1290 1205l6 6m0-6l-6 6M1290 1218l6 6m0-6l-6 6M1293 1080l6 6m0-6l-6 6M1293 1103l6 6m0-6l-6 6M1293 1228l6 6m0-6l-6 6M1293 1087l6 6m0-6l-6 6M1294 1093l6 6m0-6l-6 6M1293 1187l6 6m0-6l-6 6M1293 1127l6 6m0-6l-6 6M1293 1158l6 6m0-6l-6 6M1296 1098l6 6m0-6l-6 6M1295 1005l6 6m0-6l-6 6M1295 1041l6 6m0-6l-6 6M1298 1145l6 6m0-6l-6 6M1297 1225l6 6m0-6l-6 6M1297 1196l6 6m0-6l-6 6M1297 1171l6 6m0-6l-6 6M1299 1201l6 6m0-6l-6 6M1298 1184l6 6m0-6l-6 6M1299 1215l6 6m0-6l-6 6M1298 1199l6 6m0-6l-6 6M1302 1249l6 6m0-6l-6 6M1302 1098l6 6m0-6l-6 6M1302 1104l6 6m0-6l-6 6M1302 1131l6 6m0-6l-6 6M1304 1190l6 6m0-6l-6 6M1305 1178l6 6m0-6l-6 6M1304 1164l6 6m0-6l-6 6M1304 1252l6 6m0-6l-6 6M1304 1213l6 6m0-6l-6 6M1307 1220l6 6m0-6l-6 6M1307 1155l6 6m0-6l-6 6M1307 1306l6 6m0-6l-6 6M1308 1218l6 6m0-6l-6 6M1308 1290l6 6m0-6l-6 6M1309 1131l6 6m0-6l-6 6M1309 1071l6 6m0-6l-6 6M1310 1141l6 6m0-6l-6 6M1309 1138l6 6m0-6l-6 6M1312 1161l6 6m0-6l-6 6M1312 1115l6 6m0-6l-6 6M1313 1129l6 6m0-6l-6 6M1315 1084l6 6m0-6l-6 6M1315 1144l6 6m0-6l-6 6M1315 1192l6 6m0-6l-6 6M1315 1128l6 6m0-6l-6 6M1315 1188l6 6m0-6l-6 6M1315 1209l6 6m0-6l-6 6M1315 1234l6 6m0-6l-6 6M1315 1196l6 6m0-6l-6 6M1318 1035l6 6m0-6l-6 6M1319 1129l6 6m0-6l-6 6M1319 1146l6 6m0-6l-6 6M1318 1040l6 6m0-6l-6 6M1318 1056l6 6m0-6l-6 6M1318 1090l6 6m0-6l-6 6M1318 1172l6 6m0-6l-6 6M1321 1235l6 6m0-6l-6 6M1321 1223l6 6m0-6l-6 6M1322 1233l6 6m0-6l-6 6M1321 1175l6 6m0-6l-6 6M1321 1210l6 6m0-6l-6 6M1321 1284l6 6m0-6l-6 6M1321 1204l6 6m0-6l-6 6M1320 1174l6 6m0-6l-6 6M1321 1136l6 6m0-6l-6 6M1321 1196l6 6m0-6l-6 6M1325 1187l6 6m0-6l-6 6M1325 1200l6 6m0-6l-6 6M1325 1260l6 6m0-6l-6 6M1328 1166l6 6m0-6l-6 6M1327 1127l6 6m0-6l-6 6M1328 1182l6 6m0-6l-6 6M1328 1166l6 6m0-6l-6 6M1327 1193l6 6m0-6l-6 6M1331 1137l6 6m0-6l-6 6M1331 1253l6 6m0-6l-6 6M1330 1272l6 6m0-6l-6 6M1331 1245l6 6m0-6l-6 6M1331 1203l6 6m0-6l-6 6M1331 1266l6 6m0-6l-6 6M1331 1221l6 6m0-6l-6 6M1331 1233l6 6m0-6l-6 6M1330 1252l6 6m0-6l-6 6M1334 1150l6 6m0-6l-6 6M1334 1139l6 6m0-6l-6 6M1334 1196l6 6m0-6l-6 6M1333 1214l6 6m0-6l-6 6M1334 1197l6 6m0-6l-6 6M1334 1232l6 6m0-6l-6 6M1334 1163l6 6m0-6l-6 6M1336 1082l6 6m0-6l-6 6M1336 1168l6 6m0-6l-6 6M1335 1066l6 6m0-6l-6 6M1335 1033l6 6m0-6l-6 6M1336 1089l6 6m0-6l-6 6M1335 1063l6 6m0-6l-6 6M1336 1072l6 6m0-6l-6 6M1335 1028l6 6m0-6l-6 6M1339 1152l6 6m0-6l-6 6M1339 1227l6 6m0-6l-6 6M1338 1117l6 6m0-6l-6 6M1338 1153l6 6m0-6l-6 6M1338 1177l6 6m0-6l-6 6M1339 1173l6 6m0-6l-6 6M1338 1040l6 6m0-6l-6 6M1338 1078l6 6m0-6l-6 6M1341 1195l6 6m0-6l-6 6M1341 1155l6 6m0-6l-6 6M1340 1167l6 6m0-6l-6 6M1341 1163l6 6m0-6l-6 6M1342 1185l6 6m0-6l-6 6M1342 1206l6 6m0-6l-6 6M1343 1192l6 6m0-6l-6 6M1342 1222l6 6m0-6l-6 6M1342 1179l6 6m0-6l-6 6M1343 1215l6 6m0-6l-6 6M1344 1131l6 6m0-6l-6 6M1344 1193l6 6m0-6l-6 6M1346 1227l6 6m0-6l-6 6M1345 1172l6 6m0-6l-6 6M1345 1170l6 6m0-6l-6 6M1345 1223l6 6m0-6l-6 6M1346 1140l6 6m0-6l-6 6M1345 1238l6 6m0-6l-6 6M1345 1114l6 6m0-6l-6 6M1346 1248l6 6m0-6l-6 6M1346 1211l6 6m0-6l-6 6M1345 1173l6 6m0-6l-6 6M1347 1162l6 6m0-6l-6 6M1348 1172l6 6m0-6l-6 6M1348 1227l6 6m0-6l-6 6M1348 1176l6 6m0-6l-6 6M1348 1183l6 6m0-6l-6 6M1347 1151l6 6m0-6l-6 6M1347 1210l6 6m0-6l-6 6M1347 1199l6 6m0-6l-6 6M1348 1131l6 6m0-6l-6 6M1347 1215l6 6m0-6l-6 6M1351 1246l6 6m0-6l-6 6M1351 1206l6 6m0-6l-6 6M1351 1243l6 6m0-6l-6 6M1351 1188l6 6m0-6l-6 6M1350 1194l6 6m0-6l-6 6M1355 1127l6 6m0-6l-6 6M1354 1126l6 6m0-6l-6 6M1355 1008l6 6m0-6l-6 6M1354 1166l6 6m0-6l-6 6M1355 1142l6 6m0-6l-6 6M1354 1147l6 6m0-6l-6 6M1355 1123l6 6m0-6l-6 6M1356 1192l6 6m0-6l-6 6M1357 1176l6 6m0-6l-6 6M1356 1163l6 6m0-6l-6 6M1357 1230l6 6m0-6l-6 6M1356 1158l6 6m0-6l-6 6M1356 1092l6 6m0-6l-6 6M1358 1190l6 6m0-6l-6 6M1358 1254l6 6m0-6l-6 6M1358 1253l6 6m0-6l-6 6M1358 1166l6 6m0-6l-6 6M1357 1187l6 6m0-6l-6 6M1361 1121l6 6m0-6l-6 6M1361 1138l6 6m0-6l-6 6M1361 1090l6 6m0-6l-6 6M1361 1209l6 6m0-6l-6 6M1361 1231l6 6m0-6l-6 6M1364 1195l6 6m0-6l-6 6M1364 1215l6 6m0-6l-6 6M1365 1193l6 6m0-6l-6 6M1364 1257l6 6m0-6l-6 6M1364 1234l6 6m0-6l-6 6M1367 1097l6 6m0-6l-6 6M1367 1137l6 6m0-6l-6 6M1368 1138l6 6m0-6l-6 6M1368 1035l6 6m0-6l-6 6M1368 1044l6 6m0-6l-6 6M1367 1125l6 6m0-6l-6 6M1367 1029l6 6m0-6l-6 6M1367 1030l6 6m0-6l-6 6M1367 1026l6 6m0-6l-6 6M1369 1229l6 6m0-6l-6 6M1370 1137l6 6m0-6l-6 6M1369 1189l6 6m0-6l-6 6M1369 1233l6 6m0-6l-6 6M1370 1220l6 6m0-6l-6 6M1369 1151l6 6m0-6l-6 6M1372 1106l6 6m0-6l-6 6M1371 1084l6 6m0-6l-6 6M1371 1125l6 6m0-6l-6 6M1374 1225l6 6m0-6l-6 6M1374 1192l6 6m0-6l-6 6M1373 1184l6 6m0-6l-6 6M1373 1222l6 6m0-6l-6 6M1373 1176l6 6m0-6l-6 6M1373 1204l6 6m0-6l-6 6M1374 1172l6 6m0-6l-6 6M1376 1093l6 6m0-6l-6 6M1376 1106l6 6m0-6l-6 6M1376 1154l6 6m0-6l-6 6M1375 1206l6 6m0-6l-6 6M1376 1174l6 6m0-6l-6 6M1376 1185l6 6m0-6l-6 6M1376 1187l6 6m0-6l-6 6M1376 1184l6 6m0-6l-6 6M1378 1118l6 6m0-6l-6 6M1378 1079l6 6m0-6l-6 6M1378 1162l6 6m0-6l-6 6M1379 1093l6 6m0-6l-6 6M1378 1166l6 6m0-6l-6 6M1379 1198l6 6m0-6l-6 6M1378 1144l6 6m0-6l-6 6M1379 1127l6 6m0-6l-6 6M1379 1197l6 6m0-6l-6 6M1378 1144l6 6m0-6l-6 6M1381 1159l6 6m0-6l-6 6M1381 1119l6 6m0-6l-6 6M1381 1087l6 6m0-6l-6 6M1382 1195l6 6m0-6l-6 6M1384 1220l6 6m0-6l-6 6M1384 1091l6 6m0-6l-6 6M1384 1119l6 6m0-6l-6 6M1384 1137l6 6m0-6l-6 6M1384 1204l6 6m0-6l-6 6M1383 1131l6 6m0-6l-6 6M1386 1260l6 6m0-6l-6 6M1387 1174l6 6m0-6l-6 6M1386 1216l6 6m0-6l-6 6M1386 1195l6 6m0-6l-6 6M1386 1216l6 6m0-6l-6 6M1386 1168l6 6m0-6l-6 6M1386 1260l6 6m0-6l-6 6M1388 1214l6 6m0-6l-6 6M1388 1195l6 6m0-6l-6 6M1388 1194l6 6m0-6l-6 6M1388 1117l6 6m0-6l-6 6M1388 1134l6 6m0-6l-6 6M1391 1246l6 6m0-6l-6 6M1390 1145l6 6m0-6l-6 6M1390 1102l6 6m0-6l-6 6M1393 1168l6 6m0-6l-6 6M1393 1171l6 6m0-6l-6 6M1393 1197l6 6m0-6l-6 6M1392 1196l6 6m0-6l-6 6M1393 1233l6 6m0-6l-6 6M1392 1154l6 6m0-6l-6 6M1393 1190l6 6m0-6l-6 6M1396 1163l6 6m0-6l-6 6M1396 1140l6 6m0-6l-6 6M1397 1124l6 6m0-6l-6 6M1398 1260l6 6m0-6l-6 6M1398 1212l6 6m0-6l-6 6M1397 1190l6 6m0-6l-6 6M1398 1161l6 6m0-6l-6 6M1398 1213l6 6m0-6l-6 6M1397 1202l6 6m0-6l-6 6M1398 1172l6 6m0-6l-6 6M1401 1236l6 6m0-6l-6 6M1401 1135l6 6m0-6l-6 6M1401 1196l6 6m0-6l-6 6M1401 1181l6 6m0-6l-6 6M1401 1238l6 6m0-6l-6 6M1401 1112l6 6m0-6l-6 6M1403 1221l6 6m0-6l-6 6M1403 1105l6 6m0-6l-6 6M1404 1139l6 6m0-6l-6 6M1403 1102l6 6m0-6l-6 6M1404 1196l6 6m0-6l-6 6M1406 1164l6 6m0-6l-6 6M1406 1165l6 6m0-6l-6 6M1407 1185l6 6m0-6l-6 6M1406 1262l6 6m0-6l-6 6M1406 1246l6 6m0-6l-6 6M1409 1121l6 6m0-6l-6 6M1410 1111l6 6m0-6l-6 6M1409 1163l6 6m0-6l-6 6M1409 1173l6 6m0-6l-6 6M1411 1107l6 6m0-6l-6 6M1411 1108l6 6m0-6l-6 6M1411 1229l6 6m0-6l-6 6M1414 1212l6 6m0-6l-6 6M1413 1246l6 6m0-6l-6 6M1413 1210l6 6m0-6l-6 6M1415 1245l6 6m0-6l-6 6M1416 1140l6 6m0-6l-6 6M1415 1192l6 6m0-6l-6 6M1415 1185l6 6m0-6l-6 6M1416 1170l6 6m0-6l-6 6M1416 1141l6 6m0-6l-6 6M1416 1174l6 6m0-6l-6 6M1415 1218l6 6m0-6l-6 6M1415 1236l6 6m0-6l-6 6M1415 1114l6 6m0-6l-6 6M1419 1229l6 6m0-6l-6 6M1419 1222l6 6m0-6l-6 6" stroke="#000" stroke-width="1" fill="none" shape-rendering="crispEdges" clip-path="url(#clipRes)"/>
<text x="194" y="1381" font-size="25.1" font-weight="bold" text-anchor="start" fill="#000">Max Smoothing Residual: 1.994_Vdk1.D5&#160;&#160;Sigma= 0.645ns16/27_11/04/25Mn___-249.960</text>
<rect x="169" y="1511" width="541" height="1" fill="#000"/>
<rect x="169" y="1961" width="541" height="1" fill="#000"/>
<rect x="169" y="1511" width="1" height="451" fill="#000"/>
<rect x="709" y="1511" width="1" height="451" fill="#000"/>
<rect x="168" y="1497" width="2" height="15" fill="#000"/>
<rect x="168" y="1961" width="2" height="14" fill="#000"/>
<rect x="304" y="1497" width="2" height="15" fill="#000"/>
<rect x="304" y="1961" width="2" height="14" fill="#000"/>
<rect x="438" y="1497" width="2" height="15" fill="#000"/>
<rect x="438" y="1961" width="2" height="14" fill="#000"/>
<rect x="574" y="1497" width="2" height="15" fill="#000"/>
<rect x="574" y="1961" width="2" height="14" fill="#000"/>
<rect x="708" y="1497" width="2" height="15" fill="#000"/>
<rect x="708" y="1961" width="2" height="14" fill="#000"/>
<rect x="236" y="1504" width="2" height="8" fill="#000"/>
<rect x="236" y="1961" width="2" height="7" fill="#000"/>
<rect x="371" y="1504" width="2" height="8" fill="#000"/>
<rect x="371" y="1961" width="2" height="7" fill="#000"/>
<rect x="506" y="1504" width="2" height="8" fill="#000"/>
<rect x="506" y="1961" width="2" height="7" fill="#000"/>
<rect x="641" y="1504" width="2" height="8" fill="#000"/>
<rect x="641" y="1961" width="2" height="7" fill="#000"/>
<rect x="155" y="1566" width="15" height="2" fill="#000"/>
<rect x="708" y="1566" width="15" height="2" fill="#000"/>
<rect x="155" y="1679" width="15" height="2" fill="#000"/>
<rect x="708" y="1679" width="15" height="2" fill="#000"/>
<rect x="155" y="1791" width="15" height="2" fill="#000"/>
<rect x="708" y="1791" width="15" height="2" fill="#000"/>
<rect x="155" y="1904" width="15" height="2" fill="#000"/>
<rect x="708" y="1904" width="15" height="2" fill="#000"/>
<rect x="162" y="1510" width="8" height="2" fill="#000"/>
<rect x="708" y="1510" width="8" height="2" fill="#000"/>
<rect x="162" y="1622" width="8" height="2" fill="#000"/>
<rect x="708" y="1622" width="8" height="2" fill="#000"/>
<rect x="162" y="1735" width="8" height="2" fill="#000"/>
<rect x="708" y="1735" width="8" height="2" fill="#000"/>
<rect x="162" y="1847" width="8" height="2" fill="#000"/>
<rect x="708" y="1847" width="8" height="2" fill="#000"/>
<rect x="162" y="1960" width="8" height="2" fill="#000"/>
<rect x="708" y="1960" width="8" height="2" fill="#000"/>
<text x="144" y="1579.6" font-size="30" text-anchor="end" fill="#000" transform="matrix(1 0 0 1.08 0 -126.37)"><tspan dy="3">−</tspan><tspan dy="-3">12</tspan></text>
<text x="144" y="1692.1" font-size="30" text-anchor="end" fill="#000" transform="matrix(1 0 0 1.08 0 -135.37)"><tspan dy="3">−</tspan><tspan dy="-3">13</tspan></text>
<text x="144" y="1804.6" font-size="30" text-anchor="end" fill="#000" transform="matrix(1 0 0 1.08 0 -144.37)"><tspan dy="3">−</tspan><tspan dy="-3">14</tspan></text>
<text x="144" y="1917.1" font-size="30" text-anchor="end" fill="#000" transform="matrix(1 0 0 1.08 0 -153.37)"><tspan dy="3">−</tspan><tspan dy="-3">15</tspan></text>
<text x="169.0" y="2010.5" font-size="30" text-anchor="middle" fill="#000" transform="matrix(1 0 0 1.08 0 -160.84)">2</text>
<text x="304.0" y="2010.5" font-size="30" text-anchor="middle" fill="#000" transform="matrix(1 0 0 1.08 0 -160.84)">3</text>
<text x="439.0" y="2010.5" font-size="30" text-anchor="middle" fill="#000" transform="matrix(1 0 0 1.08 0 -160.84)">4</text>
<text x="574.0" y="2010.5" font-size="30" text-anchor="middle" fill="#000" transform="matrix(1 0 0 1.08 0 -160.84)">5</text>
<text x="709.0" y="2010.5" font-size="30" text-anchor="middle" fill="#000" transform="matrix(1 0 0 1.08 0 -160.84)">6</text>
<text x="440" y="2038.5" font-size="30" font-weight="bold" text-anchor="middle" fill="#000">Averaging time, log(<tspan font-family='"Liberation Serif", serif' font-weight="normal">τ</tspan>) (s)</text>
<text x="84" y="1736" font-size="30.3" font-weight="bold" text-anchor="middle" fill="#000" transform="rotate(-90 84 1736)">Modified Allan Deviation (10<tspan dy="-12" font-size="20">-15</tspan><tspan dy="12">)</tspan></text>
<text x="202" y="1546" font-size="18" font-weight="bold" text-anchor="start" fill="#000"><tspan font-family='"Liberation Serif", serif' font-weight="normal">τ</tspan> = 971s</text>
<circle cx="302" cy="1580" r="6" fill="#000"/>
<text x="302" y="1569" font-size="20" font-weight="bold" text-anchor="middle" fill="#F00">768.0</text>
<circle cx="342.9" cy="1626.9" r="6" fill="#000"/>
<text x="342.9" y="1615.9" font-size="20" font-weight="bold" text-anchor="middle" fill="#F00">294.9</text>
<circle cx="383.6" cy="1663.1" r="6" fill="#000"/>
<text x="383.6" y="1652.1" font-size="20" font-weight="bold" text-anchor="middle" fill="#F00">139.8</text>
<circle cx="424.4" cy="1688.3" r="6" fill="#000"/>
<text x="424.4" y="1677.3" font-size="20" font-weight="bold" text-anchor="middle" fill="#F00">83.4</text>
<circle cx="465" cy="1715.9" r="6" fill="#000"/>
<text x="465" y="1704.9" font-size="20" font-weight="bold" text-anchor="middle" fill="#F00">47.7</text>
<circle cx="505.4" cy="1752.9" r="6" fill="#000"/>
<text x="505.4" y="1741.9" font-size="20" font-weight="bold" text-anchor="middle" fill="#F00">22.4</text>
<circle cx="545.9" cy="1776.5" r="6" fill="#000"/>
<text x="545.9" y="1765.5" font-size="20" font-weight="bold" text-anchor="middle" fill="#F00">13.8</text>
<circle cx="586.8" cy="1797.5" r="6" fill="#000"/>
<text x="586.8" y="1786.5" font-size="20" font-weight="bold" text-anchor="middle" fill="#F00">9.0</text>
<circle cx="627.3" cy="1804.1" r="6" fill="#000"/>
<text x="627.3" y="1793.1" font-size="20" font-weight="bold" text-anchor="middle" fill="#F00">7.8</text>
<circle cx="668" cy="1844.6" r="6" fill="#000"/>
<text x="668" y="1833.6" font-size="20" font-weight="bold" text-anchor="middle" fill="#F00">3.4</text>
<g clip-path="url(#clipA)">
<circle cx="338.5" cy="1963" r="6" fill="#000"/>
<circle cx="379.1" cy="1963" r="6" fill="#000"/>
<circle cx="443.5" cy="1963" r="6" fill="#000"/>
<circle cx="484.2" cy="1963" r="6" fill="#000"/>
<circle cx="524.8" cy="1963" r="6" fill="#000"/>
<circle cx="565.4" cy="1963" r="6" fill="#000"/>
<circle cx="629.8" cy="1963" r="6" fill="#000"/>
<circle cx="679.5" cy="1963" r="6" fill="#000"/>
</g>
<text x="338.5" y="1950" font-size="20" font-weight="bold" text-anchor="middle" fill="#F00">h/2</text>
<text x="379.1" y="1950" font-size="20" font-weight="bold" text-anchor="middle" fill="#F00">h</text>
<text x="443.5" y="1950" font-size="20" font-weight="bold" text-anchor="middle" fill="#F00">d/8</text>
<text x="484.2" y="1950" font-size="20" font-weight="bold" text-anchor="middle" fill="#F00">d/4</text>
<text x="524.8" y="1950" font-size="20" font-weight="bold" text-anchor="middle" fill="#F00">d/2</text>
<text x="565.4" y="1950" font-size="20" font-weight="bold" text-anchor="middle" fill="#F00">day</text>
<text x="629.8" y="1950" font-size="20" font-weight="bold" text-anchor="middle" fill="#F00">ddd</text>
<text x="679.5" y="1950" font-size="20" font-weight="bold" text-anchor="middle" fill="#F00">wk</text>
<rect x="853" y="1511" width="541" height="1" fill="#000"/>
<rect x="853" y="1961" width="541" height="1" fill="#000"/>
<rect x="853" y="1511" width="1" height="451" fill="#000"/>
<rect x="1393" y="1511" width="1" height="451" fill="#000"/>
<rect x="884" y="1497" width="2" height="15" fill="#000"/>
<rect x="884" y="1961" width="2" height="14" fill="#000"/>
<rect x="1011" y="1497" width="2" height="15" fill="#000"/>
<rect x="1011" y="1961" width="2" height="14" fill="#000"/>
<rect x="1138" y="1497" width="2" height="15" fill="#000"/>
<rect x="1138" y="1961" width="2" height="14" fill="#000"/>
<rect x="1265" y="1497" width="2" height="15" fill="#000"/>
<rect x="1265" y="1961" width="2" height="14" fill="#000"/>
<rect x="1392" y="1497" width="2" height="15" fill="#000"/>
<rect x="1392" y="1961" width="2" height="14" fill="#000"/>
<rect x="948" y="1504" width="2" height="8" fill="#000"/>
<rect x="948" y="1961" width="2" height="7" fill="#000"/>
<rect x="1074" y="1504" width="2" height="8" fill="#000"/>
<rect x="1074" y="1961" width="2" height="7" fill="#000"/>
<rect x="1202" y="1504" width="2" height="8" fill="#000"/>
<rect x="1202" y="1961" width="2" height="7" fill="#000"/>
<rect x="1328" y="1504" width="2" height="8" fill="#000"/>
<rect x="1328" y="1961" width="2" height="7" fill="#000"/>
<rect x="839" y="1600" width="15" height="2" fill="#000"/>
<rect x="1392" y="1600" width="15" height="2" fill="#000"/>
<rect x="839" y="1780" width="15" height="2" fill="#000"/>
<rect x="1392" y="1780" width="15" height="2" fill="#000"/>
<rect x="839" y="1960" width="15" height="2" fill="#000"/>
<rect x="1392" y="1960" width="15" height="2" fill="#000"/>
<rect x="846" y="1510" width="8" height="2" fill="#000"/>
<rect x="1392" y="1510" width="8" height="2" fill="#000"/>
<rect x="846" y="1690" width="8" height="2" fill="#000"/>
<rect x="1392" y="1690" width="8" height="2" fill="#000"/>
<rect x="846" y="1870" width="8" height="2" fill="#000"/>
<rect x="1392" y="1870" width="8" height="2" fill="#000"/>
<text x="826" y="1613.9" font-size="30" text-anchor="end" fill="#000" transform="matrix(1 0 0 1.08 0 -129.11)"><tspan dy="3">−</tspan><tspan dy="-3">8</tspan></text>
<text x="826" y="1793.9" font-size="30" text-anchor="end" fill="#000" transform="matrix(1 0 0 1.08 0 -143.51)"><tspan dy="3">−</tspan><tspan dy="-3">9</tspan></text>
<text x="826" y="1973.9" font-size="30" text-anchor="end" fill="#000" transform="matrix(1 0 0 1.08 0 -157.91)"><tspan dy="3">−</tspan><tspan dy="-3">10</tspan></text>
<text x="884.5" y="2010.5" font-size="30" text-anchor="middle" fill="#000" transform="matrix(1 0 0 1.08 0 -160.84)">2</text>
<text x="1011.5" y="2010.5" font-size="30" text-anchor="middle" fill="#000" transform="matrix(1 0 0 1.08 0 -160.84)">3</text>
<text x="1138.5" y="2010.5" font-size="30" text-anchor="middle" fill="#000" transform="matrix(1 0 0 1.08 0 -160.84)">4</text>
<text x="1265.5" y="2010.5" font-size="30" text-anchor="middle" fill="#000" transform="matrix(1 0 0 1.08 0 -160.84)">5</text>
<text x="1392.5" y="2010.5" font-size="30" text-anchor="middle" fill="#000" transform="matrix(1 0 0 1.08 0 -160.84)">6</text>
<text x="1124" y="2038.5" font-size="30" font-weight="bold" text-anchor="middle" fill="#000">Averaging time, log(<tspan font-family='"Liberation Serif", serif' font-weight="normal">τ</tspan>) (s)</text>
<text x="767" y="1737" font-size="30.4" font-weight="bold" text-anchor="middle" fill="#000" transform="rotate(-90 767 1737)">Time deviation (10<tspan dy="-11" font-size="20">-10</tspan><tspan dy="11"> s)</tspan></text>
<circle cx="1010.2" cy="1847" r="6" fill="#000"/>
<text x="1010.2" y="1829" font-size="19" font-weight="bold" text-anchor="middle" fill="#F00">4.3</text>
<circle cx="1048.3" cy="1867.1" r="6" fill="#000"/>
<text x="1048.3" y="1849.1" font-size="19" font-weight="bold" text-anchor="middle" fill="#F00">3.3</text>
<circle cx="1086.8" cy="1871.1" r="6" fill="#000"/>
<text x="1086.8" y="1853.1" font-size="19" font-weight="bold" text-anchor="middle" fill="#F00">3.1</text>
<circle cx="1125" cy="1857.7" r="6" fill="#000"/>
<text x="1125" y="1839.7" font-size="19" font-weight="bold" text-anchor="middle" fill="#F00">3.7</text>
<circle cx="1162.8" cy="1846.9" r="6" fill="#000"/>
<text x="1162.8" y="1828.9" font-size="19" font-weight="bold" text-anchor="middle" fill="#F00">4.3</text>
<circle cx="1201.6" cy="1851.8" r="6" fill="#000"/>
<text x="1201.6" y="1833.8" font-size="19" font-weight="bold" text-anchor="middle" fill="#F00">4.0</text>
<circle cx="1240" cy="1835.6" r="6" fill="#000"/>
<text x="1240" y="1817.6" font-size="19" font-weight="bold" text-anchor="middle" fill="#F00">5.0</text>
<circle cx="1278.2" cy="1814.7" r="6" fill="#000"/>
<text x="1278.2" y="1796.7" font-size="19" font-weight="bold" text-anchor="middle" fill="#F00">6.5</text>
<circle cx="1316" cy="1771.1" r="6" fill="#000"/>
<text x="1316" y="1753.1" font-size="19" font-weight="bold" text-anchor="middle" fill="#F00">11.3</text>
<circle cx="1354.2" cy="1783" r="6" fill="#000"/>
<text x="1354.2" y="1765" font-size="19" font-weight="bold" text-anchor="middle" fill="#F00">9.7</text>
<g clip-path="url(#clipB)">
<circle cx="1043.9" cy="1959" r="6" fill="#000"/>
<circle cx="1082.2" cy="1959" r="6" fill="#000"/>
<circle cx="1142.7" cy="1959" r="6" fill="#000"/>
<circle cx="1181.0" cy="1959" r="6" fill="#000"/>
<circle cx="1219.2" cy="1959" r="6" fill="#000"/>
<circle cx="1257.4" cy="1959" r="6" fill="#000"/>
<circle cx="1318.0" cy="1959" r="6" fill="#000"/>
<circle cx="1364.8" cy="1959" r="6" fill="#000"/>
</g>
<text x="1043.9" y="1943" font-size="20" font-weight="bold" text-anchor="middle" fill="#F00">h/2</text>
<text x="1082.2" y="1943" font-size="20" font-weight="bold" text-anchor="middle" fill="#F00">h</text>
<text x="1142.7" y="1943" font-size="20" font-weight="bold" text-anchor="middle" fill="#F00">d/8</text>
<text x="1181.0" y="1943" font-size="20" font-weight="bold" text-anchor="middle" fill="#F00">d/4</text>
<text x="1219.2" y="1943" font-size="20" font-weight="bold" text-anchor="middle" fill="#F00">d/2</text>
<text x="1257.4" y="1943" font-size="20" font-weight="bold" text-anchor="middle" fill="#F00">day</text>
<text x="1318.0" y="1943" font-size="20" font-weight="bold" text-anchor="middle" fill="#F00">ddd</text>
<text x="1364.8" y="1943" font-size="20" font-weight="bold" text-anchor="middle" fill="#F00">wk</text>
</g>
</svg></body></html>
